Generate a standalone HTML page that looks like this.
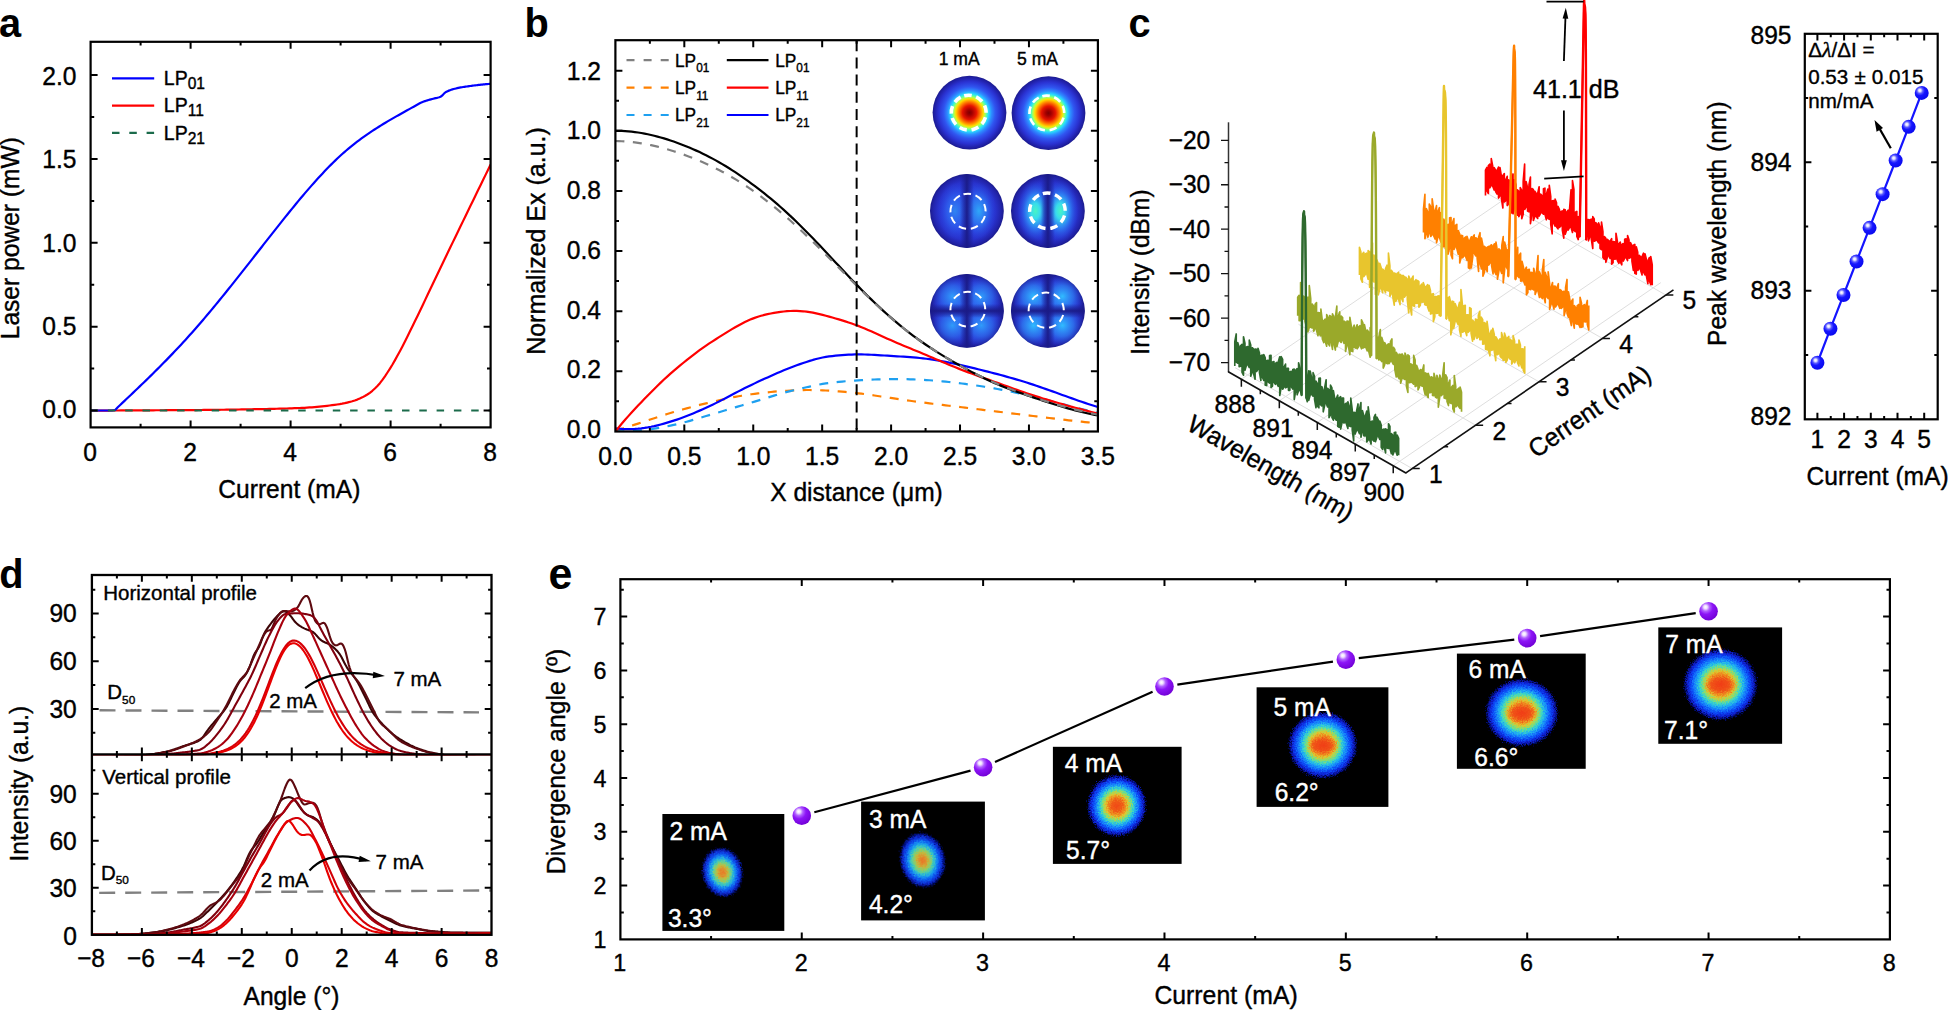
<!DOCTYPE html>
<html><head><meta charset="utf-8"><title>Figure</title>
<style>
html,body{margin:0;padding:0;background:#fff;overflow:hidden}
svg{display:block}
text{font-family:"Liberation Sans",sans-serif;stroke-width:.38px;stroke-linejoin:round}
</style></head><body>
<svg width="1949" height="1010" viewBox="0 0 1949 1010">
<rect width="1949" height="1010" fill="#fff"/>
<g id="pa">
<text transform="translate(-1 37.2) scale(1 1.045)" font-size="39.8" font-weight="bold" >a</text>
<clipPath id="ca"><rect x="90.6" y="41.8" width="400" height="385.6"/></clipPath>
<g clip-path="url(#ca)">
<polyline points="90.6,410.6 93.12,410.59 95.63,410.58 98.15,410.57 100.66,410.56 103.18,410.55 105.69,410.54 108.21,410.53 110.73,410.52 113.24,410.51 115.76,410.5 118.27,410.48 120.79,410.47 123.3,410.46 125.82,410.44 128.34,410.43 130.85,410.41 133.37,410.4 135.88,410.38 138.4,410.37 140.91,410.35 143.43,410.34 145.95,410.32 148.46,410.31 150.98,410.29 153.49,410.28 156.01,410.27 158.52,410.25 161.04,410.24 163.56,410.23 166.07,410.21 168.59,410.2 171.1,410.19 173.62,410.17 176.13,410.16 178.65,410.15 181.17,410.13 183.68,410.12 186.2,410.1 188.71,410.08 191.23,410.07 193.74,410.05 196.26,410.03 198.78,410.01 201.29,409.99 203.81,409.97 206.32,409.94 208.84,409.92 211.35,409.89 213.87,409.86 216.39,409.83 218.9,409.79 221.42,409.76 223.93,409.73 226.45,409.69 228.96,409.65 231.48,409.61 234,409.57 236.51,409.53 239.03,409.49 241.54,409.45 244.06,409.41 246.57,409.36 249.09,409.32 251.61,409.27 254.12,409.22 256.64,409.18 259.15,409.13 261.67,409.08 264.18,409.03 266.7,408.98 269.22,408.93 271.73,408.87 274.25,408.82 276.76,408.75 279.28,408.69 281.79,408.62 284.31,408.55 286.83,408.48 289.34,408.4 291.86,408.31 294.37,408.22 296.89,408.13 299.41,408.02 301.92,407.91 304.44,407.78 306.95,407.64 309.47,407.47 311.98,407.28 314.5,407.08 317.02,406.86 319.53,406.62 322.05,406.37 324.56,406.1 327.08,405.82 329.59,405.52 332.11,405.2 334.63,404.87 337.14,404.52 339.66,404.13 342.17,403.68 344.69,403.16 347.2,402.58 349.72,401.94 352.24,401.24 354.75,400.48 357.27,399.61 359.78,398.56 362.3,397.36 364.81,396 367.33,394.5 369.85,392.79 372.36,390.77 374.88,388.46 377.39,385.91 379.91,383.14 382.42,379.92 384.94,376.33 387.46,372.5 389.97,368.54 392.49,364.46 395,360.12 397.52,355.58 400.03,350.94 402.55,346.16 405.07,341.22 407.58,336.18 410.1,331.1 412.61,326 415.13,320.85 417.64,315.65 420.16,310.41 422.68,305.15 425.19,299.87 427.71,294.58 430.22,289.28 432.74,283.99 435.25,278.7 437.77,273.44 440.29,268.21 442.8,262.99 445.32,257.77 447.83,252.56 450.35,247.35 452.86,242.14 455.38,236.94 457.9,231.74 460.41,226.55 462.93,221.36 465.44,216.18 467.96,211 470.47,205.83 472.99,200.66 475.51,195.49 478.02,190.33 480.54,185.18 483.05,180.03 485.57,174.88 488.08,169.74 490.6,164.6" fill="none" stroke="#ff0000" stroke-width="2.2" stroke-linejoin="round" />
<polyline points="90.6,410.5 112,410.5 115.2,410 118,406.98 120.17,404.94 122.35,402.89 124.52,400.85 126.7,398.79 128.87,396.74 131.04,394.68 133.22,392.62 135.39,390.55 137.57,388.47 139.74,386.39 141.92,384.29 144.09,382.2 146.26,380.09 148.44,377.97 150.61,375.84 152.79,373.71 154.96,371.56 157.13,369.39 159.31,367.22 161.48,365.03 163.66,362.83 165.83,360.62 168,358.39 170.18,356.14 172.35,353.88 174.53,351.6 176.7,349.3 178.87,346.99 181.05,344.65 183.22,342.3 185.4,339.92 187.57,337.53 189.75,335.11 191.92,332.67 194.09,330.22 196.27,327.74 198.44,325.24 200.62,322.72 202.79,320.18 204.96,317.63 207.14,315.06 209.31,312.47 211.49,309.86 213.66,307.25 215.83,304.61 218.01,301.97 220.18,299.31 222.36,296.63 224.53,293.95 226.71,291.26 228.88,288.55 231.05,285.84 233.23,283.11 235.4,280.38 237.58,277.64 239.75,274.9 241.92,272.15 244.1,269.39 246.27,266.63 248.45,263.86 250.62,261.09 252.79,258.32 254.97,255.55 257.14,252.77 259.32,249.99 261.49,247.22 263.66,244.44 265.84,241.67 268.01,238.9 270.19,236.13 272.36,233.36 274.54,230.6 276.71,227.85 278.88,225.1 281.06,222.36 283.23,219.63 285.41,216.92 287.58,214.21 289.75,211.52 291.93,208.84 294.1,206.18 296.28,203.54 298.45,200.91 300.62,198.31 302.8,195.72 304.97,193.16 307.15,190.62 309.32,188.11 311.49,185.62 313.67,183.16 315.84,180.73 318.02,178.33 320.19,175.96 322.37,173.63 324.54,171.33 326.71,169.06 328.89,166.83 331.06,164.64 333.24,162.49 335.41,160.38 337.58,158.31 339.76,156.29 341.93,154.31 344.11,152.38 346.28,150.49 348.45,148.65 350.63,146.85 352.8,145.1 354.98,143.38 357.15,141.7 359.33,140.06 361.5,138.46 363.67,136.89 365.85,135.35 368.02,133.85 370.2,132.37 372.37,130.92 374.54,129.5 376.72,128.1 378.89,126.73 381.07,125.37 383.24,124.04 385.41,122.73 387.59,121.43 389.76,120.16 391.94,118.89 394.11,117.64 396.28,116.4 398.46,115.17 400.63,113.95 402.81,112.73 404.98,111.52 407.16,110.32 409.33,109.11 411.5,107.91 413.68,106.71 415.85,105.5 418.03,104.29 420.2,103.08 421.39,102.56 422.59,102.04 423.78,101.56 424.97,101.11 426.17,100.71 427.36,100.35 428.55,100.01 429.75,99.68 430.94,99.36 432.13,99.04 433.33,98.71 434.52,98.41 435.71,98.13 436.91,97.86 438.1,97.55 439.29,97.19 440.48,96.74 441.68,96.04 442.87,94.88 444.06,93.57 445.26,92.43 446.45,91.72 447.64,91.14 448.84,90.63 450.03,90.17 451.22,89.76 452.42,89.39 453.61,89.05 454.8,88.74 456,88.45 457.19,88.18 458.38,87.92 459.58,87.68 460.77,87.45 461.96,87.24 463.16,87.03 464.35,86.84 465.54,86.66 466.74,86.48 467.93,86.31 469.12,86.14 470.32,85.98 471.51,85.83 472.7,85.67 473.89,85.52 475.09,85.37 476.28,85.22 477.47,85.08 478.67,84.94 479.86,84.8 481.05,84.67 482.25,84.54 483.44,84.42 484.63,84.3 485.83,84.19 487.02,84.09 488.21,83.98 489.41,83.89 490.6,83.8" fill="none" stroke="#0000ff" stroke-width="2.2" stroke-linejoin="round" />
<line x1="90.6" y1="410.5" x2="490.6" y2="410.5" stroke="#1b6b4b" stroke-width="2" stroke-dasharray="7.5 9.8"/>
</g>
<rect x="90.6" y="41.8" width="400" height="385.6" fill="none" stroke="#000" stroke-width="2.2"/>
<path d="M190.6 427.4v-7M290.6 427.4v-7M390.6 427.4v-7" stroke="#000" stroke-width="2" fill="none"/>
<path d="M140.6 427.4v-3.6M240.6 427.4v-3.6M340.6 427.4v-3.6M440.6 427.4v-3.6" stroke="#000" stroke-width="2" fill="none"/>
<path d="M190.6 41.8v7M290.6 41.8v7M390.6 41.8v7" stroke="#000" stroke-width="2" fill="none"/>
<path d="M140.6 41.8v3.6M240.6 41.8v3.6M340.6 41.8v3.6M440.6 41.8v3.6" stroke="#000" stroke-width="2" fill="none"/>
<path d="M90.6 410.5h7M90.6 326.65h7M90.6 242.8h7M90.6 158.95h7M90.6 75.1h7" stroke="#000" stroke-width="2" fill="none"/>
<path d="M90.6 368.57h3.6M90.6 284.73h3.6M90.6 200.88h3.6M90.6 117.03h3.6" stroke="#000" stroke-width="2" fill="none"/>
<path d="M490.6 410.5h-7M490.6 326.65h-7M490.6 242.8h-7M490.6 158.95h-7M490.6 75.1h-7" stroke="#000" stroke-width="2" fill="none"/>
<path d="M490.6 368.57h-3.6M490.6 284.73h-3.6M490.6 200.88h-3.6M490.6 117.03h-3.6" stroke="#000" stroke-width="2" fill="none"/>
<text transform="translate(90 461.2) scale(1 1.045)" font-size="24.6" text-anchor="middle" stroke="#000" >0</text>
<text transform="translate(190 461.2) scale(1 1.045)" font-size="24.6" text-anchor="middle" stroke="#000" >2</text>
<text transform="translate(290 461.2) scale(1 1.045)" font-size="24.6" text-anchor="middle" stroke="#000" >4</text>
<text transform="translate(390 461.2) scale(1 1.045)" font-size="24.6" text-anchor="middle" stroke="#000" >6</text>
<text transform="translate(490 461.2) scale(1 1.045)" font-size="24.6" text-anchor="middle" stroke="#000" >8</text>
<text transform="translate(76.4 418) scale(1 1.045)" font-size="24.6" text-anchor="end" stroke="#000" >0.0</text>
<text transform="translate(76.4 334.75) scale(1 1.045)" font-size="24.6" text-anchor="end" stroke="#000" >0.5</text>
<text transform="translate(76.4 251.5) scale(1 1.045)" font-size="24.6" text-anchor="end" stroke="#000" >1.0</text>
<text transform="translate(76.4 168.25) scale(1 1.045)" font-size="24.6" text-anchor="end" stroke="#000" >1.5</text>
<text transform="translate(76.4 85) scale(1 1.045)" font-size="24.6" text-anchor="end" stroke="#000" >2.0</text>
<text transform="translate(289.3 497.8) scale(1 1.045)" font-size="24.6" text-anchor="middle" stroke="#000" >Current (mA)</text>
<text transform="translate(18.9 238.2) rotate(-90) scale(1 1.045)" font-size="24.6" text-anchor="middle" stroke="#000" >Laser power (mW)</text>
<line x1="112" y1="78.3" x2="154.2" y2="78.3" stroke="#0000ff" stroke-width="2.2" />
<text transform="translate(163.8 85) scale(1 1.045)" font-size="19.5" stroke="#000" >LP<tspan font-size="15.6" dy="3.8">01</tspan></text>
<line x1="112" y1="105.6" x2="154.2" y2="105.6" stroke="#ff0000" stroke-width="2.2" />
<text transform="translate(163.8 112.3) scale(1 1.045)" font-size="19.5" stroke="#000" >LP<tspan font-size="15.6" dy="3.8">11</tspan></text>
<line x1="112" y1="132.9" x2="154.2" y2="132.9" stroke="#1b6b4b" stroke-width="2.2" stroke-dasharray="7.5 9.8"/>
<text transform="translate(163.8 139.6) scale(1 1.045)" font-size="19.5" stroke="#000" >LP<tspan font-size="15.6" dy="3.8">21</tspan></text>
</g>
<g id="pb">
<text transform="translate(524.5 37.4) scale(1 1.045)" font-size="39.8" font-weight="bold" >b</text>
<clipPath id="cb"><rect x="615.4" y="40.2" width="482.5" height="391.3"/></clipPath>
<g clip-path="url(#cb)">
<polyline points="615.4,430.8 618.64,429.82 621.88,428.82 625.11,427.81 628.35,426.77 631.59,425.73 634.83,424.67 638.07,423.6 641.3,422.53 644.54,421.45 647.78,420.37 651.02,419.29 654.26,418.21 657.5,417.14 660.73,416.08 663.97,415.04 667.21,414.02 670.45,413.02 673.69,412.04 676.92,411.09 680.16,410.15 683.4,409.23 686.64,408.33 689.88,407.45 693.11,406.59 696.35,405.74 699.59,404.92 702.83,404.13 706.07,403.35 709.3,402.6 712.54,401.86 715.78,401.12 719.02,400.39 722.26,399.65 725.49,398.91 728.73,398.2 731.97,397.51 735.21,396.87 738.45,396.27 741.69,395.72 744.92,395.21 748.16,394.73 751.4,394.28 754.64,393.85 757.88,393.44 761.11,393.04 764.35,392.67 767.59,392.31 770.83,391.99 774.07,391.69 777.3,391.42 780.54,391.17 783.78,390.94 787.02,390.74 790.26,390.56 793.49,390.39 796.73,390.25 799.97,390.14 803.21,390.07 806.45,390.02 809.69,390.01 812.92,390.04 816.16,390.1 819.4,390.2 822.64,390.33 825.88,390.49 829.11,390.67 832.35,390.89 835.59,391.12 838.83,391.37 842.07,391.64 845.3,391.93 848.54,392.24 851.78,392.57 855.02,392.92 858.26,393.3 861.49,393.7 864.73,394.13 867.97,394.57 871.21,395.03 874.45,395.51 877.69,395.99 880.92,396.48 884.16,396.98 887.4,397.47 890.64,397.96 893.88,398.45 897.11,398.93 900.35,399.4 903.59,399.86 906.83,400.32 910.07,400.77 913.3,401.22 916.54,401.66 919.78,402.09 923.02,402.51 926.26,402.93 929.49,403.34 932.73,403.75 935.97,404.15 939.21,404.55 942.45,404.94 945.68,405.33 948.92,405.72 952.16,406.11 955.4,406.5 958.64,406.88 961.88,407.27 965.11,407.67 968.35,408.06 971.59,408.46 974.83,408.85 978.07,409.25 981.3,409.64 984.54,410.04 987.78,410.44 991.02,410.84 994.26,411.23 997.49,411.63 1000.73,412.02 1003.97,412.42 1007.21,412.81 1010.45,413.2 1013.68,413.6 1016.92,413.99 1020.16,414.39 1023.4,414.79 1026.64,415.18 1029.88,415.58 1033.11,415.98 1036.35,416.38 1039.59,416.78 1042.83,417.19 1046.07,417.58 1049.3,417.98 1052.54,418.38 1055.78,418.77 1059.02,419.16 1062.26,419.54 1065.49,419.92 1068.73,420.29 1071.97,420.66 1075.21,421.02 1078.45,421.37 1081.68,421.71 1084.92,422.05 1088.16,422.37 1091.4,422.69 1094.64,422.99 1097.88,423.28" fill="none" stroke="#ff8000" stroke-width="2.2" stroke-linejoin="round" stroke-dasharray="9 8.5"/>
<polyline points="615.4,431.4 618.64,431.45 621.88,431.44 625.11,431.4 628.35,431.3 631.59,431.16 634.83,430.96 638.07,430.72 641.3,430.42 644.54,430.07 647.78,429.67 651.02,429.22 654.26,428.71 657.5,428.16 660.73,427.57 663.97,426.94 667.21,426.3 670.45,425.63 673.69,424.93 676.92,424.2 680.16,423.44 683.4,422.62 686.64,421.76 689.88,420.85 693.11,419.91 696.35,418.95 699.59,417.98 702.83,417.01 706.07,416.06 709.3,415.11 712.54,414.16 715.78,413.2 719.02,412.24 722.26,411.27 725.49,410.29 728.73,409.31 731.97,408.33 735.21,407.35 738.45,406.39 741.69,405.44 744.92,404.5 748.16,403.55 751.4,402.59 754.64,401.61 757.88,400.62 761.11,399.62 764.35,398.61 767.59,397.61 770.83,396.6 774.07,395.61 777.3,394.64 780.54,393.7 783.78,392.78 787.02,391.9 790.26,391.07 793.49,390.27 796.73,389.51 799.97,388.76 803.21,388.03 806.45,387.29 809.69,386.56 812.92,385.85 816.16,385.17 819.4,384.53 822.64,383.95 825.88,383.43 829.11,382.97 832.35,382.56 835.59,382.19 838.83,381.86 842.07,381.55 845.3,381.26 848.54,381 851.78,380.75 855.02,380.53 858.26,380.31 861.49,380.12 864.73,379.94 867.97,379.77 871.21,379.62 874.45,379.49 877.69,379.37 880.92,379.28 884.16,379.2 887.4,379.14 890.64,379.1 893.88,379.08 897.11,379.08 900.35,379.1 903.59,379.14 906.83,379.2 910.07,379.29 913.3,379.39 916.54,379.52 919.78,379.67 923.02,379.84 926.26,380.04 929.49,380.26 932.73,380.51 935.97,380.77 939.21,381.05 942.45,381.36 945.68,381.68 948.92,382.02 952.16,382.38 955.4,382.75 958.64,383.13 961.88,383.53 965.11,383.95 968.35,384.37 971.59,384.81 974.83,385.27 978.07,385.74 981.3,386.23 984.54,386.74 987.78,387.26 991.02,387.81 994.26,388.37 997.49,388.96 1000.73,389.56 1003.97,390.19 1007.21,390.84 1010.45,391.5 1013.68,392.18 1016.92,392.88 1020.16,393.6 1023.4,394.33 1026.64,395.08 1029.88,395.85 1033.11,396.63 1036.35,397.42 1039.59,398.23 1042.83,399.04 1046.07,399.86 1049.3,400.69 1052.54,401.53 1055.78,402.37 1059.02,403.21 1062.26,404.05 1065.49,404.89 1068.73,405.72 1071.97,406.55 1075.21,407.38 1078.45,408.2 1081.68,409 1084.92,409.8 1088.16,410.59 1091.4,411.36 1094.64,412.11 1097.88,412.85" fill="none" stroke="#1ea0f0" stroke-width="2.2" stroke-linejoin="round" stroke-dasharray="9 8.5"/>
<polyline points="615.4,428.45 618.64,428.74 621.88,428.95 625.11,429.06 628.35,429.09 631.59,429.03 634.83,428.89 638.07,428.65 641.3,428.32 644.54,427.9 647.78,427.39 651.02,426.78 654.26,426.09 657.5,425.32 660.73,424.48 663.97,423.59 667.21,422.65 670.45,421.67 673.69,420.66 676.92,419.6 680.16,418.49 683.4,417.32 686.64,416.08 689.88,414.79 693.11,413.44 696.35,412.05 699.59,410.63 702.83,409.19 706.07,407.72 709.3,406.23 712.54,404.7 715.78,403.13 719.02,401.52 722.26,399.87 725.49,398.18 728.73,396.47 731.97,394.75 735.21,393.05 738.45,391.36 741.69,389.71 744.92,388.08 748.16,386.49 751.4,384.91 754.64,383.37 757.88,381.84 761.11,380.34 764.35,378.86 767.59,377.39 770.83,375.93 774.07,374.49 777.3,373.07 780.54,371.67 783.78,370.3 787.02,368.97 790.26,367.69 793.49,366.45 796.73,365.25 799.97,364.1 803.21,362.99 806.45,361.92 809.69,360.9 812.92,359.93 816.16,359.04 819.4,358.24 822.64,357.54 825.88,356.95 829.11,356.46 832.35,356.04 835.59,355.7 838.83,355.4 842.07,355.13 845.3,354.91 848.54,354.72 851.78,354.57 855.02,354.47 858.26,354.43 861.49,354.44 864.73,354.5 867.97,354.6 871.21,354.74 874.45,354.9 877.69,355.08 880.92,355.28 884.16,355.49 887.4,355.71 890.64,355.92 893.88,356.12 897.11,356.32 900.35,356.52 903.59,356.72 906.83,356.94 910.07,357.17 913.3,357.42 916.54,357.7 919.78,358.01 923.02,358.35 926.26,358.74 929.49,359.18 932.73,359.66 935.97,360.17 939.21,360.73 942.45,361.32 945.68,361.94 948.92,362.58 952.16,363.26 955.4,363.95 958.64,364.66 961.88,365.38 965.11,366.12 968.35,366.88 971.59,367.64 974.83,368.42 978.07,369.21 981.3,370.01 984.54,370.82 987.78,371.64 991.02,372.48 994.26,373.32 997.49,374.18 1000.73,375.04 1003.97,375.92 1007.21,376.82 1010.45,377.73 1013.68,378.65 1016.92,379.6 1020.16,380.57 1023.4,381.55 1026.64,382.57 1029.88,383.6 1033.11,384.66 1036.35,385.75 1039.59,386.85 1042.83,387.97 1046.07,389.11 1049.3,390.26 1052.54,391.41 1055.78,392.58 1059.02,393.74 1062.26,394.91 1065.49,396.08 1068.73,397.24 1071.97,398.39 1075.21,399.54 1078.45,400.67 1081.68,401.79 1084.92,402.89 1088.16,403.97 1091.4,405.02 1094.64,406.05 1097.88,407.05" fill="none" stroke="#0000ff" stroke-width="2.2" stroke-linejoin="round" />
<polyline points="615.4,431.4 618.64,427.43 621.88,423.56 625.11,419.8 628.35,416.12 631.59,412.52 634.83,409 638.07,405.54 641.3,402.14 644.54,398.79 647.78,395.48 651.02,392.21 654.26,388.97 657.5,385.78 660.73,382.64 663.97,379.57 667.21,376.59 670.45,373.69 673.69,370.87 676.92,368.12 680.16,365.42 683.4,362.77 686.64,360.15 689.88,357.57 693.11,355.04 696.35,352.56 699.59,350.16 702.83,347.83 706.07,345.59 709.3,343.42 712.54,341.3 715.78,339.22 719.02,337.17 722.26,335.12 725.49,333.09 728.73,331.1 731.97,329.15 735.21,327.25 738.45,325.43 741.69,323.68 744.92,322.04 748.16,320.51 751.4,319.11 754.64,317.86 757.88,316.76 761.11,315.79 764.35,314.93 767.59,314.17 770.83,313.5 774.07,312.88 777.3,312.35 780.54,311.88 783.78,311.5 787.02,311.21 790.26,311.01 793.49,310.92 796.73,310.93 799.97,311.05 803.21,311.28 806.45,311.64 809.69,312.12 812.92,312.69 816.16,313.36 819.4,314.09 822.64,314.88 825.88,315.72 829.11,316.59 832.35,317.5 835.59,318.44 838.83,319.4 842.07,320.39 845.3,321.4 848.54,322.45 851.78,323.54 855.02,324.69 858.26,325.9 861.49,327.18 864.73,328.52 867.97,329.9 871.21,331.32 874.45,332.77 877.69,334.24 880.92,335.72 884.16,337.2 887.4,338.66 890.64,340.11 893.88,341.54 897.11,342.93 900.35,344.31 903.59,345.67 906.83,347.01 910.07,348.35 913.3,349.68 916.54,351.01 919.78,352.35 923.02,353.69 926.26,355.04 929.49,356.4 932.73,357.78 935.97,359.16 939.21,360.54 942.45,361.92 945.68,363.29 948.92,364.65 952.16,366 955.4,367.32 958.64,368.63 961.88,369.9 965.11,371.15 968.35,372.38 971.59,373.58 974.83,374.77 978.07,375.94 981.3,377.1 984.54,378.26 987.78,379.41 991.02,380.56 994.26,381.72 997.49,382.88 1000.73,384.04 1003.97,385.21 1007.21,386.37 1010.45,387.54 1013.68,388.69 1016.92,389.84 1020.16,390.97 1023.4,392.09 1026.64,393.2 1029.88,394.28 1033.11,395.35 1036.35,396.39 1039.59,397.42 1042.83,398.43 1046.07,399.42 1049.3,400.39 1052.54,401.35 1055.78,402.29 1059.02,403.22 1062.26,404.14 1065.49,405.05 1068.73,405.94 1071.97,406.83 1075.21,407.7 1078.45,408.57 1081.68,409.43 1084.92,410.29 1088.16,411.14 1091.4,411.98 1094.64,412.83 1097.88,413.66" fill="none" stroke="#ff0000" stroke-width="2.2" stroke-linejoin="round" />
<polyline points="615.4,130.8 618.64,130.82 621.88,130.92 625.11,131.1 628.35,131.34 631.59,131.66 634.83,132.05 638.07,132.5 641.3,133.02 644.54,133.61 647.78,134.26 651.02,134.97 654.26,135.74 657.5,136.57 660.73,137.46 663.97,138.4 667.21,139.4 670.45,140.46 673.69,141.56 676.92,142.71 680.16,143.92 683.4,145.16 686.64,146.46 689.88,147.8 693.11,149.19 696.35,150.63 699.59,152.11 702.83,153.66 706.07,155.25 709.3,156.9 712.54,158.61 715.78,160.37 719.02,162.19 722.26,164.08 725.49,166.02 728.73,168.03 731.97,170.09 735.21,172.2 738.45,174.37 741.69,176.59 744.92,178.85 748.16,181.17 751.4,183.54 754.64,185.95 757.88,188.4 761.11,190.9 764.35,193.46 767.59,196.06 770.83,198.71 774.07,201.42 777.3,204.18 780.54,207 783.78,209.89 787.02,212.83 790.26,215.83 793.49,218.89 796.73,222.01 799.97,225.19 803.21,228.41 806.45,231.67 809.69,234.98 812.92,238.32 816.16,241.69 819.4,245.1 822.64,248.53 825.88,251.97 829.11,255.44 832.35,258.91 835.59,262.39 838.83,265.87 842.07,269.34 845.3,272.79 848.54,276.23 851.78,279.64 855.02,283.03 858.26,286.38 861.49,289.69 864.73,292.95 867.97,296.18 871.21,299.36 874.45,302.49 877.69,305.57 880.92,308.61 884.16,311.58 887.4,314.51 890.64,317.37 893.88,320.17 897.11,322.92 900.35,325.6 903.59,328.23 906.83,330.8 910.07,333.31 913.3,335.76 916.54,338.15 919.78,340.49 923.02,342.77 926.26,345 929.49,347.17 932.73,349.29 935.97,351.36 939.21,353.39 942.45,355.38 945.68,357.32 948.92,359.23 952.16,361.11 955.4,362.97 958.64,364.79 961.88,366.6 965.11,368.38 968.35,370.14 971.59,371.86 974.83,373.56 978.07,375.22 981.3,376.85 984.54,378.43 987.78,379.97 991.02,381.46 994.26,382.9 997.49,384.29 1000.73,385.63 1003.97,386.93 1007.21,388.19 1010.45,389.41 1013.68,390.6 1016.92,391.76 1020.16,392.9 1023.4,394.03 1026.64,395.14 1029.88,396.24 1033.11,397.34 1036.35,398.44 1039.59,399.52 1042.83,400.59 1046.07,401.65 1049.3,402.7 1052.54,403.73 1055.78,404.74 1059.02,405.74 1062.26,406.71 1065.49,407.66 1068.73,408.58 1071.97,409.48 1075.21,410.35 1078.45,411.18 1081.68,411.99 1084.92,412.76 1088.16,413.5 1091.4,414.19 1094.64,414.85 1097.88,415.47" fill="none" stroke="#000" stroke-width="2.2" stroke-linejoin="round" />
<polyline points="615.4,141.02 618.64,141.09 621.88,141.23 625.11,141.43 628.35,141.69 631.59,142.02 634.83,142.4 638.07,142.84 641.3,143.34 644.54,143.9 647.78,144.51 651.02,145.17 654.26,145.89 657.5,146.66 660.73,147.48 663.97,148.34 667.21,149.26 670.45,150.22 673.69,151.23 676.92,152.28 680.16,153.38 683.4,154.52 686.64,155.69 689.88,156.91 693.11,158.18 696.35,159.49 699.59,160.84 702.83,162.24 706.07,163.69 709.3,165.19 712.54,166.74 715.78,168.34 719.02,170 722.26,171.71 725.49,173.48 728.73,175.3 731.97,177.18 735.21,179.12 738.45,181.11 741.69,183.15 744.92,185.26 748.16,187.41 751.4,189.63 754.64,191.9 757.88,194.23 761.11,196.61 764.35,199.05 767.59,201.54 770.83,204.09 774.07,206.7 777.3,209.36 780.54,212.07 783.78,214.84 787.02,217.66 790.26,220.54 793.49,223.47 796.73,226.44 799.97,229.46 803.21,232.52 806.45,235.61 809.69,238.74 812.92,241.9 816.16,245.08 819.4,248.28 822.64,251.5 825.88,254.73 829.11,257.98 832.35,261.23 835.59,264.49 838.83,267.75 842.07,271.01 845.3,274.27 848.54,277.52 851.78,280.77 855.02,284 858.26,287.22 861.49,290.42 864.73,293.59 867.97,296.75 871.21,299.87 874.45,302.95 877.69,305.99 880.92,308.99 884.16,311.94 887.4,314.84 890.64,317.67 893.88,320.45 897.11,323.16 900.35,325.81 903.59,328.4 906.83,330.94 910.07,333.42 913.3,335.84 916.54,338.2 919.78,340.52 923.02,342.78 926.26,345 929.49,347.16 932.73,349.28 935.97,351.36 939.21,353.39 942.45,355.38 945.68,357.33 948.92,359.25 952.16,361.13 955.4,362.98 958.64,364.8 961.88,366.59 965.11,368.35 968.35,370.08 971.59,371.77 974.83,373.44 978.07,375.06 981.3,376.65 984.54,378.2 987.78,379.71 991.02,381.18 994.26,382.6 997.49,383.98 1000.73,385.31 1003.97,386.61 1007.21,387.87 1010.45,389.09 1013.68,390.29 1016.92,391.46 1020.16,392.6 1023.4,393.73 1026.64,394.84 1029.88,395.94 1033.11,397.03 1036.35,398.1 1039.59,399.17 1042.83,400.21 1046.07,401.25 1049.3,402.26 1052.54,403.26 1055.78,404.23 1059.02,405.19 1062.26,406.12 1065.49,407.03 1068.73,407.92 1071.97,408.78 1075.21,409.61 1078.45,410.41 1081.68,411.19 1084.92,411.93 1088.16,412.64 1091.4,413.32 1094.64,413.96 1097.88,414.57" fill="none" stroke="#808080" stroke-width="2.2" stroke-linejoin="round" stroke-dasharray="9 8.5"/>
<line x1="856.64" y1="40.2" x2="856.64" y2="431.5" stroke="#000" stroke-width="2" stroke-dasharray="11 6.2"/>
</g>
<defs>
<radialGradient id="g01" ><stop offset="0" stop-color="#7f0000"/><stop offset="0.07" stop-color="#a00000"/><stop offset="0.19" stop-color="#e61400"/><stop offset="0.29" stop-color="#ff7a00"/><stop offset="0.37" stop-color="#ffdc00"/><stop offset="0.42" stop-color="#b4ff4b"/><stop offset="0.47" stop-color="#50ffb4"/><stop offset="0.52" stop-color="#28d7ff"/><stop offset="0.6" stop-color="#2d8cff"/><stop offset="0.7" stop-color="#3055f0"/><stop offset="0.84" stop-color="#2a32d2"/><stop offset="0.94" stop-color="#2121aa"/><stop offset="1" stop-color="#1b1b8e"/></radialGradient>
<radialGradient id="gbase" ><stop offset="0" stop-color="#2c4cec"/><stop offset="0.5" stop-color="#2b42e4"/><stop offset="0.78" stop-color="#2832cc"/><stop offset="0.92" stop-color="#2224ac"/><stop offset="1" stop-color="#1b1b8c"/></radialGradient>
<radialGradient id="lobeA" ><stop offset="0" stop-color="#2fa8f8" stop-opacity="1"/><stop offset="0.45" stop-color="#2f84f4" stop-opacity="0.7"/><stop offset="1" stop-color="#2b44e4" stop-opacity="0"/></radialGradient>
<radialGradient id="lobeA2" ><stop offset="0" stop-color="#2f8cf4" stop-opacity="0.9"/><stop offset="0.5" stop-color="#2f6cf0" stop-opacity="0.55"/><stop offset="1" stop-color="#2b44e4" stop-opacity="0"/></radialGradient>
<radialGradient id="lobeB" ><stop offset="0" stop-color="#48f4c4" stop-opacity="1"/><stop offset="0.25" stop-color="#38dcec" stop-opacity="1"/><stop offset="0.55" stop-color="#2f90f8" stop-opacity="0.75"/><stop offset="1" stop-color="#2b44e4" stop-opacity="0"/></radialGradient>
<radialGradient id="lobeC" ><stop offset="0" stop-color="#2f9cfa" stop-opacity="1"/><stop offset="0.5" stop-color="#2f74f2" stop-opacity="0.65"/><stop offset="1" stop-color="#2b44e4" stop-opacity="0"/></radialGradient>
<radialGradient id="lobeD" ><stop offset="0" stop-color="#30bcff" stop-opacity="1"/><stop offset="0.5" stop-color="#2f84f6" stop-opacity="0.7"/><stop offset="1" stop-color="#2b44e4" stop-opacity="0"/></radialGradient>
<linearGradient id="vdark" x1="0" x2="1" y1="0" y2="0"><stop offset="0" stop-color="#1a1a86" stop-opacity="0"/><stop offset="0.5" stop-color="#1a1a86" stop-opacity="0.95"/><stop offset="1" stop-color="#1a1a86" stop-opacity="0"/></linearGradient>
<linearGradient id="hdark" x1="0" x2="0" y1="0" y2="1"><stop offset="0" stop-color="#1a1a86" stop-opacity="0"/><stop offset="0.5" stop-color="#1a1a86" stop-opacity="0.95"/><stop offset="1" stop-color="#1a1a86" stop-opacity="0"/></linearGradient>
</defs>
<clipPath id="mc00"><circle cx="969.5" cy="112.6" r="36.9"/></clipPath>
<circle cx="969.5" cy="112.6" r="36.9" fill="url(#g01)"/>
<circle cx="968.7" cy="112.6" r="17.4" fill="none" stroke="#fff" stroke-width="3.6" stroke-dasharray="7.53 4.62" transform="rotate(-105 968.7 112.6)"/>
<clipPath id="mc01"><circle cx="1048.5" cy="112.6" r="36.9"/></clipPath>
<circle cx="1048.5" cy="113.1" r="36.9" fill="url(#g01)"/>
<circle cx="1046.8" cy="113" r="17.4" fill="none" stroke="#fff" stroke-width="2.6" stroke-dasharray="7.53 4.62" transform="rotate(-105 1046.8 113)"/>
<clipPath id="mc10"><circle cx="966.9" cy="211" r="36.9"/></clipPath>
<circle cx="966.9" cy="211" r="36.9" fill="url(#gbase)"/>
<g clip-path="url(#mc10)">
<ellipse cx="954.9" cy="211" rx="17" ry="29" fill="url(#lobeA2)"/>
<ellipse cx="978.9" cy="211" rx="17" ry="29" fill="url(#lobeA)"/>
<rect x="959.9" y="174.1" width="14" height="73.8" fill="url(#vdark)"/>
</g>
<circle cx="968" cy="211.3" r="17.6" fill="none" stroke="#fff" stroke-width="2" stroke-dasharray="7.62 4.67" transform="rotate(-105 968 211.3)"/>
<clipPath id="mc11"><circle cx="1047.9" cy="211" r="36.9"/></clipPath>
<circle cx="1047.9" cy="211" r="36.9" fill="url(#gbase)"/>
<g clip-path="url(#mc11)">
<ellipse cx="1035.4" cy="211" rx="18" ry="31" fill="url(#lobeB)"/>
<ellipse cx="1060.4" cy="211" rx="18" ry="31" fill="url(#lobeB)"/>
<rect x="1040.9" y="174.1" width="14" height="73.8" fill="url(#vdark)"/>
</g>
<circle cx="1047.4" cy="210.8" r="17.8" fill="none" stroke="#fff" stroke-width="3.4" stroke-dasharray="7.7 4.72" transform="rotate(-105 1047.4 210.8)"/>
<clipPath id="mc20"><circle cx="966.9" cy="310.9" r="36.9"/></clipPath>
<circle cx="966.9" cy="310.9" r="36.9" fill="url(#gbase)"/>
<g clip-path="url(#mc20)">
<circle cx="952.4" cy="296.4" r="22" fill="url(#lobeC)"/>
<circle cx="952.4" cy="325.4" r="22" fill="url(#lobeC)"/>
<circle cx="981.4" cy="296.4" r="22" fill="url(#lobeC)"/>
<circle cx="981.4" cy="325.4" r="22" fill="url(#lobeC)"/>
<rect x="959.9" y="274" width="14" height="73.8" fill="url(#vdark)"/>
<rect x="930" y="303.9" width="73.8" height="14" fill="url(#hdark)"/>
</g>
<circle cx="967.8" cy="309.2" r="17.4" fill="none" stroke="#fff" stroke-width="2" stroke-dasharray="7.53 4.62" transform="rotate(-105 967.8 309.2)"/>
<clipPath id="mc21"><circle cx="1047.9" cy="310.9" r="36.9"/></clipPath>
<circle cx="1047.9" cy="310.9" r="36.9" fill="url(#gbase)"/>
<g clip-path="url(#mc21)">
<circle cx="1033.4" cy="296.4" r="22" fill="url(#lobeD)"/>
<circle cx="1033.4" cy="325.4" r="22" fill="url(#lobeD)"/>
<circle cx="1062.4" cy="296.4" r="22" fill="url(#lobeD)"/>
<circle cx="1062.4" cy="325.4" r="22" fill="url(#lobeD)"/>
<rect x="1040.9" y="274" width="14" height="73.8" fill="url(#vdark)"/>
<rect x="1011" y="303.9" width="73.8" height="14" fill="url(#hdark)"/>
</g>
<circle cx="1046.2" cy="310.2" r="17.6" fill="none" stroke="#fff" stroke-width="2" stroke-dasharray="7.62 4.67" transform="rotate(-105 1046.2 310.2)"/>
<text transform="translate(959.2 65.3) scale(1 1.045)" font-size="17.6" text-anchor="middle" stroke="#000" >1 mA</text>
<text transform="translate(1037.5 65) scale(1 1.045)" font-size="17.6" text-anchor="middle" stroke="#000" >5 mA</text>
<rect x="615.4" y="40.2" width="482.5" height="391.3" fill="none" stroke="#000" stroke-width="2.2"/>
<path d="M684.32 431.5v-7M753.25 431.5v-7M822.17 431.5v-7M891.1 431.5v-7M960.02 431.5v-7M1028.95 431.5v-7" stroke="#000" stroke-width="2" fill="none"/>
<path d="M649.86 431.5v-3.6M718.79 431.5v-3.6M787.71 431.5v-3.6M856.64 431.5v-3.6M925.56 431.5v-3.6M994.49 431.5v-3.6M1063.41 431.5v-3.6" stroke="#000" stroke-width="2" fill="none"/>
<path d="M684.32 40.2v7M753.25 40.2v7M822.17 40.2v7M891.1 40.2v7M960.02 40.2v7M1028.95 40.2v7" stroke="#000" stroke-width="2" fill="none"/>
<path d="M649.86 40.2v3.6M718.79 40.2v3.6M787.71 40.2v3.6M856.64 40.2v3.6M925.56 40.2v3.6M994.49 40.2v3.6M1063.41 40.2v3.6" stroke="#000" stroke-width="2" fill="none"/>
<path d="M615.4 371.28h7M615.4 311.16h7M615.4 251.04h7M615.4 190.92h7M615.4 130.8h7M615.4 70.68h7" stroke="#000" stroke-width="2" fill="none"/>
<path d="M615.4 401.34h3.6M615.4 341.22h3.6M615.4 281.1h3.6M615.4 220.98h3.6M615.4 160.86h3.6M615.4 100.74h3.6" stroke="#000" stroke-width="2" fill="none"/>
<path d="M1097.9 371.28h-7M1097.9 311.16h-7M1097.9 251.04h-7M1097.9 190.92h-7M1097.9 130.8h-7M1097.9 70.68h-7" stroke="#000" stroke-width="2" fill="none"/>
<path d="M1097.9 401.34h-3.6M1097.9 341.22h-3.6M1097.9 281.1h-3.6M1097.9 220.98h-3.6M1097.9 160.86h-3.6M1097.9 100.74h-3.6" stroke="#000" stroke-width="2" fill="none"/>
<text transform="translate(615.4 465) scale(1 1.045)" font-size="24.6" text-anchor="middle" stroke="#000" >0.0</text>
<text transform="translate(684.32 465) scale(1 1.045)" font-size="24.6" text-anchor="middle" stroke="#000" >0.5</text>
<text transform="translate(753.25 465) scale(1 1.045)" font-size="24.6" text-anchor="middle" stroke="#000" >1.0</text>
<text transform="translate(822.17 465) scale(1 1.045)" font-size="24.6" text-anchor="middle" stroke="#000" >1.5</text>
<text transform="translate(891.1 465) scale(1 1.045)" font-size="24.6" text-anchor="middle" stroke="#000" >2.0</text>
<text transform="translate(960.02 465) scale(1 1.045)" font-size="24.6" text-anchor="middle" stroke="#000" >2.5</text>
<text transform="translate(1028.95 465) scale(1 1.045)" font-size="24.6" text-anchor="middle" stroke="#000" >3.0</text>
<text transform="translate(1097.88 465) scale(1 1.045)" font-size="24.6" text-anchor="middle" stroke="#000" >3.5</text>
<text transform="translate(601 437.9) scale(1 1.045)" font-size="24.6" text-anchor="end" stroke="#000" >0.0</text>
<text transform="translate(601 378.2) scale(1 1.045)" font-size="24.6" text-anchor="end" stroke="#000" >0.2</text>
<text transform="translate(601 318.5) scale(1 1.045)" font-size="24.6" text-anchor="end" stroke="#000" >0.4</text>
<text transform="translate(601 258.8) scale(1 1.045)" font-size="24.6" text-anchor="end" stroke="#000" >0.6</text>
<text transform="translate(601 199.1) scale(1 1.045)" font-size="24.6" text-anchor="end" stroke="#000" >0.8</text>
<text transform="translate(601 139.4) scale(1 1.045)" font-size="24.6" text-anchor="end" stroke="#000" >1.0</text>
<text transform="translate(601 79.7) scale(1 1.045)" font-size="24.6" text-anchor="end" stroke="#000" >1.2</text>
<text transform="translate(856.5 500.8) scale(1 1.045)" font-size="24.6" text-anchor="middle" stroke="#000" >X distance (μm)</text>
<text transform="translate(545.4 241) rotate(-90) scale(1 1.045)" font-size="25" text-anchor="middle" stroke="#000" >Normalized Ex (a.u.)</text>
<line x1="626.5" y1="60.1" x2="668.7" y2="60.1" stroke="#808080" stroke-width="2.2" stroke-dasharray="8 9.1"/>
<text transform="translate(675 66.5) scale(1 1.045)" font-size="17.3" stroke="#000" >LP<tspan font-size="11.8" dy="5.5">01</tspan></text>
<line x1="726.8" y1="60.1" x2="768.5" y2="60.1" stroke="#000" stroke-width="2.2" />
<text transform="translate(775.2 66.5) scale(1 1.045)" font-size="17.3" stroke="#000" >LP<tspan font-size="11.8" dy="5.5">01</tspan></text>
<line x1="626.5" y1="87.55" x2="668.7" y2="87.55" stroke="#ff8000" stroke-width="2.2" stroke-dasharray="8 9.1"/>
<text transform="translate(675 93.95) scale(1 1.045)" font-size="17.3" stroke="#000" >LP<tspan font-size="11.8" dy="5.5">11</tspan></text>
<line x1="726.8" y1="87.55" x2="768.5" y2="87.55" stroke="#ff0000" stroke-width="2.2" />
<text transform="translate(775.2 93.95) scale(1 1.045)" font-size="17.3" stroke="#000" >LP<tspan font-size="11.8" dy="5.5">11</tspan></text>
<line x1="626.5" y1="115" x2="668.7" y2="115" stroke="#1ea0f0" stroke-width="2.2" stroke-dasharray="8 9.1"/>
<text transform="translate(675 121.4) scale(1 1.045)" font-size="17.3" stroke="#000" >LP<tspan font-size="11.8" dy="5.5">21</tspan></text>
<line x1="726.8" y1="115" x2="768.5" y2="115" stroke="#0000ff" stroke-width="2.2" />
<text transform="translate(775.2 121.4) scale(1 1.045)" font-size="17.3" stroke="#000" >LP<tspan font-size="11.8" dy="5.5">21</tspan></text>
</g>
<g id="pc">
<defs><radialGradient id="sphB" cx="0.4" cy="0.36" r="0.7" fx="0.36" fy="0.32"><stop offset="0" stop-color="#ffffff"/><stop offset="0.13" stop-color="#e0e0ff"/><stop offset="0.3" stop-color="#5a5aff"/><stop offset="0.5" stop-color="#1616ff"/><stop offset="1" stop-color="#0808ea"/></radialGradient></defs>
<text transform="translate(1128.6 37.2) scale(1 1.045)" font-size="39.8" font-weight="bold" >c</text>
<path d="M1235.04 367.66L1412.24 468.56M1298.44 324.28L1475.64 425.18M1361.84 280.9L1539.04 381.8M1425.24 237.52L1602.44 338.42M1488.64 194.14L1665.84 295.04M1241.36 379.21L1508.9 196.14M1279.33 400.83L1546.88 217.76M1317.3 422.45L1584.85 239.39M1355.27 444.07L1622.82 261.01M1393.24 465.69L1660.79 282.63" stroke="#dedede" stroke-width="1" fill="none"/>
<polyline points="1485.48,195.54 1485.48,170.07 1486.93,167.45 1486.93,190.82 1488.38,193.49 1488.38,165.55 1489.83,164.22 1489.83,187.88 1491.28,185.28 1491.28,158.59 1492.73,166.24 1492.73,186.13 1494.18,190.07 1494.18,167.63 1495.63,170.23 1495.63,191.56 1497.08,194.12 1497.08,170.32 1498.53,166.99 1498.53,198.06 1499.98,195.88 1499.98,167.6 1501.43,176.27 1501.43,198.71 1502.88,208.03 1502.88,175.48 1504.33,173.6 1504.33,202.04 1505.78,200.62 1505.78,179.86 1507.23,176.37 1507.23,205.57 1508.68,203.78 1508.68,179.76 1510.13,181.23 1510.13,204.83 1511.58,212.98 1511.58,181 1513.03,173.95 1513.03,213.81 1514.48,207.85 1514.48,179.79 1515.93,184.63 1515.93,208.18 1517.38,215.17 1517.38,189.72 1518.83,191.32 1518.83,216.73 1520.28,213.85 1520.28,187.61 1521.73,190.32 1521.73,218.76 1523.18,214.15 1523.18,181.27 1524.63,164.14 1524.63,209.54 1526.08,207.1 1526.08,181.56 1527.53,187.39 1527.53,211.03 1528.98,211.81 1528.98,184.77 1530.43,177.08 1530.43,223.67 1531.88,214.52 1531.88,188.58 1533.33,189.38 1533.33,220.49 1534.78,216.61 1534.78,191.07 1536.23,193.41 1536.23,216.19 1537.68,218.45 1537.68,193.39 1539.13,186.74 1539.13,216.19 1540.58,213.42 1540.58,193.96 1542.03,195.54 1542.03,212.58 1543.48,214.15 1543.48,188.83 1544.93,188.14 1544.93,214.39 1546.38,219.79 1546.38,194.14 1547.83,189.14 1547.83,218.11 1549.28,219.26 1549.28,185.27 1550.73,196.25 1550.73,224.47 1552.18,233.83 1552.18,200.79 1553.63,200.69 1553.63,223.12 1555.08,226.1 1555.08,199.11 1556.53,202.87 1556.53,226.76 1557.98,228.91 1557.98,206.28 1559.43,209.49 1559.43,227.43 1560.88,225.96 1560.88,211.53 1562.33,210.97 1562.33,230.05 1563.78,238.19 1563.78,209.39 1565.23,209.71 1565.23,234.18 1566.68,230.03 1566.68,212.04 1568.13,210.21 1568.13,230.16 1569.58,227.26 1569.58,208.87 1571.03,189.81 1571.03,227.34 1572.48,232.44 1572.48,180.55 1573.93,189.45 1573.93,230.43 1575.38,231.68 1575.38,212.28 1576.83,211.37 1576.83,236.43 1578.28,239.61 1578.28,216.61 1579.6,237 1579.97,218.22 1580.33,199.44 1580.7,180.67 1581.06,161.89 1581.43,143.12 1581.78,124.34 1582.13,105.57 1582.48,86.79 1582.81,68.02 1583.14,49.24 1583.47,30.47 1583.54,26.47 1583.59,23.47 1583.64,20.47 1583.7,17.47 1583.75,14.47 1583.8,11.47 1583.87,8.47 1583.94,5.47 1583.96,4.47 1583.97,3.97 1584.01,3.47 1584.04,2.97 1584.07,2.47 1584.1,1.97 1584.14,1.47 1584.17,0.97 1584.2,0.47 1584.32,3.97 1584.44,4.47 1584.56,4.97 1584.67,5.47 1584.79,5.97 1584.91,6.47 1585.03,6.97 1585.06,7.47 1585.11,8.47 1585.26,11.47 1585.4,14.47 1585.47,17.47 1585.52,20.47 1585.56,23.47 1585.61,26.47 1585.66,29.47 1585.72,33.47 1585.86,52.24 1585.94,71.02 1586.01,89.79 1586.04,108.57 1586.07,127.34 1586.1,146.12 1586.14,164.89 1586.18,183.67 1586.2,202.44 1586.2,221.22 1586.2,240 1586.98,235.08 1586.98,219.55 1588.43,219.5 1588.43,240.82 1589.88,236.79 1589.88,219.81 1591.33,219.22 1591.33,239.11 1592.78,248.54 1592.78,216.61 1594.23,218.89 1594.23,241.25 1595.68,240.56 1595.68,222.52 1597.13,224.2 1597.13,240.29 1598.58,242.96 1598.58,222.88 1600.03,227.28 1600.03,248.34 1601.48,249.67 1601.48,221.97 1602.93,231.74 1602.93,257.44 1604.38,259.12 1604.38,236.61 1605.83,238.39 1605.83,262.3 1607.28,257.48 1607.28,239.41 1608.73,240.68 1608.73,255.95 1610.18,258.47 1610.18,241.06 1611.63,238.72 1611.63,264.18 1613.08,262.72 1613.08,241.66 1614.53,241.89 1614.53,259.29 1615.98,258.94 1615.98,233.26 1617.43,241.63 1617.43,260.72 1618.88,263.34 1618.88,243.75 1620.33,242.1 1620.33,261.83 1621.78,264.77 1621.78,244.38 1623.23,243.58 1623.23,261.08 1624.68,258.08 1624.68,239.38 1626.13,238.84 1626.13,257.56 1627.58,260.54 1627.58,235.53 1629.03,239.98 1629.03,258.29 1630.48,257.56 1630.48,242.65 1631.93,245.61 1631.93,261.14 1633.38,270.38 1633.38,245.31 1634.83,244.38 1634.83,273.25 1636.28,274.08 1636.28,246.83 1637.73,252.26 1637.73,270.34 1639.18,268.7 1639.18,255.2 1640.63,256.79 1640.63,270.44 1642.08,274.93 1642.08,256.46 1643.53,253.18 1643.53,272.2 1644.98,274.98 1644.98,253.74 1646.43,259.37 1646.43,276.16 1647.88,283.67 1647.88,261.01 1649.33,257.63 1649.33,280.82 1650.78,284.7 1650.78,256.56 1652.23,264.54 1652.23,285.15" fill="none" stroke="#ff0000" stroke-width="1.65" stroke-linejoin="round" />
<polyline points="1579.6,237 1579.97,218.22 1580.33,199.44 1580.7,180.67 1581.06,161.89 1581.43,143.12 1581.78,124.34 1582.13,105.57 1582.48,86.79 1582.81,68.02 1583.14,49.24 1583.47,30.47 1583.54,26.47 1583.59,23.47 1583.64,20.47 1583.7,17.47 1583.75,14.47 1583.8,11.47 1583.87,8.47 1583.94,5.47 1583.96,4.47 1583.97,3.97 1584.01,3.47 1584.04,2.97 1584.07,2.47 1584.1,1.97 1584.14,1.47 1584.17,0.97 1584.2,0.47 1584.32,3.97 1584.44,4.47 1584.56,4.97 1584.67,5.47 1584.79,5.97 1584.91,6.47 1585.03,6.97 1585.06,7.47 1585.11,8.47 1585.26,11.47 1585.4,14.47 1585.47,17.47 1585.52,20.47 1585.56,23.47 1585.61,26.47 1585.66,29.47 1585.72,33.47 1585.86,52.24 1585.94,71.02 1586.01,89.79 1586.04,108.57 1586.07,127.34 1586.1,146.12 1586.14,164.89 1586.18,183.67 1586.2,202.44 1586.2,221.22 1586.2,240" fill="none" stroke="#ff0000" stroke-width="2.4" stroke-linejoin="round" />
<polyline points="1423.47,232.51 1423.47,208.98 1424.92,194.22 1424.92,238.78 1426.37,233.77 1426.37,208.49 1427.82,212.09 1427.82,237.17 1429.27,232.91 1429.27,203.95 1430.72,206.66 1430.72,236.52 1432.17,234.52 1432.17,198.81 1433.62,209.59 1433.62,235.75 1435.07,239.02 1435.07,211.33 1436.52,205.64 1436.52,242.69 1437.97,237.14 1437.97,211.21 1439.42,207.65 1439.42,237.08 1440.87,241.99 1440.87,212.61 1442.32,220.03 1442.32,246.48 1443.77,246.76 1443.77,219.12 1445.22,222.83 1445.22,246.92 1446.67,254.27 1446.67,225.5 1448.12,224.25 1448.12,254.15 1449.57,248.02 1449.57,217.71 1451.02,217.54 1451.02,255.04 1452.47,258.7 1452.47,222.75 1453.92,218.64 1453.92,249.53 1455.37,246.64 1455.37,225.33 1456.82,224.34 1456.82,248.5 1458.27,254.37 1458.27,230.6 1459.72,234.04 1459.72,262.93 1461.17,257.63 1461.17,235.32 1462.62,235.74 1462.62,257.79 1464.07,255.8 1464.07,238.44 1465.52,236.99 1465.52,256.2 1466.97,260.25 1466.97,236.36 1468.42,240.8 1468.42,267.84 1469.87,268.71 1469.87,240.37 1471.32,236.86 1471.32,268 1472.77,256.89 1472.77,237.19 1474.22,234.93 1474.22,253.09 1475.67,255.95 1475.67,237.7 1477.12,238.97 1477.12,257.99 1478.57,271.38 1478.57,237.17 1480.02,232.71 1480.02,263.36 1481.47,268.86 1481.47,238.18 1482.92,245.32 1482.92,276.14 1484.37,272.54 1484.37,246.26 1485.82,247.78 1485.82,269.41 1487.27,271.6 1487.27,247.27 1488.72,246.34 1488.72,265.18 1490.17,262.73 1490.17,245.63 1491.62,244.84 1491.62,265.83 1493.07,273.89 1493.07,246.19 1494.52,243.75 1494.52,271.31 1495.97,274.53 1495.97,242.09 1497.42,251.19 1497.42,279.24 1498.87,271.42 1498.87,248.76 1500.32,250.49 1500.32,269.48 1501.77,273.35 1501.77,245.64 1503.22,236.55 1503.22,282.84 1504.67,269.43 1504.67,242.16 1506.12,248.3 1506.12,266.55 1507.57,269.5 1507.57,249.86 1508.29,276.56 1508.75,258.31 1509.21,240.06 1509.67,221.81 1510.13,203.56 1510.59,185.31 1511.03,167.06 1511.47,148.81 1511.91,130.56 1512.33,112.31 1512.74,94.06 1513.15,75.81 1513.24,71.81 1513.31,68.81 1513.38,65.81 1513.45,62.81 1513.51,59.81 1513.59,56.81 1513.67,53.81 1513.76,50.81 1513.79,49.81 1513.8,49.31 1513.84,48.81 1513.88,48.31 1513.92,47.81 1513.97,47.31 1514.01,46.81 1514.05,46.31 1514.09,45.81 1514.18,49.31 1514.26,49.81 1514.35,50.31 1514.43,50.81 1514.52,51.31 1514.6,51.81 1514.68,52.31 1514.7,52.81 1514.73,53.81 1514.84,56.81 1514.94,59.81 1514.99,62.81 1515.02,65.81 1515.05,68.81 1515.09,71.81 1515.12,74.81 1515.16,78.81 1515.25,97.06 1515.31,115.31 1515.36,133.56 1515.38,151.81 1515.4,170.06 1515.42,188.31 1515.45,206.56 1515.48,224.81 1515.49,243.06 1515.49,261.31 1515.49,279.56 1516.27,275.35 1516.27,254.55 1517.72,247.27 1517.72,276.25 1519.17,277.68 1519.17,255.23 1520.62,253.21 1520.62,281.07 1522.07,280.88 1522.07,261.32 1523.52,267.48 1523.52,280.93 1524.97,284.9 1524.97,269.63 1526.42,267.23 1526.42,294.86 1527.87,292.57 1527.87,269.88 1529.32,269.3 1529.32,289.3 1530.77,289.61 1530.77,272.41 1532.22,272.67 1532.22,288.85 1533.67,289.96 1533.67,268.29 1535.12,273.93 1535.12,294.39 1536.57,290.74 1536.57,271.49 1538.02,255.51 1538.02,291 1539.47,297.46 1539.47,271.71 1540.92,275.8 1540.92,296.66 1542.37,298.62 1542.37,270.25 1543.82,259.48 1543.82,296.8 1545.27,302.72 1545.27,272.4 1546.72,277.2 1546.72,296.8 1548.17,298.59 1548.17,271.84 1549.62,283.29 1549.62,309.38 1551.07,304.19 1551.07,287.5 1552.52,282.57 1552.52,303.5 1553.97,309.15 1553.97,286.15 1555.42,286.41 1555.42,307 1556.87,304.28 1556.87,288.08 1558.32,283.72 1558.32,304.38 1559.77,308.33 1559.77,289.48 1561.22,290.4 1561.22,308.45 1562.67,306.94 1562.67,291.57 1564.12,291.38 1564.12,315.47 1565.57,310.07 1565.57,287.45 1567.02,279.45 1567.02,313.25 1568.47,317.35 1568.47,291.84 1569.92,299.91 1569.92,318.99 1571.37,325.55 1571.37,301.51 1572.82,299.08 1572.82,320.93 1574.27,328.16 1574.27,305.5 1575.72,307.72 1575.72,323.53 1577.17,324.15 1577.17,305.89 1578.62,304.49 1578.62,323.88 1580.07,327.38 1580.07,297.26 1581.52,303.22 1581.52,327.37 1582.97,326.6 1582.97,305.82 1584.42,304.5 1584.42,321.8 1585.87,321.92 1585.87,305.84 1587.32,300.45 1587.32,324.52 1588.77,329.96 1588.77,305.52" fill="none" stroke="#ff8000" stroke-width="1.65" stroke-linejoin="round" />
<polyline points="1508.29,276.56 1508.75,258.31 1509.21,240.06 1509.67,221.81 1510.13,203.56 1510.59,185.31 1511.03,167.06 1511.47,148.81 1511.91,130.56 1512.33,112.31 1512.74,94.06 1513.15,75.81 1513.24,71.81 1513.31,68.81 1513.38,65.81 1513.45,62.81 1513.51,59.81 1513.59,56.81 1513.67,53.81 1513.76,50.81 1513.79,49.81 1513.8,49.31 1513.84,48.81 1513.88,48.31 1513.92,47.81 1513.97,47.31 1514.01,46.81 1514.05,46.31 1514.09,45.81 1514.18,49.31 1514.26,49.81 1514.35,50.31 1514.43,50.81 1514.52,51.31 1514.6,51.81 1514.68,52.31 1514.7,52.81 1514.73,53.81 1514.84,56.81 1514.94,59.81 1514.99,62.81 1515.02,65.81 1515.05,68.81 1515.09,71.81 1515.12,74.81 1515.16,78.81 1515.25,97.06 1515.31,115.31 1515.36,133.56 1515.38,151.81 1515.4,170.06 1515.42,188.31 1515.45,206.56 1515.48,224.81 1515.49,243.06 1515.49,261.31 1515.49,279.56" fill="none" stroke="#ff8000" stroke-width="2.4" stroke-linejoin="round" />
<polyline points="1359.44,274.96 1359.44,247.32 1360.89,252.04 1360.89,278.87 1362.34,282.16 1362.34,254.14 1363.79,252.33 1363.79,276.65 1365.24,274.52 1365.24,254.02 1366.69,253.17 1366.69,273.62 1368.14,279.22 1368.14,250.63 1369.59,251.87 1369.59,287.37 1371.04,279.78 1371.04,252.55 1372.49,243.07 1372.49,280.6 1373.94,281.84 1373.94,254.99 1375.39,259.63 1375.39,294.39 1376.84,288.85 1376.84,259.85 1378.29,263.49 1378.29,294.8 1379.74,289.4 1379.74,263.28 1381.19,267.75 1381.19,287.44 1382.64,292.66 1382.64,269.02 1384.09,270.48 1384.09,289.13 1385.54,292.7 1385.54,268.55 1386.99,265.22 1386.99,290.35 1388.44,290.95 1388.44,253.01 1389.89,265.62 1389.89,296.25 1391.34,293.64 1391.34,270.26 1392.79,272.35 1392.79,296.62 1394.24,305.13 1394.24,272.97 1395.69,273.64 1395.69,301.54 1397.14,298.39 1397.14,273.77 1398.59,272.33 1398.59,299.58 1400.04,304.62 1400.04,274.34 1401.49,275.55 1401.49,298.29 1402.94,301.62 1402.94,275.24 1404.39,276.76 1404.39,297.23 1405.84,294.95 1405.84,277.17 1407.29,279.31 1407.29,299.72 1408.74,312.9 1408.74,276.01 1410.19,279.57 1410.19,307.36 1411.64,315.04 1411.64,278.83 1413.09,276.08 1413.09,305.6 1414.54,306.42 1414.54,281.51 1415.99,279.68 1415.99,303.19 1417.44,303.41 1417.44,280.52 1418.89,281.63 1418.89,307.24 1420.34,305.27 1420.34,285.97 1421.79,284.08 1421.79,302.28 1423.24,302.05 1423.24,282.65 1424.69,286.59 1424.69,304.48 1426.14,305.18 1426.14,286.72 1427.59,284.74 1427.59,307.02 1429.04,311.03 1429.04,285.3 1430.49,290.66 1430.49,314.06 1431.94,313.53 1431.94,294 1433.39,293.7 1433.39,321.64 1434.84,316.66 1434.84,296.55 1436.29,296.57 1436.29,313.31 1437.74,313.21 1437.74,295.99 1439.19,295.79 1439.19,315.22 1440.58,316.12 1440.85,297.93 1441.12,279.74 1441.39,261.55 1441.66,243.36 1441.93,225.17 1442.19,206.98 1442.44,188.79 1442.7,170.6 1442.95,152.41 1443.19,134.22 1443.43,116.04 1443.49,112.04 1443.53,109.04 1443.56,106.04 1443.6,103.04 1443.64,100.04 1443.69,97.04 1443.74,94.04 1443.79,91.04 1443.8,90.04 1443.81,89.54 1443.84,89.04 1443.86,88.54 1443.89,88.04 1443.91,87.54 1443.93,87.04 1443.96,86.54 1443.98,86.04 1444.13,89.54 1444.28,90.04 1444.42,90.54 1444.57,91.04 1444.71,91.54 1444.86,92.04 1444.99,92.54 1445.02,93.04 1445.08,94.04 1445.26,97.04 1445.44,100.04 1445.52,103.04 1445.58,106.04 1445.63,109.04 1445.69,112.04 1445.74,115.04 1445.82,119.04 1445.98,137.22 1446.07,155.41 1446.15,173.6 1446.19,191.79 1446.23,209.98 1446.27,228.17 1446.31,246.36 1446.36,264.55 1446.38,282.74 1446.38,300.93 1446.38,319.12 1447.89,297.66 1447.89,313.06 1449.34,320.71 1449.34,296.59 1450.79,302.67 1450.79,334.85 1452.24,328.33 1452.24,301.17 1453.69,301.79 1453.69,328.31 1455.14,321.44 1455.14,303.48 1456.59,307.5 1456.59,321.16 1458.04,324.55 1458.04,308.26 1459.49,302.41 1459.49,329.81 1460.94,336.32 1460.94,289.48 1462.39,304.54 1462.39,332.15 1463.84,331.5 1463.84,305.89 1465.29,305.32 1465.29,330.7 1466.74,335.62 1466.74,314.88 1468.19,314.72 1468.19,332.33 1469.64,330.66 1469.64,307.59 1471.09,308.62 1471.09,333.4 1472.54,341.13 1472.54,320.04 1473.99,321.91 1473.99,339.53 1475.44,335.2 1475.44,319 1476.89,319.66 1476.89,338.54 1478.34,336.88 1478.34,315.17 1479.79,311.38 1479.79,339.69 1481.24,339.74 1481.24,317.06 1482.69,319.7 1482.69,344.24 1484.14,343.85 1484.14,322.58 1485.59,323.43 1485.59,349.33 1487.04,349.83 1487.04,321.42 1488.49,331.74 1488.49,350.61 1489.94,355.82 1489.94,333.94 1491.39,330.16 1491.39,350.22 1492.84,349.79 1492.84,328.34 1494.29,334.41 1494.29,351.58 1495.74,360.67 1495.74,336.73 1497.19,339.18 1497.19,354.74 1498.64,353.84 1498.64,340.6 1500.09,338.9 1500.09,355.99 1501.54,357.98 1501.54,332.68 1502.99,337.7 1502.99,360.26 1504.44,360.19 1504.44,333.07 1505.89,337.62 1505.89,362.47 1507.34,359.81 1507.34,338.01 1508.79,336.46 1508.79,357.53 1510.24,359.3 1510.24,339.41 1511.69,340.83 1511.69,364.05 1513.14,361.44 1513.14,335.64 1514.59,340.97 1514.59,362.83 1516.04,360.18 1516.04,344.23 1517.49,344.38 1517.49,362.76 1518.94,365.91 1518.94,340.1 1520.39,344.88 1520.39,362.95 1521.84,367.89 1521.84,348.71 1523.29,349.15 1523.29,370.27 1524.74,373.08 1524.74,346.15" fill="none" stroke="#e8c52d" stroke-width="1.65" stroke-linejoin="round" />
<polyline points="1440.58,316.12 1440.85,297.93 1441.12,279.74 1441.39,261.55 1441.66,243.36 1441.93,225.17 1442.19,206.98 1442.44,188.79 1442.7,170.6 1442.95,152.41 1443.19,134.22 1443.43,116.04 1443.49,112.04 1443.53,109.04 1443.56,106.04 1443.6,103.04 1443.64,100.04 1443.69,97.04 1443.74,94.04 1443.79,91.04 1443.8,90.04 1443.81,89.54 1443.84,89.04 1443.86,88.54 1443.89,88.04 1443.91,87.54 1443.93,87.04 1443.96,86.54 1443.98,86.04 1444.13,89.54 1444.28,90.04 1444.42,90.54 1444.57,91.04 1444.71,91.54 1444.86,92.04 1444.99,92.54 1445.02,93.04 1445.08,94.04 1445.26,97.04 1445.44,100.04 1445.52,103.04 1445.58,106.04 1445.63,109.04 1445.69,112.04 1445.74,115.04 1445.82,119.04 1445.98,137.22 1446.07,155.41 1446.15,173.6 1446.19,191.79 1446.23,209.98 1446.27,228.17 1446.31,246.36 1446.36,264.55 1446.38,282.74 1446.38,300.93 1446.38,319.12" fill="none" stroke="#e8c52d" stroke-width="2.4" stroke-linejoin="round" />
<polyline points="1297.68,315.84 1297.68,297.33 1299.13,295.3 1299.13,320.73 1300.58,320.76 1300.58,282.59 1302.03,291.86 1302.03,319.12 1303.48,318.89 1303.48,296.09 1304.93,297.58 1304.93,321.26 1306.38,326.16 1306.38,298.82 1307.83,297.23 1307.83,331.97 1309.28,327.56 1309.28,285.55 1310.73,298.47 1310.73,327.25 1312.18,328.01 1312.18,304.02 1313.63,306.31 1313.63,331.24 1315.08,328.68 1315.08,304.21 1316.53,302.57 1316.53,330.59 1317.98,335.66 1317.98,312.47 1319.43,312.77 1319.43,334.48 1320.88,335.9 1320.88,309.19 1322.33,320.6 1322.33,338.9 1323.78,342.58 1323.78,320.86 1325.23,319.08 1325.23,341.51 1326.68,346.14 1326.68,314.46 1328.13,317.92 1328.13,343.27 1329.58,345.95 1329.58,315.6 1331.03,316.37 1331.03,341.48 1332.48,349.44 1332.48,313.73 1333.93,317.16 1333.93,344.07 1335.38,350.05 1335.38,317.25 1336.83,306.18 1336.83,346.73 1338.28,341.27 1338.28,315.9 1339.73,311.97 1339.73,340.93 1341.18,342.48 1341.18,316.11 1342.63,317.64 1342.63,340.11 1344.08,343.31 1344.08,321.1 1345.53,322.09 1345.53,351.54 1346.98,344.93 1346.98,320.95 1348.43,321.23 1348.43,346.45 1349.88,354.74 1349.88,317.37 1351.33,326.17 1351.33,350.98 1352.78,351.61 1352.78,328.35 1354.23,325.18 1354.23,347.23 1355.68,348.04 1355.68,328.34 1357.13,324.79 1357.13,348.81 1358.58,346.82 1358.58,326.94 1360.03,325.71 1360.03,344.81 1361.48,348.82 1361.48,319.86 1362.93,323.15 1362.93,348.08 1364.38,347.23 1364.38,324.49 1365.83,331.06 1365.83,347.32 1367.28,350.81 1367.28,329.95 1368.73,332.23 1368.73,351.36 1370.18,357.26 1370.18,327.54 1371.2,355.75 1371.26,338.19 1371.31,320.62 1371.38,303.06 1371.47,285.5 1371.56,267.93 1371.66,250.37 1371.77,232.81 1371.87,215.25 1372.02,197.68 1372.19,180.12 1372.39,162.56 1372.46,158.56 1372.52,155.56 1372.58,152.56 1372.63,149.56 1372.69,146.56 1372.75,143.56 1372.91,140.56 1373.07,137.56 1373.13,136.56 1373.15,136.06 1373.25,135.56 1373.38,135.06 1373.5,134.56 1373.63,134.06 1373.75,133.56 1373.88,133.06 1374,132.56 1374.12,136.06 1374.24,136.56 1374.35,137.06 1374.47,137.56 1374.58,138.06 1374.7,138.56 1374.79,139.06 1374.81,139.56 1374.86,140.56 1375.01,143.56 1375.16,146.56 1375.22,149.56 1375.27,152.56 1375.33,155.56 1375.38,158.56 1375.43,161.56 1375.5,165.56 1375.69,183.12 1375.84,200.68 1375.98,218.25 1376.08,235.81 1376.17,253.37 1376.27,270.93 1376.35,288.5 1376.43,306.06 1376.5,323.62 1376.55,341.19 1376.6,358.75 1377.43,337.34 1377.43,356.17 1378.88,360.02 1378.88,336.81 1380.33,329.47 1380.33,359.6 1381.78,361.59 1381.78,337.37 1383.23,342.23 1383.23,368.11 1384.68,364.79 1384.68,342.56 1386.13,345.61 1386.13,362.98 1387.58,363.64 1387.58,344.45 1389.03,343.76 1389.03,363.64 1390.48,361.08 1390.48,341.67 1391.93,338.95 1391.93,361.6 1393.38,364.47 1393.38,347.25 1394.83,349.42 1394.83,369.49 1396.28,377.02 1396.28,352.38 1397.73,355.06 1397.73,376.44 1399.18,378.85 1399.18,354.17 1400.63,354.62 1400.63,383.16 1402.08,378.28 1402.08,353.86 1403.53,356.21 1403.53,378.46 1404.98,379.46 1404.98,353.04 1406.43,356.48 1406.43,386.22 1407.88,392.38 1407.88,354.79 1409.33,356.01 1409.33,382.77 1410.78,382.28 1410.78,363.82 1412.23,365 1412.23,382.64 1413.68,384.15 1413.68,355.44 1415.13,360.01 1415.13,386.57 1416.58,385.75 1416.58,365.24 1418.03,369.29 1418.03,389.98 1419.48,386.91 1419.48,370.71 1420.93,369.5 1420.93,385.4 1422.38,386.26 1422.38,370.74 1423.83,364.93 1423.83,389.16 1425.28,394.94 1425.28,372.9 1426.73,373.67 1426.73,394.94 1428.18,397.48 1428.18,373.37 1429.63,377.74 1429.63,392.73 1431.08,392.34 1431.08,376.78 1432.53,377.57 1432.53,395.43 1433.98,395.67 1433.98,373.38 1435.43,378.99 1435.43,397.12 1436.88,397.95 1436.88,375.4 1438.33,379.04 1438.33,407.22 1439.78,396.95 1439.78,374.96 1441.23,378.96 1441.23,395.67 1442.68,394.15 1442.68,375.2 1444.13,362.72 1444.13,398.01 1445.58,398.58 1445.58,374.75 1447.03,377.51 1447.03,401.47 1448.48,405.59 1448.48,383.02 1449.93,380.19 1449.93,402.71 1451.38,403.52 1451.38,387.2 1452.83,385.42 1452.83,408.77 1454.28,412.01 1454.28,375.57 1455.73,386.48 1455.73,406.8 1457.18,405.43 1457.18,389.89 1458.63,388.22 1458.63,406.54 1460.08,408.43 1460.08,387.02 1461.53,392.29 1461.53,411.72" fill="none" stroke="#9aa92a" stroke-width="1.65" stroke-linejoin="round" />
<polyline points="1371.2,355.75 1371.26,338.19 1371.31,320.62 1371.38,303.06 1371.47,285.5 1371.56,267.93 1371.66,250.37 1371.77,232.81 1371.87,215.25 1372.02,197.68 1372.19,180.12 1372.39,162.56 1372.46,158.56 1372.52,155.56 1372.58,152.56 1372.63,149.56 1372.69,146.56 1372.75,143.56 1372.91,140.56 1373.07,137.56 1373.13,136.56 1373.15,136.06 1373.25,135.56 1373.38,135.06 1373.5,134.56 1373.63,134.06 1373.75,133.56 1373.88,133.06 1374,132.56 1374.12,136.06 1374.24,136.56 1374.35,137.06 1374.47,137.56 1374.58,138.06 1374.7,138.56 1374.79,139.06 1374.81,139.56 1374.86,140.56 1375.01,143.56 1375.16,146.56 1375.22,149.56 1375.27,152.56 1375.33,155.56 1375.38,158.56 1375.43,161.56 1375.5,165.56 1375.69,183.12 1375.84,200.68 1375.98,218.25 1376.08,235.81 1376.17,253.37 1376.27,270.93 1376.35,288.5 1376.43,306.06 1376.5,323.62 1376.55,341.19 1376.6,358.75" fill="none" stroke="#9aa92a" stroke-width="2.4" stroke-linejoin="round" />
<polyline points="1234.79,365.97 1234.79,341.67 1236.24,333.95 1236.24,362.02 1237.69,363.16 1237.69,342.47 1239.14,347.42 1239.14,366.64 1240.59,366.19 1240.59,345.86 1242.04,344.26 1242.04,372.28 1243.49,375.26 1243.49,336.8 1244.94,343.2 1244.94,370.29 1246.39,365.44 1246.39,347.12 1247.84,346.51 1247.84,364.74 1249.29,367.58 1249.29,340.14 1250.74,344.93 1250.74,376.19 1252.19,371.99 1252.19,347.71 1253.64,349.1 1253.64,373.94 1255.09,379.25 1255.09,349.03 1256.54,349.39 1256.54,371.56 1257.99,369.3 1257.99,348.28 1259.44,353.03 1259.44,372.62 1260.89,380.52 1260.89,355.48 1262.34,355.14 1262.34,377.27 1263.79,380.43 1263.79,354.57 1265.24,357.87 1265.24,385.18 1266.69,385.54 1266.69,360.52 1268.14,360.29 1268.14,381.83 1269.59,383.04 1269.59,355.65 1271.04,355.33 1271.04,387.42 1272.49,386.04 1272.49,362.01 1273.94,361.59 1273.94,382.29 1275.39,384.32 1275.39,363.52 1276.84,362.44 1276.84,383.41 1278.29,386.38 1278.29,361.82 1279.74,356.85 1279.74,395.52 1281.19,387.03 1281.19,356.64 1282.64,359.38 1282.64,389.19 1284.09,386.89 1284.09,366.77 1285.54,364.07 1285.54,387.85 1286.99,386.99 1286.99,368.4 1288.44,368.26 1288.44,390.34 1289.89,390.36 1289.89,371.67 1291.34,371.24 1291.34,386.81 1292.79,389.02 1292.79,369.53 1294.24,369.11 1294.24,399.6 1295.69,390.82 1295.69,370.18 1297.14,368.53 1297.14,394.84 1298.59,390.71 1298.59,362.78 1300.04,368.33 1300.04,389.88 1301.62,395.38 1301.67,381.37 1301.71,367.37 1301.77,353.36 1301.84,339.36 1301.91,325.35 1302,311.35 1302.09,297.34 1302.17,283.33 1302.28,269.33 1302.42,255.32 1302.56,241.32 1302.61,237.32 1302.67,234.32 1302.73,231.32 1302.79,228.32 1302.85,225.32 1302.91,222.32 1303.01,219.32 1303.18,216.32 1303.23,215.32 1303.26,214.82 1303.29,214.32 1303.37,213.82 1303.5,213.32 1303.63,212.82 1303.76,212.32 1303.89,211.82 1304.02,211.32 1304.15,214.82 1304.27,215.32 1304.4,215.82 1304.52,216.32 1304.65,216.82 1304.72,217.32 1304.75,217.82 1304.78,218.32 1304.83,219.32 1304.99,222.32 1305.09,225.32 1305.15,228.32 1305.2,231.32 1305.26,234.32 1305.31,237.32 1305.37,240.32 1305.42,244.32 1305.55,258.32 1305.69,272.33 1305.79,286.33 1305.88,300.34 1305.96,314.35 1306.04,328.35 1306.11,342.36 1306.18,356.36 1306.23,370.37 1306.28,384.37 1306.32,398.38 1307.29,401.66 1307.29,378.13 1308.74,370.76 1308.74,400.34 1310.19,394.94 1310.19,370.98 1311.64,377.8 1311.64,394.43 1313.09,396.12 1313.09,372.67 1314.54,376.49 1314.54,399.38 1315.99,407.74 1315.99,381.14 1317.44,383.75 1317.44,406.14 1318.89,407.78 1318.89,378.42 1320.34,378.13 1320.34,404.35 1321.79,405.99 1321.79,386.59 1323.24,390.54 1323.24,411.83 1324.69,405.25 1324.69,387.52 1326.14,379.75 1326.14,403.2 1327.59,406.99 1327.59,388.32 1329.04,389.89 1329.04,417.73 1330.49,414.85 1330.49,385.16 1331.94,387.91 1331.94,417.45 1333.39,420.2 1333.39,390.57 1334.84,399.07 1334.84,418.32 1336.29,420.25 1336.29,398.54 1337.74,395.15 1337.74,426.24 1339.19,427.21 1339.19,397.87 1340.64,396.72 1340.64,429.1 1342.09,422.3 1342.09,397.97 1343.54,398.15 1343.54,422.86 1344.99,422.64 1344.99,404.27 1346.44,403.2 1346.44,424.11 1347.89,428.49 1347.89,401.7 1349.34,406.37 1349.34,426 1350.79,426.56 1350.79,397.99 1352.24,409.76 1352.24,430.09 1353.69,441 1353.69,412.26 1355.14,412.62 1355.14,434.05 1356.59,430.18 1356.59,410.91 1358.04,403.94 1358.04,430.3 1359.49,433.65 1359.49,408.94 1360.94,402.53 1360.94,437.22 1362.39,431.79 1362.39,410.6 1363.84,415.68 1363.84,435.85 1365.29,435.91 1365.29,416.26 1366.74,410.99 1366.74,442.02 1368.19,440.06 1368.19,406.83 1369.64,418.03 1369.64,439.64 1371.09,444.03 1371.09,421.45 1372.54,421.14 1372.54,439.77 1373.99,441.19 1373.99,417.37 1375.44,414.45 1375.44,441.63 1376.89,437.19 1376.89,417.07 1378.34,420.04 1378.34,435.92 1379.79,439.39 1379.79,421.13 1381.24,425.12 1381.24,447.32 1382.69,449.45 1382.69,429.46 1384.14,428.98 1384.14,446.72 1385.59,452.85 1385.59,428.87 1387.04,429.8 1387.04,447.88 1388.49,448.38 1388.49,423.7 1389.94,426.28 1389.94,448.31 1391.39,453.67 1391.39,433.51 1392.84,435.18 1392.84,454.88 1394.29,451.19 1394.29,432.55 1395.74,432.2 1395.74,451.14 1397.19,455.13 1397.19,435.1 1398.64,438.23 1398.64,455.15" fill="none" stroke="#2e692e" stroke-width="1.65" stroke-linejoin="round" />
<polyline points="1301.62,395.38 1301.67,381.37 1301.71,367.37 1301.77,353.36 1301.84,339.36 1301.91,325.35 1302,311.35 1302.09,297.34 1302.17,283.33 1302.28,269.33 1302.42,255.32 1302.56,241.32 1302.61,237.32 1302.67,234.32 1302.73,231.32 1302.79,228.32 1302.85,225.32 1302.91,222.32 1303.01,219.32 1303.18,216.32 1303.23,215.32 1303.26,214.82 1303.29,214.32 1303.37,213.82 1303.5,213.32 1303.63,212.82 1303.76,212.32 1303.89,211.82 1304.02,211.32 1304.15,214.82 1304.27,215.32 1304.4,215.82 1304.52,216.32 1304.65,216.82 1304.72,217.32 1304.75,217.82 1304.78,218.32 1304.83,219.32 1304.99,222.32 1305.09,225.32 1305.15,228.32 1305.2,231.32 1305.26,234.32 1305.31,237.32 1305.37,240.32 1305.42,244.32 1305.55,258.32 1305.69,272.33 1305.79,286.33 1305.88,300.34 1305.96,314.35 1306.04,328.35 1306.11,342.36 1306.18,356.36 1306.23,370.37 1306.28,384.37 1306.32,398.38" fill="none" stroke="#2e692e" stroke-width="2.4" stroke-linejoin="round" />
<line x1="1228.5" y1="122.3" x2="1228.5" y2="372.3" stroke="#333" stroke-width="1.5" />
<path d="M1228.5 140.3h-7.5M1228.5 184.76h-7.5M1228.5 229.22h-7.5M1228.5 273.68h-7.5M1228.5 318.14h-7.5M1228.5 362.6h-7.5" stroke="#111" stroke-width="1.3" fill="none"/>
<path d="M1228.5 162.53h-4M1228.5 206.99h-4M1228.5 251.45h-4M1228.5 295.91h-4M1228.5 340.37h-4" stroke="#111" stroke-width="1.3" fill="none"/>
<text transform="translate(1210.3 148.9) scale(1 1.045)" font-size="24.6" text-anchor="end" stroke="#000" >−20</text>
<text transform="translate(1210.3 193.36) scale(1 1.045)" font-size="24.6" text-anchor="end" stroke="#000" >−30</text>
<text transform="translate(1210.3 237.82) scale(1 1.045)" font-size="24.6" text-anchor="end" stroke="#000" >−40</text>
<text transform="translate(1210.3 282.28) scale(1 1.045)" font-size="24.6" text-anchor="end" stroke="#000" >−50</text>
<text transform="translate(1210.3 326.74) scale(1 1.045)" font-size="24.6" text-anchor="end" stroke="#000" >−60</text>
<text transform="translate(1210.3 371.2) scale(1 1.045)" font-size="24.6" text-anchor="end" stroke="#000" >−70</text>
<line x1="1228.7" y1="372" x2="1405.9" y2="472.9" stroke="#111" stroke-width="1.7" stroke-linecap="round"/>
<path d="M1241.36 379.21v7.5M1260.34 390.02v4.2M1279.33 400.83v7.5M1298.31 411.64v4.2M1317.3 422.45v7.5M1336.28 433.26v4.2M1355.27 444.07v7.5M1374.26 454.88v4.2M1393.24 465.69v7.5" stroke="#111" stroke-width="1.5" fill="none"/>
<text transform="translate(1235 412.9) scale(1 1.045)" font-size="24.6" text-anchor="middle" stroke="#000" >888</text>
<text transform="translate(1273.1 436.6) scale(1 1.045)" font-size="24.6" text-anchor="middle" stroke="#000" >891</text>
<text transform="translate(1312 458.6) scale(1 1.045)" font-size="24.6" text-anchor="middle" stroke="#000" >894</text>
<text transform="translate(1350 480.5) scale(1 1.045)" font-size="24.6" text-anchor="middle" stroke="#000" >897</text>
<text transform="translate(1383.9 501.3) scale(1 1.045)" font-size="24.6" text-anchor="middle" stroke="#000" >900</text>
<line x1="1405.9" y1="472.9" x2="1673.45" y2="289.83" stroke="#111" stroke-width="1.7" />
<path d="M1412.24 468.56h7.5M1443.94 446.87h4.2M1475.64 425.18h7.5M1507.34 403.49h4.2M1539.04 381.8h7.5M1570.74 360.11h4.2M1602.44 338.42h7.5M1634.14 316.73h4.2M1665.84 295.04h7.5" stroke="#111" stroke-width="1.5" fill="none"/>
<text transform="translate(1435.84 482.96) scale(1 1.045)" font-size="24.6" text-anchor="middle" stroke="#000" >1</text>
<text transform="translate(1499.24 439.58) scale(1 1.045)" font-size="24.6" text-anchor="middle" stroke="#000" >2</text>
<text transform="translate(1562.64 396.2) scale(1 1.045)" font-size="24.6" text-anchor="middle" stroke="#000" >3</text>
<text transform="translate(1626.04 352.82) scale(1 1.045)" font-size="24.6" text-anchor="middle" stroke="#000" >4</text>
<text transform="translate(1689.44 309.44) scale(1 1.045)" font-size="24.6" text-anchor="middle" stroke="#000" >5</text>
<text transform="translate(1148.8 272) rotate(-90) scale(1 1.045)" font-size="24.6" text-anchor="middle" stroke="#000" >Intensity (dBm)</text>
<text transform="translate(1266.5 475.5) rotate(29.7) scale(1 1.045)" font-size="24.6" text-anchor="middle" stroke="#000" >Wavelength (nm)</text>
<text transform="translate(1594.5 418.5) rotate(-34.4) scale(1 1.045)" font-size="24.6" text-anchor="middle" stroke="#000" >Cerrent (mA)</text>
<line x1="1546.5" y1="1.6" x2="1583.6" y2="1.6" stroke="#000" stroke-width="1.8" />
<line x1="1544.2" y1="178.7" x2="1583.6" y2="176.4" stroke="#000" stroke-width="1.8" />
<line x1="1563.9" y1="61" x2="1565.5" y2="16" stroke="#000" stroke-width="1.8" />
<path d="M1565.8 7.8L1562.6 18.6L1568.3 18.8Z" fill="#000"/>
<line x1="1563.9" y1="110.5" x2="1563.9" y2="162" stroke="#000" stroke-width="1.8" />
<path d="M1563.9 171L1561 160.2L1566.8 160.2Z" fill="#000"/>
<text transform="translate(1533 97.7) scale(1 1.045)" font-size="25.1" stroke="#000" >41.1 dB</text>
<polyline points="1817.4,362.76 1830.44,328.71 1843.48,295.04 1856.52,261.5 1869.56,227.83 1882.6,194.17 1895.64,160.5 1908.68,126.83 1921.72,92.91" fill="none" stroke="#1414ff" stroke-width="2.2" stroke-linejoin="round" />
<circle cx="1817.4" cy="362.76" r="7" fill="url(#sphB)"/>
<circle cx="1830.44" cy="328.71" r="7" fill="url(#sphB)"/>
<circle cx="1843.48" cy="295.04" r="7" fill="url(#sphB)"/>
<circle cx="1856.52" cy="261.5" r="7" fill="url(#sphB)"/>
<circle cx="1869.56" cy="227.83" r="7" fill="url(#sphB)"/>
<circle cx="1882.6" cy="194.17" r="7" fill="url(#sphB)"/>
<circle cx="1895.64" cy="160.5" r="7" fill="url(#sphB)"/>
<circle cx="1908.68" cy="126.83" r="7" fill="url(#sphB)"/>
<circle cx="1921.72" cy="92.91" r="7" fill="url(#sphB)"/>
<rect x="1804.8" y="33.8" width="132.9" height="385.5" fill="none" stroke="#000" stroke-width="2.2"/>
<path d="M1817.4 419.3v-6.6M1844.1 419.3v-6.6M1870.8 419.3v-6.6M1897.5 419.3v-6.6M1924.2 419.3v-6.6" stroke="#000" stroke-width="2" fill="none"/>
<path d="M1830.75 419.3v-3.4M1857.45 419.3v-3.4M1884.15 419.3v-3.4M1910.85 419.3v-3.4" stroke="#000" stroke-width="2" fill="none"/>
<path d="M1817.4 33.8v6.6M1844.1 33.8v6.6M1870.8 33.8v6.6M1897.5 33.8v6.6M1924.2 33.8v6.6" stroke="#000" stroke-width="2" fill="none"/>
<path d="M1830.75 33.8v3.4M1857.45 33.8v3.4M1884.15 33.8v3.4M1910.85 33.8v3.4" stroke="#000" stroke-width="2" fill="none"/>
<path d="M1804.8 290.8h6.6M1804.8 162.3h6.6" stroke="#000" stroke-width="2" fill="none"/>
<path d="M1804.8 355.05h3.4M1804.8 226.55h3.4M1804.8 98.05h3.4" stroke="#000" stroke-width="2" fill="none"/>
<path d="M1937.7 290.8h-6.6M1937.7 162.3h-6.6" stroke="#000" stroke-width="2" fill="none"/>
<path d="M1937.7 355.05h-3.4M1937.7 226.55h-3.4M1937.7 98.05h-3.4" stroke="#000" stroke-width="2" fill="none"/>
<text transform="translate(1817.4 448.3) scale(1 1.045)" font-size="24.6" text-anchor="middle" stroke="#000" >1</text>
<text transform="translate(1844.1 448.3) scale(1 1.045)" font-size="24.6" text-anchor="middle" stroke="#000" >2</text>
<text transform="translate(1870.8 448.3) scale(1 1.045)" font-size="24.6" text-anchor="middle" stroke="#000" >3</text>
<text transform="translate(1897.5 448.3) scale(1 1.045)" font-size="24.6" text-anchor="middle" stroke="#000" >4</text>
<text transform="translate(1924.2 448.3) scale(1 1.045)" font-size="24.6" text-anchor="middle" stroke="#000" >5</text>
<text transform="translate(1791.5 44.3) scale(1 1.045)" font-size="24.6" text-anchor="end" stroke="#000" >895</text>
<text transform="translate(1791.5 171) scale(1 1.045)" font-size="24.6" text-anchor="end" stroke="#000" >894</text>
<text transform="translate(1791.5 298.8) scale(1 1.045)" font-size="24.6" text-anchor="end" stroke="#000" >893</text>
<text transform="translate(1791.5 424.8) scale(1 1.045)" font-size="24.6" text-anchor="end" stroke="#000" >892</text>
<text transform="translate(1806.6 485.4) scale(1 1.045)" font-size="24.6" stroke="#000" >Current (mA)</text>
<text transform="translate(1725.5 223.7) rotate(-90) scale(1 1.045)" font-size="24.6" text-anchor="middle" stroke="#000" >Peak wavelength (nm)</text>
<text transform="translate(1808.2 56.5) scale(1 0.985)" font-size="20.6" stroke="#000" >Δ<tspan font-family="Liberation Serif, serif" font-style="italic" font-size="22">λ</tspan>/ΔI =</text>
<text transform="translate(1808.2 83.6) scale(1 0.985)" font-size="20.6" stroke="#000" word-spacing="0.4">0.53 ± 0.015</text>
<text transform="translate(1808.2 107.6) scale(1 0.985)" font-size="20.6" stroke="#000" >nm/mA</text>
<line x1="1890.8" y1="148.2" x2="1878.4" y2="126.6" stroke="#000" stroke-width="2.2" />
<path d="M1874.5 120.0L1876.6 131.8L1883.0 128.1Z" fill="#000"/>
</g>
<g id="pd">
<text transform="translate(-0.8 588) scale(1 1.045)" font-size="39.8" font-weight="bold" >d</text>
<clipPath id="cd1"><rect x="91.9" y="575" width="399.6" height="180.2"/></clipPath>
<clipPath id="cd2"><rect x="91.9" y="754.4" width="399.6" height="181.2"/></clipPath>
<g clip-path="url(#cd1)">
<line x1="99.5" y1="710.3" x2="479" y2="712.4" stroke="#808080" stroke-width="2.4" stroke-dasharray="16 10"/>
<polyline points="91.91,756.6 92.91,756.6 93.91,756.6 94.91,756.59 95.91,756.59 96.91,756.59 97.91,756.58 98.9,756.58 99.9,756.57 100.9,756.56 101.9,756.55 102.9,756.54 103.9,756.53 104.9,756.52 105.9,756.51 106.9,756.5 107.9,756.49 108.9,756.48 109.9,756.46 110.89,756.45 111.89,756.44 112.89,756.42 113.89,756.41 114.89,756.39 115.89,756.38 116.89,756.36 117.89,756.34 118.89,756.32 119.89,756.3 120.89,756.28 121.89,756.26 122.89,756.23 123.88,756.2 124.88,756.17 125.88,756.13 126.88,756.1 127.88,756.06 128.88,756.02 129.88,755.98 130.88,755.93 131.88,755.89 132.88,755.84 133.88,755.79 134.88,755.74 135.87,755.69 136.87,755.63 137.87,755.57 138.87,755.51 139.87,755.45 140.87,755.39 141.87,755.32 142.87,755.25 143.87,755.17 144.87,755.09 145.87,754.99 146.87,754.89 147.87,754.78 148.86,754.66 149.86,754.53 150.86,754.4 151.86,754.26 152.86,754.11 153.86,753.96 154.86,753.8 155.86,753.63 156.86,753.46 157.86,753.29 158.86,753.1 159.86,752.92 160.85,752.73 161.85,752.53 162.85,752.34 163.85,752.13 164.85,751.93 165.85,751.72 166.85,751.5 167.85,751.27 168.85,751.03 169.85,750.76 170.85,750.48 171.85,750.18 172.85,749.86 173.84,749.53 174.84,749.19 175.84,748.84 176.84,748.49 177.84,748.13 178.84,747.77 179.84,747.4 180.84,747.04 181.84,746.67 182.84,746.32 183.84,745.97 184.84,745.63 185.83,745.31 186.83,745 187.83,744.71 188.83,744.42 189.83,744.13 190.83,743.84 191.83,743.54 192.83,743.23 193.83,742.89 194.83,742.53 195.83,742.14 196.83,741.72 197.83,741.25 198.82,740.73 199.82,740.11 200.82,739.33 201.82,738.36 202.82,737.18 203.82,735.84 204.82,734.39 205.82,732.9 206.82,731.43 207.82,730.02 208.82,728.69 209.82,727.42 210.81,726.2 211.81,725 212.81,723.8 213.81,722.61 214.81,721.43 215.81,720.24 216.81,719.06 217.81,717.89 218.81,716.74 219.81,715.62 220.81,714.5 221.81,713.37 222.81,712.2 223.8,710.97 224.8,709.65 225.8,708.21 226.8,706.61 227.8,704.84 228.8,702.92 229.8,700.88 230.8,698.77 231.8,696.63 232.8,694.52 233.8,692.46 234.8,690.45 235.79,688.48 236.79,686.54 237.79,684.68 238.79,682.96 239.79,681.45 240.79,680.15 241.79,679.04 242.79,678.01 243.79,676.95 244.79,675.77 245.79,674.37 246.79,672.74 247.79,670.88 248.78,668.81 249.78,666.48 250.78,663.84 251.78,660.94 252.78,658.03 253.78,655.45 254.78,653.4 255.78,651.8 256.78,650.42 257.78,649 258.78,647.28 259.78,645.14 260.77,642.57 261.77,639.77 262.77,637.03 263.77,634.59 264.77,632.53 265.77,630.79 266.77,629.27 267.77,627.84 268.77,626.47 269.77,625.11 270.77,623.75 271.77,622.41 272.77,621.11 273.76,619.86 274.76,618.69 275.76,617.6 276.76,616.55 277.76,615.52 278.76,614.5 279.76,613.53 280.76,612.66 281.76,611.95 282.76,611.45 283.76,611.23 284.76,611.31 285.75,611.68 286.75,612.3 287.75,613.11 288.75,614.03 289.75,615.04 290.75,616.16 291.75,617.44 292.75,618.83 293.75,620.22 294.75,621.48 295.75,622.56 296.75,623.49 297.75,624.32 298.74,625.08 299.74,625.79 300.74,626.45 301.74,627.07 302.74,627.64 303.74,628.17 304.74,628.64 305.74,629.07 306.74,629.45 307.74,629.8 308.74,630.14 309.74,630.5 310.73,630.9 311.73,631.37 312.73,631.96 313.73,632.69 314.73,633.58 315.73,634.61 316.73,635.73 317.73,636.88 318.73,637.99 319.73,639.01 320.73,639.9 321.73,640.64 322.73,641.25 323.72,641.77 324.72,642.24 325.72,642.68 326.72,643.12 327.72,643.59 328.72,644.1 329.72,644.67 330.72,645.31 331.72,646.02 332.72,646.78 333.72,647.6 334.72,648.49 335.71,649.44 336.71,650.45 337.71,651.56 338.71,652.79 339.71,654.2 340.71,655.81 341.71,657.6 342.71,659.52 343.71,661.5 344.71,663.46 345.71,665.34 346.71,667.07 347.71,668.65 348.7,670.07 349.7,671.38 350.7,672.63 351.7,673.84 352.7,675.06 353.7,676.32 354.7,677.66 355.7,679.1 356.7,680.67 357.7,682.36 358.7,684.16 359.7,686.05 360.69,688 361.69,689.99 362.69,691.99 363.69,694 364.69,696 365.69,698.04 366.69,700.13 367.69,702.26 368.69,704.39 369.69,706.48 370.69,708.5 371.69,710.38 372.69,712.11 373.68,713.69 374.68,715.12 375.68,716.45 376.68,717.7 377.68,718.89 378.68,720.03 379.68,721.13 380.68,722.22 381.68,723.31 382.68,724.39 383.68,725.46 384.68,726.52 385.67,727.56 386.67,728.57 387.67,729.56 388.67,730.51 389.67,731.42 390.67,732.3 391.67,733.15 392.67,733.96 393.67,734.76 394.67,735.53 395.67,736.27 396.67,736.99 397.67,737.69 398.66,738.36 399.66,739.01 400.66,739.64 401.66,740.26 402.66,740.87 403.66,741.47 404.66,742.05 405.66,742.63 406.66,743.2 407.66,743.75 408.66,744.29 409.66,744.81 410.65,745.32 411.65,745.82 412.65,746.29 413.65,746.75 414.65,747.19 415.65,747.6 416.65,748 417.65,748.39 418.65,748.76 419.65,749.13 420.65,749.49 421.65,749.83 422.65,750.17 423.64,750.49 424.64,750.8 425.64,751.1 426.64,751.39 427.64,751.66 428.64,751.92 429.64,752.17 430.64,752.4 431.64,752.62 432.64,752.83 433.64,753.04 434.64,753.24 435.63,753.44 436.63,753.63 437.63,753.82 438.63,754 439.63,754.18 440.63,754.34 441.63,754.5 442.63,754.65 443.63,754.79 444.63,754.92 445.63,755.03 446.63,755.13 447.63,755.22 448.62,755.29 449.62,755.35 450.62,755.41 451.62,755.46 452.62,755.51 453.62,755.57 454.62,755.62 455.62,755.67 456.62,755.71 457.62,755.76 458.62,755.81 459.62,755.85 460.61,755.89 461.61,755.94 462.61,755.98 463.61,756.02 464.61,756.06 465.61,756.1 466.61,756.13 467.61,756.17 468.61,756.2 469.61,756.23 470.61,756.26 471.61,756.29 472.61,756.32 473.6,756.35 474.6,756.38 475.6,756.4 476.6,756.43 477.6,756.45 478.6,756.47 479.6,756.49 480.6,756.5 481.6,756.52 482.6,756.54 483.6,756.55 484.6,756.56 485.59,756.57 486.59,756.58 487.59,756.59 488.59,756.59 489.59,756.6 490.59,756.6 491.59,756.6" fill="none" stroke="#3c0406" stroke-width="2.1" stroke-linejoin="round" />
<polyline points="91.91,756.6 92.91,756.6 93.91,756.6 94.91,756.59 95.91,756.59 96.91,756.59 97.91,756.58 98.9,756.58 99.9,756.57 100.9,756.56 101.9,756.55 102.9,756.54 103.9,756.53 104.9,756.52 105.9,756.51 106.9,756.5 107.9,756.49 108.9,756.48 109.9,756.46 110.89,756.45 111.89,756.44 112.89,756.42 113.89,756.41 114.89,756.39 115.89,756.38 116.89,756.36 117.89,756.34 118.89,756.32 119.89,756.3 120.89,756.28 121.89,756.25 122.89,756.23 123.88,756.2 124.88,756.16 125.88,756.13 126.88,756.09 127.88,756.06 128.88,756.02 129.88,755.97 130.88,755.93 131.88,755.88 132.88,755.84 133.88,755.79 134.88,755.73 135.87,755.68 136.87,755.63 137.87,755.57 138.87,755.51 139.87,755.45 140.87,755.39 141.87,755.33 142.87,755.26 143.87,755.18 144.87,755.1 145.87,755.01 146.87,754.91 147.87,754.81 148.86,754.7 149.86,754.59 150.86,754.47 151.86,754.34 152.86,754.21 153.86,754.07 154.86,753.92 155.86,753.78 156.86,753.62 157.86,753.46 158.86,753.3 159.86,753.13 160.85,752.95 161.85,752.78 162.85,752.59 163.85,752.41 164.85,752.22 165.85,752.02 166.85,751.82 167.85,751.61 168.85,751.38 169.85,751.13 170.85,750.87 171.85,750.59 172.85,750.3 173.84,749.99 174.84,749.67 175.84,749.34 176.84,749 177.84,748.65 178.84,748.29 179.84,747.93 180.84,747.57 181.84,747.2 182.84,746.82 183.84,746.45 184.84,746.08 185.83,745.7 186.83,745.32 187.83,744.94 188.83,744.55 189.83,744.15 190.83,743.74 191.83,743.31 192.83,742.88 193.83,742.43 194.83,741.96 195.83,741.48 196.83,740.97 197.83,740.45 198.82,739.9 199.82,739.32 200.82,738.71 201.82,738.05 202.82,737.35 203.82,736.6 204.82,735.8 205.82,734.96 206.82,734.06 207.82,733.1 208.82,732.07 209.82,730.95 210.81,729.72 211.81,728.38 212.81,726.97 213.81,725.5 214.81,723.99 215.81,722.47 216.81,720.95 217.81,719.44 218.81,717.93 219.81,716.41 220.81,714.86 221.81,713.29 222.81,711.68 223.8,710.03 224.8,708.34 225.8,706.58 226.8,704.74 227.8,702.82 228.8,700.81 229.8,698.75 230.8,696.67 231.8,694.61 232.8,692.59 233.8,690.64 234.8,688.76 235.79,686.95 236.79,685.2 237.79,683.52 238.79,681.95 239.79,680.52 240.79,679.25 241.79,678.12 242.79,677.08 243.79,676.05 244.79,674.97 245.79,673.75 246.79,672.3 247.79,670.57 248.78,668.56 249.78,666.35 250.78,664.06 251.78,661.76 252.78,659.49 253.78,657.23 254.78,654.98 255.78,652.72 256.78,650.46 257.78,648.2 258.78,645.93 259.78,643.63 260.77,641.3 261.77,639.03 262.77,636.94 263.77,635.12 264.77,633.56 265.77,632.26 266.77,631.3 267.77,630.72 268.77,630.47 269.77,630.31 270.77,629.79 271.77,628.53 272.77,626.47 273.76,624.04 274.76,621.66 275.76,619.59 276.76,617.8 277.76,616.23 278.76,614.83 279.76,613.58 280.76,612.52 281.76,611.74 282.76,611.28 283.76,611.08 284.76,611.04 285.75,611.08 286.75,611.13 287.75,611.18 288.75,611.24 289.75,611.28 290.75,611.3 291.75,611.25 292.75,611.05 293.75,610.65 294.75,610.04 295.75,609.25 296.75,608.3 297.75,607.12 298.74,605.6 299.74,603.74 300.74,601.77 301.74,599.95 302.74,598.48 303.74,597.32 304.74,596.45 305.74,595.94 306.74,595.96 307.74,596.68 308.74,598.19 309.74,600.72 310.73,604.31 311.73,608.7 312.73,613.1 313.73,616.88 314.73,619.71 315.73,621.67 316.73,622.93 317.73,623.72 318.73,624.13 319.73,624.21 320.73,623.92 321.73,623.41 322.73,622.93 323.72,622.84 324.72,623.47 325.72,624.88 326.72,626.98 327.72,629.65 328.72,632.82 329.72,636.16 330.72,639.22 331.72,641.57 332.72,643.19 333.72,644.28 334.72,644.98 335.71,645.33 336.71,645.28 337.71,644.9 338.71,644.33 339.71,643.78 340.71,643.52 341.71,643.82 342.71,644.85 343.71,646.58 344.71,649.03 345.71,652.23 346.71,656.18 347.71,660.46 348.7,664.5 349.7,667.86 350.7,670.56 351.7,672.77 352.7,674.66 353.7,676.26 354.7,677.6 355.7,678.78 356.7,679.88 357.7,681.04 358.7,682.33 359.7,683.78 360.69,685.37 361.69,687.08 362.69,688.85 363.69,690.68 364.69,692.54 365.69,694.43 366.69,696.38 367.69,698.37 368.69,700.4 369.69,702.44 370.69,704.48 371.69,706.51 372.69,708.52 373.68,710.52 374.68,712.55 375.68,714.61 376.68,716.63 377.68,718.56 378.68,720.31 379.68,721.84 380.68,723.12 381.68,724.2 382.68,725.13 383.68,725.98 384.68,726.78 385.67,727.58 386.67,728.43 387.67,729.34 388.67,730.3 389.67,731.3 390.67,732.32 391.67,733.34 392.67,734.34 393.67,735.33 394.67,736.3 395.67,737.25 396.67,738.19 397.67,739.09 398.66,739.93 399.66,740.68 400.66,741.35 401.66,741.97 402.66,742.55 403.66,743.1 404.66,743.63 405.66,744.13 406.66,744.61 407.66,745.08 408.66,745.52 409.66,745.95 410.65,746.37 411.65,746.77 412.65,747.16 413.65,747.54 414.65,747.92 415.65,748.29 416.65,748.65 417.65,749.01 418.65,749.36 419.65,749.71 420.65,750.05 421.65,750.39 422.65,750.72 423.64,751.03 424.64,751.34 425.64,751.64 426.64,751.92 427.64,752.19 428.64,752.44 429.64,752.67 430.64,752.89 431.64,753.09 432.64,753.29 433.64,753.47 434.64,753.65 435.63,753.83 436.63,754 437.63,754.17 438.63,754.33 439.63,754.48 440.63,754.63 441.63,754.77 442.63,754.9 443.63,755.02 444.63,755.13 445.63,755.23 446.63,755.32 447.63,755.39 448.62,755.45 449.62,755.51 450.62,755.56 451.62,755.6 452.62,755.65 453.62,755.7 454.62,755.74 455.62,755.78 456.62,755.82 457.62,755.87 458.62,755.91 459.62,755.95 460.61,755.98 461.61,756.02 462.61,756.06 463.61,756.09 464.61,756.13 465.61,756.16 466.61,756.19 467.61,756.22 468.61,756.25 469.61,756.28 470.61,756.31 471.61,756.33 472.61,756.36 473.6,756.38 474.6,756.41 475.6,756.43 476.6,756.45 477.6,756.47 478.6,756.48 479.6,756.5 480.6,756.52 481.6,756.53 482.6,756.54 483.6,756.55 484.6,756.57 485.59,756.57 486.59,756.58 487.59,756.59 488.59,756.59 489.59,756.6 490.59,756.6 491.59,756.6" fill="none" stroke="#5e0a10" stroke-width="2.1" stroke-linejoin="round" />
<polyline points="91.91,756.6 92.91,756.6 93.91,756.6 94.91,756.6 95.91,756.6 96.91,756.59 97.91,756.59 98.9,756.59 99.9,756.58 100.9,756.58 101.9,756.57 102.9,756.57 103.9,756.56 104.9,756.56 105.9,756.55 106.9,756.54 107.9,756.53 108.9,756.53 109.9,756.52 110.89,756.51 111.89,756.5 112.89,756.49 113.89,756.48 114.89,756.47 115.89,756.46 116.89,756.45 117.89,756.44 118.89,756.42 119.89,756.41 120.89,756.4 121.89,756.39 122.89,756.37 123.88,756.36 124.88,756.35 125.88,756.33 126.88,756.32 127.88,756.3 128.88,756.29 129.88,756.27 130.88,756.25 131.88,756.23 132.88,756.21 133.88,756.18 134.88,756.15 135.87,756.12 136.87,756.08 137.87,756.04 138.87,756 139.87,755.96 140.87,755.91 141.87,755.87 142.87,755.82 143.87,755.77 144.87,755.72 145.87,755.66 146.87,755.61 147.87,755.55 148.86,755.5 149.86,755.44 150.86,755.38 151.86,755.32 152.86,755.26 153.86,755.2 154.86,755.14 155.86,755.07 156.86,755 157.86,754.93 158.86,754.86 159.86,754.78 160.85,754.7 161.85,754.61 162.85,754.53 163.85,754.44 164.85,754.35 165.85,754.25 166.85,754.15 167.85,754.05 168.85,753.95 169.85,753.85 170.85,753.74 171.85,753.64 172.85,753.53 173.84,753.42 174.84,753.3 175.84,753.19 176.84,753.08 177.84,752.96 178.84,752.84 179.84,752.73 180.84,752.61 181.84,752.5 182.84,752.39 183.84,752.29 184.84,752.18 185.83,752.07 186.83,751.96 187.83,751.84 188.83,751.72 189.83,751.59 190.83,751.45 191.83,751.31 192.83,751.15 193.83,750.99 194.83,750.81 195.83,750.62 196.83,750.41 197.83,750.18 198.82,749.93 199.82,749.64 200.82,749.28 201.82,748.81 202.82,748.24 203.82,747.56 204.82,746.81 205.82,746 206.82,745.16 207.82,744.3 208.82,743.41 209.82,742.48 210.81,741.51 211.81,740.47 212.81,739.38 213.81,738.25 214.81,737.08 215.81,735.88 216.81,734.66 217.81,733.41 218.81,732.14 219.81,730.84 220.81,729.49 221.81,728.11 222.81,726.68 223.8,725.22 224.8,723.71 225.8,722.16 226.8,720.54 227.8,718.85 228.8,717.1 229.8,715.29 230.8,713.45 231.8,711.59 232.8,709.73 233.8,707.89 234.8,706.07 235.79,704.27 236.79,702.48 237.79,700.7 238.79,698.91 239.79,697.12 240.79,695.32 241.79,693.51 242.79,691.68 243.79,689.85 244.79,688.02 245.79,686.18 246.79,684.33 247.79,682.47 248.78,680.58 249.78,678.65 250.78,676.67 251.78,674.62 252.78,672.5 253.78,670.31 254.78,668.04 255.78,665.72 256.78,663.37 257.78,661.02 258.78,658.67 259.78,656.35 260.77,654.05 261.77,651.77 262.77,649.49 263.77,647.2 264.77,644.94 265.77,642.71 266.77,640.53 267.77,638.42 268.77,636.39 269.77,634.42 270.77,632.49 271.77,630.6 272.77,628.75 273.76,626.96 274.76,625.26 275.76,623.67 276.76,622.21 277.76,620.86 278.76,619.6 279.76,618.4 280.76,617.26 281.76,616.22 282.76,615.35 283.76,614.71 284.76,614.28 285.75,614.04 286.75,613.88 287.75,613.77 288.75,613.66 289.75,613.57 290.75,613.49 291.75,613.42 292.75,613.37 293.75,613.32 294.75,613.29 295.75,613.27 296.75,613.26 297.75,613.27 298.74,613.3 299.74,613.35 300.74,613.42 301.74,613.52 302.74,613.63 303.74,613.77 304.74,613.93 305.74,614.11 306.74,614.3 307.74,614.52 308.74,614.76 309.74,615.03 310.73,615.36 311.73,615.83 312.73,616.47 313.73,617.31 314.73,618.34 315.73,619.59 316.73,621.1 317.73,622.87 318.73,624.82 319.73,626.85 320.73,628.84 321.73,630.75 322.73,632.6 323.72,634.41 324.72,636.21 325.72,638.01 326.72,639.8 327.72,641.59 328.72,643.38 329.72,645.17 330.72,646.96 331.72,648.74 332.72,650.51 333.72,652.28 334.72,654.06 335.71,655.85 336.71,657.67 337.71,659.51 338.71,661.38 339.71,663.29 340.71,665.22 341.71,667.17 342.71,669.16 343.71,671.16 344.71,673.19 345.71,675.24 346.71,677.31 347.71,679.42 348.7,681.57 349.7,683.76 350.7,685.98 351.7,688.22 352.7,690.45 353.7,692.67 354.7,694.86 355.7,697.01 356.7,699.12 357.7,701.22 358.7,703.3 359.7,705.35 360.69,707.38 361.69,709.37 362.69,711.3 363.69,713.18 364.69,715 365.69,716.77 366.69,718.5 367.69,720.19 368.69,721.83 369.69,723.43 370.69,724.98 371.69,726.48 372.69,727.92 373.68,729.31 374.68,730.66 375.68,731.98 376.68,733.25 377.68,734.49 378.68,735.67 379.68,736.81 380.68,737.88 381.68,738.9 382.68,739.87 383.68,740.79 384.68,741.68 385.67,742.53 386.67,743.34 387.67,744.11 388.67,744.84 389.67,745.52 390.67,746.17 391.67,746.79 392.67,747.38 393.67,747.95 394.67,748.49 395.67,749 396.67,749.47 397.67,749.89 398.66,750.27 399.66,750.6 400.66,750.9 401.66,751.18 402.66,751.45 403.66,751.71 404.66,751.96 405.66,752.19 406.66,752.41 407.66,752.62 408.66,752.82 409.66,753.01 410.65,753.19 411.65,753.36 412.65,753.52 413.65,753.66 414.65,753.8 415.65,753.93 416.65,754.05 417.65,754.17 418.65,754.28 419.65,754.39 420.65,754.5 421.65,754.6 422.65,754.7 423.64,754.8 424.64,754.9 425.64,754.99 426.64,755.08 427.64,755.17 428.64,755.25 429.64,755.33 430.64,755.41 431.64,755.48 432.64,755.55 433.64,755.61 434.64,755.67 435.63,755.73 436.63,755.78 437.63,755.82 438.63,755.87 439.63,755.9 440.63,755.93 441.63,755.96 442.63,755.99 443.63,756.01 444.63,756.03 445.63,756.06 446.63,756.08 447.63,756.1 448.62,756.12 449.62,756.14 450.62,756.16 451.62,756.18 452.62,756.2 453.62,756.22 454.62,756.24 455.62,756.26 456.62,756.28 457.62,756.29 458.62,756.31 459.62,756.33 460.61,756.34 461.61,756.36 462.61,756.37 463.61,756.39 464.61,756.4 465.61,756.42 466.61,756.43 467.61,756.44 468.61,756.46 469.61,756.47 470.61,756.48 471.61,756.49 472.61,756.5 473.6,756.51 474.6,756.52 475.6,756.53 476.6,756.54 477.6,756.54 478.6,756.55 479.6,756.56 480.6,756.57 481.6,756.57 482.6,756.58 483.6,756.58 484.6,756.59 485.59,756.59 486.59,756.59 487.59,756.6 488.59,756.6 489.59,756.6 490.59,756.6 491.59,756.6" fill="none" stroke="#80000e" stroke-width="2.1" stroke-linejoin="round" />
<polyline points="91.91,756.6 92.91,756.6 93.91,756.6 94.91,756.6 95.91,756.6 96.91,756.6 97.91,756.6 98.9,756.6 99.9,756.6 100.9,756.59 101.9,756.59 102.9,756.59 103.9,756.59 104.9,756.59 105.9,756.59 106.9,756.59 107.9,756.58 108.9,756.58 109.9,756.58 110.89,756.58 111.89,756.57 112.89,756.57 113.89,756.57 114.89,756.57 115.89,756.56 116.89,756.56 117.89,756.56 118.89,756.55 119.89,756.55 120.89,756.55 121.89,756.54 122.89,756.54 123.88,756.53 124.88,756.53 125.88,756.53 126.88,756.52 127.88,756.52 128.88,756.51 129.88,756.51 130.88,756.5 131.88,756.5 132.88,756.49 133.88,756.49 134.88,756.48 135.87,756.48 136.87,756.47 137.87,756.47 138.87,756.46 139.87,756.45 140.87,756.45 141.87,756.44 142.87,756.43 143.87,756.42 144.87,756.41 145.87,756.39 146.87,756.37 147.87,756.35 148.86,756.32 149.86,756.3 150.86,756.27 151.86,756.24 152.86,756.21 153.86,756.17 154.86,756.14 155.86,756.1 156.86,756.06 157.86,756.03 158.86,755.99 159.86,755.94 160.85,755.9 161.85,755.86 162.85,755.82 163.85,755.78 164.85,755.73 165.85,755.69 166.85,755.64 167.85,755.6 168.85,755.55 169.85,755.5 170.85,755.44 171.85,755.39 172.85,755.33 173.84,755.27 174.84,755.2 175.84,755.14 176.84,755.07 177.84,755 178.84,754.93 179.84,754.86 180.84,754.79 181.84,754.72 182.84,754.65 183.84,754.58 184.84,754.51 185.83,754.44 186.83,754.38 187.83,754.31 188.83,754.25 189.83,754.19 190.83,754.14 191.83,754.08 192.83,754.02 193.83,753.96 194.83,753.9 195.83,753.83 196.83,753.75 197.83,753.67 198.82,753.58 199.82,753.46 200.82,753.33 201.82,753.17 202.82,752.97 203.82,752.75 204.82,752.5 205.82,752.23 206.82,751.94 207.82,751.63 208.82,751.31 209.82,750.97 210.81,750.59 211.81,750.18 212.81,749.74 213.81,749.26 214.81,748.76 215.81,748.23 216.81,747.67 217.81,747.07 218.81,746.43 219.81,745.74 220.81,745 221.81,744.21 222.81,743.38 223.8,742.5 224.8,741.57 225.8,740.6 226.8,739.56 227.8,738.45 228.8,737.26 229.8,735.99 230.8,734.67 231.8,733.29 232.8,731.88 233.8,730.43 234.8,728.95 235.79,727.43 236.79,725.86 237.79,724.24 238.79,722.56 239.79,720.84 240.79,719.08 241.79,717.27 242.79,715.42 243.79,713.53 244.79,711.59 245.79,709.59 246.79,707.54 247.79,705.44 248.78,703.3 249.78,701.13 250.78,698.93 251.78,696.7 252.78,694.42 253.78,692.11 254.78,689.75 255.78,687.35 256.78,684.93 257.78,682.49 258.78,680.05 259.78,677.61 260.77,675.18 261.77,672.76 262.77,670.34 263.77,667.92 264.77,665.5 265.77,663.06 266.77,660.62 267.77,658.16 268.77,655.67 269.77,653.15 270.77,650.58 271.77,647.96 272.77,645.32 273.76,642.68 274.76,640.08 275.76,637.53 276.76,635.07 277.76,632.69 278.76,630.36 279.76,628.05 280.76,625.76 281.76,623.52 282.76,621.38 283.76,619.41 284.76,617.64 285.75,616.11 286.75,614.8 287.75,613.65 288.75,612.6 289.75,611.61 290.75,610.71 291.75,609.93 292.75,609.3 293.75,608.85 294.75,608.62 295.75,608.67 296.75,609.03 297.75,609.71 298.74,610.67 299.74,611.85 300.74,613.18 301.74,614.61 302.74,616.09 303.74,617.6 304.74,619.17 305.74,620.87 306.74,622.72 307.74,624.7 308.74,626.79 309.74,628.94 310.73,631.11 311.73,633.27 312.73,635.42 313.73,637.56 314.73,639.72 315.73,641.91 316.73,644.11 317.73,646.33 318.73,648.56 319.73,650.78 320.73,653 321.73,655.21 322.73,657.41 323.72,659.61 324.72,661.8 325.72,664 326.72,666.2 327.72,668.4 328.72,670.6 329.72,672.8 330.72,675.01 331.72,677.22 332.72,679.45 333.72,681.68 334.72,683.89 335.71,686.1 336.71,688.28 337.71,690.43 338.71,692.55 339.71,694.63 340.71,696.7 341.71,698.74 342.71,700.75 343.71,702.75 344.71,704.72 345.71,706.67 346.71,708.59 347.71,710.5 348.7,712.4 349.7,714.28 350.7,716.15 351.7,717.98 352.7,719.79 353.7,721.54 354.7,723.24 355.7,724.88 356.7,726.47 357.7,728.02 358.7,729.54 359.7,731.02 360.69,732.45 361.69,733.83 362.69,735.13 363.69,736.35 364.69,737.5 365.69,738.59 366.69,739.61 367.69,740.59 368.69,741.52 369.69,742.41 370.69,743.25 371.69,744.06 372.69,744.82 373.68,745.56 374.68,746.27 375.68,746.96 376.68,747.62 377.68,748.25 378.68,748.84 379.68,749.4 380.68,749.9 381.68,750.35 382.68,750.77 383.68,751.14 384.68,751.5 385.67,751.83 386.67,752.13 387.67,752.41 388.67,752.67 389.67,752.9 390.67,753.11 391.67,753.29 392.67,753.47 393.67,753.64 394.67,753.8 395.67,753.95 396.67,754.1 397.67,754.24 398.66,754.37 399.66,754.49 400.66,754.61 401.66,754.72 402.66,754.82 403.66,754.92 404.66,755.01 405.66,755.09 406.66,755.17 407.66,755.24 408.66,755.31 409.66,755.38 410.65,755.45 411.65,755.52 412.65,755.59 413.65,755.65 414.65,755.71 415.65,755.77 416.65,755.83 417.65,755.89 418.65,755.94 419.65,755.99 420.65,756.03 421.65,756.08 422.65,756.12 423.64,756.15 424.64,756.19 425.64,756.21 426.64,756.24 427.64,756.26 428.64,756.27 429.64,756.29 430.64,756.3 431.64,756.31 432.64,756.32 433.64,756.33 434.64,756.34 435.63,756.35 436.63,756.36 437.63,756.37 438.63,756.37 439.63,756.38 440.63,756.39 441.63,756.4 442.63,756.41 443.63,756.42 444.63,756.42 445.63,756.43 446.63,756.44 447.63,756.45 448.62,756.45 449.62,756.46 450.62,756.47 451.62,756.47 452.62,756.48 453.62,756.49 454.62,756.49 455.62,756.5 456.62,756.5 457.62,756.51 458.62,756.51 459.62,756.52 460.61,756.52 461.61,756.53 462.61,756.53 463.61,756.54 464.61,756.54 465.61,756.55 466.61,756.55 467.61,756.56 468.61,756.56 469.61,756.56 470.61,756.57 471.61,756.57 472.61,756.57 473.6,756.57 474.6,756.58 475.6,756.58 476.6,756.58 477.6,756.58 478.6,756.59 479.6,756.59 480.6,756.59 481.6,756.59 482.6,756.59 483.6,756.6 484.6,756.6 485.59,756.6 486.59,756.6 487.59,756.6 488.59,756.6 489.59,756.6 490.59,756.6 491.59,756.6" fill="none" stroke="#a8000e" stroke-width="2.1" stroke-linejoin="round" />
<polyline points="91.91,756.6 93.16,756.6 94.41,756.6 95.66,756.6 96.91,756.6 98.16,756.6 99.4,756.6 100.65,756.6 101.9,756.6 103.15,756.59 104.4,756.59 105.65,756.59 106.9,756.59 108.15,756.59 109.4,756.59 110.65,756.59 111.89,756.59 113.14,756.59 114.39,756.59 115.64,756.59 116.89,756.58 118.14,756.58 119.39,756.58 120.64,756.58 121.89,756.58 123.13,756.57 124.38,756.57 125.63,756.57 126.88,756.57 128.13,756.56 129.38,756.56 130.63,756.56 131.88,756.55 133.13,756.55 134.38,756.55 135.62,756.54 136.87,756.54 138.12,756.53 139.37,756.52 140.62,756.52 141.87,756.51 143.12,756.5 144.37,756.49 145.62,756.49 146.87,756.48 148.12,756.47 149.36,756.46 150.61,756.45 151.86,756.43 153.11,756.42 154.36,756.41 155.61,756.39 156.86,756.38 158.11,756.36 159.36,756.34 160.6,756.32 161.85,756.3 163.1,756.28 164.35,756.26 165.6,756.24 166.85,756.21 168.1,756.18 169.35,756.15 170.6,756.12 171.85,756.09 173.09,756.06 174.34,756.02 175.59,755.99 176.84,755.95 178.09,755.91 179.34,755.86 180.59,755.81 181.84,755.77 183.09,755.72 184.34,755.66 185.58,755.6 186.83,755.55 188.08,755.48 189.33,755.42 190.58,755.35 191.83,755.27 193.08,755.2 194.33,755.12 195.58,755.03 196.83,754.94 198.07,754.85 199.32,754.74 200.57,754.64 201.82,754.52 203.07,754.4 204.32,754.28 205.57,754.14 206.82,753.99 208.07,753.84 209.32,753.67 210.56,753.49 211.81,753.3 213.06,753.09 214.31,752.86 215.56,752.62 216.81,752.36 218.06,752.07 219.31,751.76 220.56,751.42 221.81,751.05 223.06,750.65 224.3,750.21 225.55,749.73 226.8,749.21 228.05,748.64 229.3,748.02 230.55,747.34 231.8,746.61 233.05,745.81 234.3,744.94 235.55,744 236.79,742.98 238.04,741.87 239.29,740.68 240.54,739.4 241.79,738.02 243.04,736.54 244.29,734.96 245.54,733.27 246.79,731.46 248.03,729.55 249.28,727.52 250.53,725.38 251.78,723.12 253.03,720.74 254.28,718.26 255.53,715.66 256.78,712.96 258.03,710.15 259.28,707.25 260.52,704.26 261.77,701.2 263.02,698.06 264.27,694.86 265.52,691.62 266.77,688.34 268.02,685.04 269.27,681.74 270.52,678.45 271.77,675.19 273.01,671.97 274.26,668.82 275.51,665.75 276.76,662.78 278.01,659.92 279.26,657.2 280.51,654.64 281.76,652.24 283.01,650.03 284.26,648.02 285.5,646.23 286.75,644.66 288,643.34 289.25,642.26 290.5,641.43 291.75,640.87 293,640.58 294.25,640.55 295.5,640.73 296.75,641.11 298,641.7 299.24,642.48 300.49,643.45 301.74,644.61 302.99,645.96 304.24,647.47 305.49,649.15 306.74,650.99 307.99,652.97 309.24,655.1 310.49,657.34 311.73,659.71 312.98,662.17 314.23,664.73 315.48,667.37 316.73,670.07 317.98,672.84 319.23,675.64 320.48,678.48 321.73,681.34 322.98,684.21 324.22,687.08 325.47,689.94 326.72,692.78 327.97,695.59 329.22,698.36 330.47,701.09 331.72,703.76 332.97,706.38 334.22,708.93 335.47,711.41 336.71,713.82 337.96,716.14 339.21,718.39 340.46,720.55 341.71,722.63 342.96,724.62 344.21,726.53 345.46,728.35 346.71,730.08 347.95,731.72 349.2,733.28 350.45,734.76 351.7,736.15 352.95,737.47 354.2,738.7 355.45,739.87 356.7,740.96 357.95,741.98 359.2,742.94 360.44,743.83 361.69,744.67 362.94,745.44 364.19,746.17 365.44,746.84 366.69,747.47 367.94,748.05 369.19,748.59 370.44,749.09 371.69,749.56 372.94,749.99 374.18,750.39 375.43,750.76 376.68,751.1 377.93,751.42 379.18,751.72 380.43,751.99 381.68,752.25 382.93,752.49 384.18,752.71 385.43,752.92 386.67,753.11 387.92,753.29 389.17,753.46 390.42,753.62 391.67,753.77 392.92,753.91 394.17,754.04 395.42,754.17 396.67,754.28 397.92,754.39 399.16,754.5 400.41,754.6 401.66,754.69 402.91,754.79 404.16,754.87 405.41,754.95 406.66,755.03 407.91,755.11 409.16,755.18 410.4,755.25 411.65,755.31 412.9,755.37 414.15,755.43 415.4,755.49 416.65,755.54 417.9,755.6 419.15,755.64 420.4,755.69 421.65,755.74 422.89,755.78 424.14,755.82 425.39,755.86 426.64,755.9 427.89,755.94 429.14,755.97 430.39,756.01 431.64,756.04 432.89,756.07 434.14,756.1 435.38,756.12 436.63,756.15 437.88,756.18 439.13,756.2 440.38,756.22 441.63,756.24 442.88,756.26 444.13,756.28 445.38,756.3 446.63,756.32 447.88,756.34 449.12,756.35 450.37,756.37 451.62,756.38 452.87,756.39 454.12,756.41 455.37,756.42 456.62,756.43 457.87,756.44 459.12,756.45 460.37,756.46 461.61,756.47 462.86,756.48 464.11,756.49 465.36,756.49 466.61,756.5 467.86,756.51 469.11,756.51 470.36,756.52 471.61,756.52 472.86,756.53 474.1,756.53 475.35,756.54 476.6,756.54 477.85,756.55 479.1,756.55 480.35,756.55 481.6,756.56 482.85,756.56 484.1,756.56 485.35,756.57 486.59,756.57 487.84,756.57 489.09,756.57 490.34,756.58 491.59,756.58" fill="none" stroke="#d40008" stroke-width="2.1" stroke-linejoin="round" />
<polyline points="91.91,756.6 93.16,756.6 94.41,756.6 95.66,756.6 96.91,756.6 98.16,756.6 99.4,756.6 100.65,756.6 101.9,756.6 103.15,756.6 104.4,756.6 105.65,756.6 106.9,756.6 108.15,756.6 109.4,756.6 110.65,756.6 111.89,756.59 113.14,756.59 114.39,756.59 115.64,756.59 116.89,756.59 118.14,756.59 119.39,756.59 120.64,756.59 121.89,756.59 123.13,756.59 124.38,756.59 125.63,756.58 126.88,756.58 128.13,756.58 129.38,756.58 130.63,756.58 131.88,756.57 133.13,756.57 134.38,756.57 135.62,756.57 136.87,756.56 138.12,756.56 139.37,756.55 140.62,756.55 141.87,756.55 143.12,756.54 144.37,756.54 145.62,756.53 146.87,756.52 148.12,756.52 149.36,756.51 150.61,756.5 151.86,756.49 153.11,756.48 154.36,756.47 155.61,756.46 156.86,756.45 158.11,756.44 159.36,756.43 160.6,756.41 161.85,756.4 163.1,756.38 164.35,756.37 165.6,756.35 166.85,756.33 168.1,756.31 169.35,756.29 170.6,756.26 171.85,756.24 173.09,756.21 174.34,756.18 175.59,756.15 176.84,756.12 178.09,756.09 179.34,756.05 180.59,756.01 181.84,755.97 183.09,755.93 184.34,755.89 185.58,755.84 186.83,755.79 188.08,755.74 189.33,755.68 190.58,755.62 191.83,755.56 193.08,755.5 194.33,755.43 195.58,755.36 196.83,755.28 198.07,755.2 199.32,755.11 200.57,755.02 201.82,754.93 203.07,754.83 204.32,754.72 205.57,754.61 206.82,754.48 208.07,754.35 209.32,754.22 210.56,754.07 211.81,753.91 213.06,753.74 214.31,753.55 215.56,753.35 216.81,753.13 218.06,752.9 219.31,752.64 220.56,752.36 221.81,752.06 223.06,751.73 224.3,751.36 225.55,750.97 226.8,750.53 228.05,750.06 229.3,749.53 230.55,748.96 231.8,748.34 233.05,747.65 234.3,746.9 235.55,746.08 236.79,745.19 238.04,744.22 239.29,743.16 240.54,742.01 241.79,740.77 243.04,739.43 244.29,737.98 245.54,736.42 246.79,734.74 248.03,732.95 249.28,731.04 250.53,729 251.78,726.84 253.03,724.56 254.28,722.15 255.53,719.62 256.78,716.97 258.03,714.2 259.28,711.32 260.52,708.34 261.77,705.27 263.02,702.1 264.27,698.87 265.52,695.57 266.77,692.23 268.02,688.85 269.27,685.45 270.52,682.06 271.77,678.69 273.01,675.36 274.26,672.09 275.51,668.9 276.76,665.81 278.01,662.84 279.26,660.01 280.51,657.35 281.76,654.86 283.01,652.58 284.26,650.51 285.5,648.68 286.75,647.09 288,645.77 289.25,644.71 290.5,643.93 291.75,643.44 293,643.24 294.25,643.31 295.5,643.6 296.75,644.13 298,644.88 299.24,645.84 300.49,647.02 301.74,648.41 302.99,649.99 304.24,651.75 305.49,653.7 306.74,655.81 307.99,658.07 309.24,660.47 310.49,662.99 311.73,665.63 312.98,668.36 314.23,671.17 315.48,674.06 316.73,676.99 317.98,679.97 319.23,682.97 320.48,685.98 321.73,688.99 322.98,691.99 324.22,694.97 325.47,697.91 326.72,700.8 327.97,703.64 329.22,706.41 330.47,709.12 331.72,711.75 332.97,714.3 334.22,716.75 335.47,719.12 336.71,721.4 337.96,723.58 339.21,725.66 340.46,727.64 341.71,729.52 342.96,731.31 344.21,733 345.46,734.59 346.71,736.09 347.95,737.5 349.2,738.82 350.45,740.06 351.7,741.22 352.95,742.3 354.2,743.3 355.45,744.23 356.7,745.1 357.95,745.9 359.2,746.65 360.44,747.33 361.69,747.97 362.94,748.56 364.19,749.1 365.44,749.6 366.69,750.06 367.94,750.48 369.19,750.88 370.44,751.24 371.69,751.57 372.94,751.88 374.18,752.16 375.43,752.43 376.68,752.67 377.93,752.9 379.18,753.11 380.43,753.3 381.68,753.48 382.93,753.65 384.18,753.81 385.43,753.96 386.67,754.1 387.92,754.23 389.17,754.35 390.42,754.47 391.67,754.58 392.92,754.68 394.17,754.78 395.42,754.87 396.67,754.96 397.92,755.04 399.16,755.12 400.41,755.2 401.66,755.27 402.91,755.34 404.16,755.4 405.41,755.47 406.66,755.52 407.91,755.58 409.16,755.64 410.4,755.69 411.65,755.74 412.9,755.78 414.15,755.83 415.4,755.87 416.65,755.91 417.9,755.95 419.15,755.99 420.4,756.02 421.65,756.05 422.89,756.09 424.14,756.12 425.39,756.14 426.64,756.17 427.89,756.2 429.14,756.22 430.39,756.24 431.64,756.27 432.89,756.29 434.14,756.31 435.38,756.32 436.63,756.34 437.88,756.36 439.13,756.37 440.38,756.39 441.63,756.4 442.88,756.42 444.13,756.43 445.38,756.44 446.63,756.45 447.88,756.46 449.12,756.47 450.37,756.48 451.62,756.49 452.87,756.5 454.12,756.5 455.37,756.51 456.62,756.52 457.87,756.52 459.12,756.53 460.37,756.53 461.61,756.54 462.86,756.54 464.11,756.55 465.36,756.55 466.61,756.56 467.86,756.56 469.11,756.56 470.36,756.56 471.61,756.57 472.86,756.57 474.1,756.57 475.35,756.57 476.6,756.58 477.85,756.58 479.1,756.58 480.35,756.58 481.6,756.58 482.85,756.58 484.1,756.59 485.35,756.59 486.59,756.59 487.84,756.59 489.09,756.59 490.34,756.59 491.59,756.59" fill="none" stroke="#e80000" stroke-width="2.1" stroke-linejoin="round" />
</g>
<g clip-path="url(#cd2)">
<line x1="99.2" y1="892.9" x2="491" y2="890.5" stroke="#808080" stroke-width="2.4" stroke-dasharray="16 10"/>
<polyline points="91.91,934.8 92.91,934.8 93.91,934.8 94.91,934.8 95.91,934.8 96.91,934.79 97.91,934.79 98.9,934.79 99.9,934.78 100.9,934.78 101.9,934.78 102.9,934.77 103.9,934.77 104.9,934.76 105.9,934.75 106.9,934.75 107.9,934.74 108.9,934.73 109.9,934.72 110.89,934.72 111.89,934.71 112.89,934.7 113.89,934.69 114.89,934.68 115.89,934.67 116.89,934.66 117.89,934.65 118.89,934.63 119.89,934.62 120.89,934.61 121.89,934.6 122.89,934.58 123.88,934.57 124.88,934.55 125.88,934.54 126.88,934.53 127.88,934.51 128.88,934.49 129.88,934.47 130.88,934.45 131.88,934.42 132.88,934.38 133.88,934.34 134.88,934.29 135.87,934.23 136.87,934.17 137.87,934.1 138.87,934.03 139.87,933.96 140.87,933.87 141.87,933.79 142.87,933.7 143.87,933.6 144.87,933.51 145.87,933.4 146.87,933.3 147.87,933.19 148.86,933.08 149.86,932.97 150.86,932.86 151.86,932.74 152.86,932.63 153.86,932.51 154.86,932.38 155.86,932.25 156.86,932.11 157.86,931.96 158.86,931.8 159.86,931.62 160.85,931.44 161.85,931.25 162.85,931.05 163.85,930.85 164.85,930.63 165.85,930.41 166.85,930.18 167.85,929.95 168.85,929.7 169.85,929.46 170.85,929.2 171.85,928.94 172.85,928.68 173.84,928.41 174.84,928.14 175.84,927.87 176.84,927.59 177.84,927.31 178.84,927.02 179.84,926.73 180.84,926.43 181.84,926.12 182.84,925.8 183.84,925.48 184.84,925.14 185.83,924.8 186.83,924.44 187.83,924.08 188.83,923.7 189.83,923.3 190.83,922.89 191.83,922.47 192.83,922.03 193.83,921.57 194.83,921.1 195.83,920.61 196.83,920.1 197.83,919.57 198.82,919.01 199.82,918.42 200.82,917.76 201.82,917.02 202.82,916.19 203.82,915.29 204.82,914.34 205.82,913.36 206.82,912.37 207.82,911.38 208.82,910.41 209.82,909.44 210.81,908.47 211.81,907.49 212.81,906.5 213.81,905.5 214.81,904.48 215.81,903.46 216.81,902.42 217.81,901.38 218.81,900.32 219.81,899.26 220.81,898.19 221.81,897.1 222.81,896 223.8,894.88 224.8,893.73 225.8,892.56 226.8,891.37 227.8,890.15 228.8,888.91 229.8,887.64 230.8,886.35 231.8,885.02 232.8,883.67 233.8,882.29 234.8,880.87 235.79,879.43 236.79,877.96 237.79,876.46 238.79,874.91 239.79,873.32 240.79,871.67 241.79,869.95 242.79,868.12 243.79,866.13 244.79,863.96 245.79,861.63 246.79,859.21 247.79,856.84 248.78,854.62 249.78,852.66 250.78,850.97 251.78,849.53 252.78,848.26 253.78,847.07 254.78,845.91 255.78,844.72 256.78,843.42 257.78,842 258.78,840.47 259.78,838.83 260.77,837.16 261.77,835.48 262.77,833.84 263.77,832.29 264.77,830.85 265.77,829.5 266.77,828.2 267.77,826.88 268.77,825.49 269.77,823.99 270.77,822.35 271.77,820.55 272.77,818.52 273.76,816.24 274.76,813.79 275.76,811.29 276.76,808.83 277.76,806.43 278.76,804.17 279.76,802.21 280.76,800.7 281.76,799.66 282.76,798.96 283.76,798.44 284.76,798.02 285.75,797.66 286.75,797.39 287.75,797.2 288.75,797.13 289.75,797.21 290.75,797.46 291.75,797.89 292.75,798.47 293.75,799.18 294.75,800.07 295.75,801.18 296.75,802.54 297.75,804.07 298.74,805.64 299.74,807.13 300.74,808.49 301.74,809.74 302.74,810.92 303.74,812.03 304.74,813.06 305.74,813.95 306.74,814.69 307.74,815.26 308.74,815.68 309.74,816.02 310.73,816.33 311.73,816.66 312.73,817.06 313.73,817.54 314.73,818.11 315.73,818.77 316.73,819.54 317.73,820.44 318.73,821.53 319.73,822.83 320.73,824.32 321.73,825.96 322.73,827.7 323.72,829.56 324.72,831.54 325.72,833.64 326.72,835.83 327.72,838.04 328.72,840.23 329.72,842.34 330.72,844.37 331.72,846.34 332.72,848.27 333.72,850.16 334.72,852.04 335.71,853.91 336.71,855.78 337.71,857.66 338.71,859.55 339.71,861.48 340.71,863.42 341.71,865.38 342.71,867.34 343.71,869.27 344.71,871.17 345.71,873.01 346.71,874.78 347.71,876.48 348.7,878.1 349.7,879.65 350.7,881.16 351.7,882.64 352.7,884.09 353.7,885.54 354.7,887 355.7,888.48 356.7,889.99 357.7,891.53 358.7,893.09 359.7,894.65 360.69,896.2 361.69,897.71 362.69,899.17 363.69,900.57 364.69,901.9 365.69,903.19 366.69,904.43 367.69,905.64 368.69,906.81 369.69,907.93 370.69,908.98 371.69,909.96 372.69,910.85 373.68,911.66 374.68,912.39 375.68,913.06 376.68,913.69 377.68,914.28 378.68,914.84 379.68,915.39 380.68,915.93 381.68,916.46 382.68,916.99 383.68,917.52 384.68,918.03 385.67,918.54 386.67,919.03 387.67,919.52 388.67,920.01 389.67,920.49 390.67,920.98 391.67,921.47 392.67,921.98 393.67,922.49 394.67,922.99 395.67,923.49 396.67,923.96 397.67,924.4 398.66,924.8 399.66,925.16 400.66,925.47 401.66,925.76 402.66,926.03 403.66,926.28 404.66,926.52 405.66,926.75 406.66,926.96 407.66,927.17 408.66,927.37 409.66,927.56 410.65,927.75 411.65,927.94 412.65,928.12 413.65,928.3 414.65,928.48 415.65,928.66 416.65,928.85 417.65,929.04 418.65,929.23 419.65,929.42 420.65,929.61 421.65,929.8 422.65,929.99 423.64,930.18 424.64,930.36 425.64,930.53 426.64,930.69 427.64,930.85 428.64,930.99 429.64,931.12 430.64,931.24 431.64,931.35 432.64,931.44 433.64,931.54 434.64,931.63 435.63,931.72 436.63,931.81 437.63,931.89 438.63,931.98 439.63,932.06 440.63,932.13 441.63,932.21 442.63,932.28 443.63,932.35 444.63,932.41 445.63,932.47 446.63,932.52 447.63,932.57 448.62,932.62 449.62,932.66 450.62,932.69 451.62,932.72 452.62,932.74 453.62,932.75 454.62,932.77 455.62,932.78 456.62,932.78 457.62,932.79 458.62,932.8 459.62,932.81 460.61,932.81 461.61,932.82 462.61,932.83 463.61,932.83 464.61,932.84 465.61,932.84 466.61,932.85 467.61,932.86 468.61,932.86 469.61,932.87 470.61,932.87 471.61,932.88 472.61,932.88 473.6,932.88 474.6,932.89 475.6,932.89 476.6,932.89 477.6,932.9 478.6,932.9 479.6,932.9 480.6,932.91 481.6,932.91 482.6,932.91 483.6,932.91 484.6,932.91 485.59,932.92 486.59,932.92 487.59,932.92 488.59,932.92 489.59,932.92 490.59,932.92 491.59,932.92" fill="none" stroke="#3c0406" stroke-width="2.1" stroke-linejoin="round" />
<polyline points="91.91,934.8 92.91,934.8 93.91,934.8 94.91,934.8 95.91,934.8 96.91,934.79 97.91,934.79 98.9,934.79 99.9,934.78 100.9,934.78 101.9,934.78 102.9,934.77 103.9,934.77 104.9,934.76 105.9,934.75 106.9,934.75 107.9,934.74 108.9,934.73 109.9,934.72 110.89,934.72 111.89,934.71 112.89,934.7 113.89,934.69 114.89,934.68 115.89,934.67 116.89,934.66 117.89,934.65 118.89,934.63 119.89,934.62 120.89,934.61 121.89,934.6 122.89,934.58 123.88,934.57 124.88,934.56 125.88,934.54 126.88,934.53 127.88,934.51 128.88,934.49 129.88,934.47 130.88,934.45 131.88,934.42 132.88,934.38 133.88,934.33 134.88,934.28 135.87,934.22 136.87,934.15 137.87,934.08 138.87,934 139.87,933.92 140.87,933.83 141.87,933.74 142.87,933.64 143.87,933.54 144.87,933.44 145.87,933.33 146.87,933.21 147.87,933.1 148.86,932.98 149.86,932.86 150.86,932.74 151.86,932.61 152.86,932.48 153.86,932.35 154.86,932.22 155.86,932.08 156.86,931.93 157.86,931.76 158.86,931.59 159.86,931.4 160.85,931.21 161.85,931 162.85,930.79 163.85,930.57 164.85,930.33 165.85,930.09 166.85,929.84 167.85,929.58 168.85,929.32 169.85,929.05 170.85,928.77 171.85,928.48 172.85,928.19 173.84,927.89 174.84,927.59 175.84,927.28 176.84,926.96 177.84,926.63 178.84,926.3 179.84,925.95 180.84,925.59 181.84,925.22 182.84,924.83 183.84,924.43 184.84,924.01 185.83,923.59 186.83,923.14 187.83,922.68 188.83,922.21 189.83,921.72 190.83,921.21 191.83,920.69 192.83,920.15 193.83,919.59 194.83,919.01 195.83,918.42 196.83,917.81 197.83,917.18 198.82,916.52 199.82,915.82 200.82,915.04 201.82,914.15 202.82,913.15 203.82,912.07 204.82,910.94 205.82,909.8 206.82,908.69 207.82,907.64 208.82,906.69 209.82,905.87 210.81,905.18 211.81,904.6 212.81,904.11 213.81,903.65 214.81,903.2 215.81,902.71 216.81,902.14 217.81,901.48 218.81,900.72 219.81,899.86 220.81,898.92 221.81,897.9 222.81,896.83 223.8,895.72 224.8,894.58 225.8,893.4 226.8,892.18 227.8,890.88 228.8,889.54 229.8,888.18 230.8,886.84 231.8,885.55 232.8,884.31 233.8,883.11 234.8,881.9 235.79,880.67 236.79,879.38 237.79,878.03 238.79,876.59 239.79,875.06 240.79,873.44 241.79,871.72 242.79,869.86 243.79,867.85 244.79,865.65 245.79,863.32 246.79,860.92 247.79,858.58 248.78,856.35 249.78,854.24 250.78,852.21 251.78,850.23 252.78,848.26 253.78,846.25 254.78,844.19 255.78,842.11 256.78,840.07 257.78,838.15 258.78,836.41 259.78,834.87 260.77,833.49 261.77,832.23 262.77,831.03 263.77,829.86 264.77,828.67 265.77,827.45 266.77,826.2 267.77,824.94 268.77,823.64 269.77,822.26 270.77,820.76 271.77,819.1 272.77,817.27 273.76,815.29 274.76,813.21 275.76,811.07 276.76,808.89 277.76,806.67 278.76,804.39 279.76,802.02 280.76,799.54 281.76,796.91 282.76,794.1 283.76,791.24 284.76,788.5 285.75,786.01 286.75,783.78 287.75,781.84 288.75,780.37 289.75,779.59 290.75,779.68 291.75,780.61 292.75,782.17 293.75,784.1 294.75,786.22 295.75,788.47 296.75,790.87 297.75,793.33 298.74,795.74 299.74,798 300.74,800.11 301.74,801.97 302.74,803.42 303.74,804.26 304.74,804.51 305.74,804.33 306.74,803.97 307.74,803.59 308.74,803.28 309.74,803.07 310.73,802.93 311.73,802.85 312.73,802.86 313.73,803.1 314.73,803.73 315.73,804.84 316.73,806.42 317.73,808.53 318.73,811.27 319.73,814.56 320.73,818.05 321.73,821.37 322.73,824.38 323.72,827.13 324.72,829.74 325.72,832.28 326.72,834.75 327.72,837.16 328.72,839.52 329.72,841.84 330.72,844.14 331.72,846.43 332.72,848.74 333.72,851.05 334.72,853.36 335.71,855.64 336.71,857.86 337.71,860.02 338.71,862.09 339.71,864.09 340.71,866.03 341.71,867.91 342.71,869.75 343.71,871.55 344.71,873.29 345.71,874.97 346.71,876.61 347.71,878.18 348.7,879.69 349.7,881.15 350.7,882.56 351.7,883.93 352.7,885.29 353.7,886.64 354.7,888 355.7,889.38 356.7,890.79 357.7,892.23 358.7,893.69 359.7,895.15 360.69,896.6 361.69,898.01 362.69,899.37 363.69,900.67 364.69,901.9 365.69,903.07 366.69,904.2 367.69,905.29 368.69,906.34 369.69,907.34 370.69,908.3 371.69,909.19 372.69,910.02 373.68,910.8 374.68,911.52 375.68,912.2 376.68,912.84 377.68,913.45 378.68,914.03 379.68,914.58 380.68,915.1 381.68,915.59 382.68,916.06 383.68,916.49 384.68,916.89 385.67,917.27 386.67,917.64 387.67,918.02 388.67,918.41 389.67,918.82 390.67,919.27 391.67,919.78 392.67,920.33 393.67,920.92 394.67,921.54 395.67,922.15 396.67,922.75 397.67,923.31 398.66,923.81 399.66,924.25 400.66,924.63 401.66,924.98 402.66,925.29 403.66,925.59 404.66,925.87 405.66,926.14 406.66,926.4 407.66,926.64 408.66,926.87 409.66,927.1 410.65,927.32 411.65,927.53 412.65,927.73 413.65,927.94 414.65,928.14 415.65,928.33 416.65,928.53 417.65,928.73 418.65,928.93 419.65,929.12 420.65,929.32 421.65,929.51 422.65,929.69 423.64,929.88 424.64,930.05 425.64,930.22 426.64,930.38 427.64,930.53 428.64,930.67 429.64,930.8 430.64,930.92 431.64,931.03 432.64,931.14 433.64,931.24 434.64,931.34 435.63,931.44 436.63,931.53 437.63,931.63 438.63,931.72 439.63,931.81 440.63,931.9 441.63,931.98 442.63,932.06 443.63,932.14 444.63,932.21 445.63,932.27 446.63,932.34 447.63,932.39 448.62,932.44 449.62,932.49 450.62,932.52 451.62,932.56 452.62,932.58 453.62,932.6 454.62,932.61 455.62,932.62 456.62,932.63 457.62,932.63 458.62,932.64 459.62,932.65 460.61,932.66 461.61,932.66 462.61,932.67 463.61,932.68 464.61,932.68 465.61,932.69 466.61,932.69 467.61,932.7 468.61,932.7 469.61,932.71 470.61,932.71 471.61,932.72 472.61,932.72 473.6,932.73 474.6,932.73 475.6,932.73 476.6,932.74 477.6,932.74 478.6,932.74 479.6,932.75 480.6,932.75 481.6,932.75 482.6,932.75 483.6,932.76 484.6,932.76 485.59,932.76 486.59,932.76 487.59,932.76 488.59,932.76 489.59,932.76 490.59,932.76 491.59,932.76" fill="none" stroke="#5e0a10" stroke-width="2.1" stroke-linejoin="round" />
<polyline points="91.91,934.8 92.91,934.8 93.91,934.8 94.91,934.8 95.91,934.8 96.91,934.8 97.91,934.8 98.9,934.79 99.9,934.79 100.9,934.79 101.9,934.79 102.9,934.79 103.9,934.78 104.9,934.78 105.9,934.78 106.9,934.77 107.9,934.77 108.9,934.76 109.9,934.76 110.89,934.76 111.89,934.75 112.89,934.75 113.89,934.74 114.89,934.73 115.89,934.73 116.89,934.72 117.89,934.72 118.89,934.71 119.89,934.7 120.89,934.7 121.89,934.69 122.89,934.68 123.88,934.67 124.88,934.67 125.88,934.66 126.88,934.65 127.88,934.64 128.88,934.63 129.88,934.62 130.88,934.61 131.88,934.6 132.88,934.59 133.88,934.58 134.88,934.57 135.87,934.56 136.87,934.55 137.87,934.54 138.87,934.52 139.87,934.51 140.87,934.5 141.87,934.48 142.87,934.47 143.87,934.44 144.87,934.41 145.87,934.38 146.87,934.33 147.87,934.28 148.86,934.23 149.86,934.17 150.86,934.11 151.86,934.04 152.86,933.96 153.86,933.88 154.86,933.8 155.86,933.72 156.86,933.63 157.86,933.53 158.86,933.44 159.86,933.34 160.85,933.24 161.85,933.14 162.85,933.03 163.85,932.93 164.85,932.82 165.85,932.71 166.85,932.6 167.85,932.48 168.85,932.35 169.85,932.21 170.85,932.06 171.85,931.9 172.85,931.73 173.84,931.55 174.84,931.37 175.84,931.17 176.84,930.98 177.84,930.78 178.84,930.58 179.84,930.38 180.84,930.17 181.84,929.97 182.84,929.77 183.84,929.57 184.84,929.38 185.83,929.2 186.83,929.02 187.83,928.85 188.83,928.68 189.83,928.51 190.83,928.34 191.83,928.16 192.83,927.98 193.83,927.78 194.83,927.57 195.83,927.34 196.83,927.09 197.83,926.82 198.82,926.52 199.82,926.17 200.82,925.76 201.82,925.26 202.82,924.66 203.82,923.98 204.82,923.23 205.82,922.44 206.82,921.62 207.82,920.79 208.82,919.94 209.82,919.07 210.81,918.17 211.81,917.23 212.81,916.24 213.81,915.22 214.81,914.17 215.81,913.09 216.81,911.98 217.81,910.84 218.81,909.65 219.81,908.42 220.81,907.16 221.81,905.85 222.81,904.52 223.8,903.17 224.8,901.79 225.8,900.41 226.8,899 227.8,897.58 228.8,896.14 229.8,894.68 230.8,893.18 231.8,891.66 232.8,890.11 233.8,888.52 234.8,886.89 235.79,885.2 236.79,883.47 237.79,881.69 238.79,879.88 239.79,878.04 240.79,876.2 241.79,874.36 242.79,872.53 243.79,870.71 244.79,868.9 245.79,867.09 246.79,865.28 247.79,863.47 248.78,861.66 249.78,859.87 250.78,858.09 251.78,856.33 252.78,854.6 253.78,852.88 254.78,851.19 255.78,849.5 256.78,847.82 257.78,846.14 258.78,844.44 259.78,842.73 260.77,840.97 261.77,839.17 262.77,837.32 263.77,835.43 264.77,833.55 265.77,831.68 266.77,829.88 267.77,828.16 268.77,826.53 269.77,824.99 270.77,823.51 271.77,822.09 272.77,820.73 273.76,819.49 274.76,818.39 275.76,817.48 276.76,816.75 277.76,816.18 278.76,815.71 279.76,815.24 280.76,814.68 281.76,813.97 282.76,813.05 283.76,811.95 284.76,810.72 285.75,809.44 286.75,808.09 287.75,806.66 288.75,805.13 289.75,803.59 290.75,802.15 291.75,800.99 292.75,800.26 293.75,800.04 294.75,800.37 295.75,801.15 296.75,802.24 297.75,803.49 298.74,804.84 299.74,806.3 300.74,807.86 301.74,809.44 302.74,810.92 303.74,812.16 304.74,813.14 305.74,813.93 306.74,814.58 307.74,815.17 308.74,815.73 309.74,816.29 310.73,816.85 311.73,817.43 312.73,817.99 313.73,818.54 314.73,819.12 315.73,819.74 316.73,820.46 317.73,821.33 318.73,822.4 319.73,823.7 320.73,825.2 321.73,826.83 322.73,828.55 323.72,830.33 324.72,832.18 325.72,834.12 326.72,836.13 327.72,838.2 328.72,840.29 329.72,842.4 330.72,844.52 331.72,846.67 332.72,848.84 333.72,851.04 334.72,853.26 335.71,855.48 336.71,857.71 337.71,859.93 338.71,862.15 339.71,864.38 340.71,866.61 341.71,868.85 342.71,871.09 343.71,873.32 344.71,875.52 345.71,877.67 346.71,879.78 347.71,881.85 348.7,883.88 349.7,885.88 350.7,887.84 351.7,889.78 352.7,891.67 353.7,893.51 354.7,895.3 355.7,897.03 356.7,898.72 357.7,900.38 358.7,901.99 359.7,903.57 360.69,905.1 361.69,906.57 362.69,907.98 363.69,909.3 364.69,910.56 365.69,911.74 366.69,912.87 367.69,913.94 368.69,914.97 369.69,915.96 370.69,916.9 371.69,917.81 372.69,918.67 373.68,919.5 374.68,920.3 375.68,921.07 376.68,921.81 377.68,922.52 378.68,923.21 379.68,923.86 380.68,924.49 381.68,925.1 382.68,925.69 383.68,926.26 384.68,926.82 385.67,927.35 386.67,927.87 387.67,928.36 388.67,928.81 389.67,929.23 390.67,929.62 391.67,929.99 392.67,930.35 393.67,930.7 394.67,931.03 395.67,931.34 396.67,931.61 397.67,931.85 398.66,932.03 399.66,932.17 400.66,932.27 401.66,932.35 402.66,932.41 403.66,932.47 404.66,932.52 405.66,932.57 406.66,932.61 407.66,932.65 408.66,932.69 409.66,932.73 410.65,932.76 411.65,932.79 412.65,932.81 413.65,932.84 414.65,932.87 415.65,932.89 416.65,932.92 417.65,932.95 418.65,932.97 419.65,933 420.65,933.03 421.65,933.05 422.65,933.08 423.64,933.11 424.64,933.13 425.64,933.16 426.64,933.18 427.64,933.2 428.64,933.23 429.64,933.25 430.64,933.27 431.64,933.29 432.64,933.3 433.64,933.32 434.64,933.34 435.63,933.35 436.63,933.36 437.63,933.37 438.63,933.38 439.63,933.38 440.63,933.39 441.63,933.39 442.63,933.39 443.63,933.39 444.63,933.39 445.63,933.39 446.63,933.39 447.63,933.39 448.62,933.39 449.62,933.39 450.62,933.39 451.62,933.39 452.62,933.39 453.62,933.39 454.62,933.38 455.62,933.38 456.62,933.38 457.62,933.38 458.62,933.38 459.62,933.37 460.61,933.37 461.61,933.37 462.61,933.37 463.61,933.36 464.61,933.36 465.61,933.35 466.61,933.35 467.61,933.35 468.61,933.34 469.61,933.33 470.61,933.33 471.61,933.32 472.61,933.31 473.6,933.31 474.6,933.3 475.6,933.29 476.6,933.28 477.6,933.27 478.6,933.26 479.6,933.25 480.6,933.24 481.6,933.23 482.6,933.22 483.6,933.2 484.6,933.19 485.59,933.18 486.59,933.16 487.59,933.15 488.59,933.13 489.59,933.11 490.59,933.1 491.59,933.08" fill="none" stroke="#80000e" stroke-width="2.1" stroke-linejoin="round" />
<polyline points="91.91,934.8 92.91,934.8 93.91,934.8 94.91,934.8 95.91,934.8 96.91,934.8 97.91,934.8 98.9,934.8 99.9,934.8 100.9,934.8 101.9,934.79 102.9,934.79 103.9,934.79 104.9,934.79 105.9,934.79 106.9,934.79 107.9,934.78 108.9,934.78 109.9,934.78 110.89,934.78 111.89,934.78 112.89,934.77 113.89,934.77 114.89,934.77 115.89,934.77 116.89,934.76 117.89,934.76 118.89,934.76 119.89,934.75 120.89,934.75 121.89,934.75 122.89,934.74 123.88,934.74 124.88,934.73 125.88,934.73 126.88,934.73 127.88,934.72 128.88,934.72 129.88,934.71 130.88,934.71 131.88,934.7 132.88,934.7 133.88,934.69 134.88,934.69 135.87,934.68 136.87,934.67 137.87,934.67 138.87,934.66 139.87,934.66 140.87,934.65 141.87,934.64 142.87,934.63 143.87,934.62 144.87,934.6 145.87,934.57 146.87,934.55 147.87,934.51 148.86,934.48 149.86,934.44 150.86,934.4 151.86,934.35 152.86,934.3 153.86,934.25 154.86,934.19 155.86,934.13 156.86,934.07 157.86,934.01 158.86,933.95 159.86,933.88 160.85,933.81 161.85,933.74 162.85,933.67 163.85,933.6 164.85,933.53 165.85,933.46 166.85,933.39 167.85,933.31 168.85,933.23 169.85,933.14 170.85,933.04 171.85,932.94 172.85,932.83 173.84,932.72 174.84,932.6 175.84,932.48 176.84,932.36 177.84,932.23 178.84,932.1 179.84,931.96 180.84,931.83 181.84,931.69 182.84,931.56 183.84,931.42 184.84,931.29 185.83,931.16 186.83,931.03 187.83,930.9 188.83,930.77 189.83,930.64 190.83,930.51 191.83,930.37 192.83,930.22 193.83,930.06 194.83,929.89 195.83,929.71 196.83,929.51 197.83,929.29 198.82,929.05 199.82,928.77 200.82,928.43 201.82,928.01 202.82,927.5 203.82,926.92 204.82,926.28 205.82,925.6 206.82,924.89 207.82,924.17 208.82,923.43 209.82,922.66 210.81,921.86 211.81,921.01 212.81,920.13 213.81,919.21 214.81,918.25 215.81,917.27 216.81,916.26 217.81,915.22 218.81,914.14 219.81,913.01 220.81,911.84 221.81,910.64 222.81,909.41 223.8,908.15 224.8,906.88 225.8,905.59 226.8,904.29 227.8,902.98 228.8,901.65 229.8,900.29 230.8,898.91 231.8,897.49 232.8,896.03 233.8,894.52 234.8,892.95 235.79,891.31 236.79,889.6 237.79,887.83 238.79,886.01 239.79,884.16 240.79,882.3 241.79,880.44 242.79,878.61 243.79,876.79 244.79,874.98 245.79,873.18 246.79,871.39 247.79,869.59 248.78,867.79 249.78,865.99 250.78,864.19 251.78,862.39 252.78,860.6 253.78,858.8 254.78,857 255.78,855.2 256.78,853.4 257.78,851.6 258.78,849.8 259.78,848 260.77,846.2 261.77,844.37 262.77,842.54 263.77,840.69 264.77,838.85 265.77,837.03 266.77,835.23 267.77,833.48 268.77,831.78 269.77,830.12 270.77,828.51 271.77,826.93 272.77,825.39 273.76,823.91 274.76,822.48 275.76,821.13 276.76,819.85 277.76,818.66 278.76,817.54 279.76,816.45 280.76,815.37 281.76,814.26 282.76,813.08 283.76,811.8 284.76,810.41 285.75,808.94 286.75,807.46 287.75,806.03 288.75,804.72 289.75,803.57 290.75,802.54 291.75,801.6 292.75,800.72 293.75,799.9 294.75,799.18 295.75,798.61 296.75,798.23 297.75,798.07 298.74,798.15 299.74,798.44 300.74,798.88 301.74,799.4 302.74,799.9 303.74,800.33 304.74,800.67 305.74,800.93 306.74,801.16 307.74,801.38 308.74,801.61 309.74,801.88 310.73,802.23 311.73,802.68 312.73,803.27 313.73,804.07 314.73,805.16 315.73,806.65 316.73,808.53 317.73,810.73 318.73,813.14 319.73,815.72 320.73,818.49 321.73,821.45 322.73,824.53 323.72,827.58 324.72,830.5 325.72,833.24 326.72,835.84 327.72,838.36 328.72,840.82 329.72,843.26 330.72,845.7 331.72,848.18 332.72,850.68 333.72,853.21 334.72,855.74 335.71,858.27 336.71,860.76 337.71,863.2 338.71,865.59 339.71,867.94 340.71,870.25 341.71,872.53 342.71,874.77 343.71,876.97 344.71,879.13 345.71,881.24 346.71,883.29 347.71,885.28 348.7,887.24 349.7,889.15 350.7,891.02 351.7,892.85 352.7,894.63 353.7,896.36 354.7,898.04 355.7,899.67 356.7,901.24 357.7,902.78 358.7,904.28 359.7,905.74 360.69,907.16 361.69,908.53 362.69,909.84 363.69,911.1 364.69,912.31 365.69,913.47 366.69,914.6 367.69,915.69 368.69,916.74 369.69,917.74 370.69,918.7 371.69,919.59 372.69,920.42 373.68,921.19 374.68,921.9 375.68,922.57 376.68,923.19 377.68,923.78 378.68,924.35 379.68,924.91 380.68,925.45 381.68,926 382.68,926.54 383.68,927.09 384.68,927.64 385.67,928.18 386.67,928.7 387.67,929.2 388.67,929.66 389.67,930.09 390.67,930.49 391.67,930.87 392.67,931.24 393.67,931.6 394.67,931.94 395.67,932.25 396.67,932.53 397.67,932.76 398.66,932.93 399.66,933.05 400.66,933.11 401.66,933.15 402.66,933.18 403.66,933.21 404.66,933.23 405.66,933.25 406.66,933.27 407.66,933.29 408.66,933.3 409.66,933.32 410.65,933.33 411.65,933.34 412.65,933.35 413.65,933.36 414.65,933.37 415.65,933.38 416.65,933.39 417.65,933.4 418.65,933.41 419.65,933.42 420.65,933.43 421.65,933.44 422.65,933.45 423.64,933.45 424.64,933.46 425.64,933.47 426.64,933.48 427.64,933.49 428.64,933.49 429.64,933.5 430.64,933.51 431.64,933.51 432.64,933.52 433.64,933.52 434.64,933.53 435.63,933.53 436.63,933.54 437.63,933.54 438.63,933.54 439.63,933.54 440.63,933.55 441.63,933.55 442.63,933.55 443.63,933.55 444.63,933.55 445.63,933.54 446.63,933.54 447.63,933.54 448.62,933.54 449.62,933.54 450.62,933.54 451.62,933.54 452.62,933.54 453.62,933.53 454.62,933.53 455.62,933.53 456.62,933.52 457.62,933.52 458.62,933.52 459.62,933.51 460.61,933.51 461.61,933.51 462.61,933.5 463.61,933.5 464.61,933.49 465.61,933.49 466.61,933.48 467.61,933.48 468.61,933.47 469.61,933.46 470.61,933.46 471.61,933.45 472.61,933.44 473.6,933.43 474.6,933.43 475.6,933.42 476.6,933.41 477.6,933.4 478.6,933.39 479.6,933.38 480.6,933.37 481.6,933.36 482.6,933.35 483.6,933.34 484.6,933.33 485.59,933.31 486.59,933.3 487.59,933.29 488.59,933.27 489.59,933.26 490.59,933.25 491.59,933.24" fill="none" stroke="#a8000e" stroke-width="2.1" stroke-linejoin="round" />
<polyline points="91.91,934.8 92.91,934.8 93.91,934.8 94.91,934.8 95.91,934.8 96.91,934.8 97.91,934.8 98.9,934.8 99.9,934.8 100.9,934.8 101.9,934.8 102.9,934.8 103.9,934.8 104.9,934.8 105.9,934.8 106.9,934.8 107.9,934.8 108.9,934.8 109.9,934.8 110.89,934.8 111.89,934.8 112.89,934.8 113.89,934.8 114.89,934.8 115.89,934.8 116.89,934.8 117.89,934.8 118.89,934.8 119.89,934.8 120.89,934.8 121.89,934.8 122.89,934.8 123.88,934.8 124.88,934.8 125.88,934.8 126.88,934.8 127.88,934.8 128.88,934.8 129.88,934.8 130.88,934.8 131.88,934.8 132.88,934.8 133.88,934.8 134.88,934.8 135.87,934.8 136.87,934.8 137.87,934.8 138.87,934.8 139.87,934.8 140.87,934.8 141.87,934.8 142.87,934.8 143.87,934.79 144.87,934.79 145.87,934.78 146.87,934.77 147.87,934.76 148.86,934.75 149.86,934.73 150.86,934.71 151.86,934.7 152.86,934.68 153.86,934.66 154.86,934.63 155.86,934.61 156.86,934.59 157.86,934.56 158.86,934.54 159.86,934.51 160.85,934.49 161.85,934.46 162.85,934.43 163.85,934.41 164.85,934.38 165.85,934.36 166.85,934.33 167.85,934.3 168.85,934.28 169.85,934.25 170.85,934.22 171.85,934.19 172.85,934.15 173.84,934.12 174.84,934.09 175.84,934.05 176.84,934.01 177.84,933.97 178.84,933.93 179.84,933.89 180.84,933.85 181.84,933.8 182.84,933.75 183.84,933.7 184.84,933.65 185.83,933.6 186.83,933.55 187.83,933.49 188.83,933.43 189.83,933.37 190.83,933.31 191.83,933.24 192.83,933.17 193.83,933.1 194.83,933.03 195.83,932.95 196.83,932.86 197.83,932.77 198.82,932.67 199.82,932.57 200.82,932.47 201.82,932.35 202.82,932.23 203.82,932.1 204.82,931.96 205.82,931.82 206.82,931.67 207.82,931.5 208.82,931.31 209.82,931.07 210.81,930.79 211.81,930.45 212.81,930.06 213.81,929.63 214.81,929.17 215.81,928.67 216.81,928.15 217.81,927.58 218.81,926.96 219.81,926.28 220.81,925.53 221.81,924.73 222.81,923.88 223.8,922.99 224.8,922.07 225.8,921.11 226.8,920.1 227.8,919.04 228.8,917.91 229.8,916.73 230.8,915.5 231.8,914.24 232.8,912.96 233.8,911.67 234.8,910.37 235.79,909.07 236.79,907.75 237.79,906.41 238.79,905.05 239.79,903.65 240.79,902.22 241.79,900.74 242.79,899.22 243.79,897.63 244.79,895.99 245.79,894.28 246.79,892.52 247.79,890.71 248.78,888.86 249.78,886.99 250.78,885.1 251.78,883.2 252.78,881.27 253.78,879.3 254.78,877.29 255.78,875.26 256.78,873.22 257.78,871.19 258.78,869.19 259.78,867.22 260.77,865.3 261.77,863.42 262.77,861.58 263.77,859.77 264.77,857.98 265.77,856.2 266.77,854.43 267.77,852.66 268.77,850.87 269.77,849.06 270.77,847.23 271.77,845.38 272.77,843.51 273.76,841.66 274.76,839.84 275.76,838.06 276.76,836.34 277.76,834.68 278.76,833.03 279.76,831.4 280.76,829.76 281.76,828.17 282.76,826.65 283.76,825.26 284.76,824.04 285.75,823.02 286.75,822.19 287.75,821.48 288.75,820.85 289.75,820.27 290.75,819.73 291.75,819.24 292.75,818.81 293.75,818.45 294.75,818.18 295.75,817.99 296.75,817.93 297.75,818.01 298.74,818.26 299.74,818.68 300.74,819.26 301.74,819.98 302.74,820.82 303.74,821.75 304.74,822.74 305.74,823.79 306.74,824.89 307.74,826.08 308.74,827.44 309.74,829 310.73,830.75 311.73,832.62 312.73,834.54 313.73,836.48 314.73,838.41 315.73,840.34 316.73,842.28 317.73,844.27 318.73,846.29 319.73,848.33 320.73,850.4 321.73,852.5 322.73,854.63 323.72,856.8 324.72,858.99 325.72,861.2 326.72,863.43 327.72,865.65 328.72,867.88 329.72,870.11 330.72,872.35 331.72,874.61 332.72,876.9 333.72,879.19 334.72,881.46 335.71,883.68 336.71,885.82 337.71,887.86 338.71,889.8 339.71,891.64 340.71,893.4 341.71,895.09 342.71,896.73 343.71,898.31 344.71,899.84 345.71,901.32 346.71,902.74 347.71,904.12 348.7,905.44 349.7,906.72 350.7,907.96 351.7,909.17 352.7,910.34 353.7,911.48 354.7,912.6 355.7,913.71 356.7,914.81 357.7,915.9 358.7,916.98 359.7,918.05 360.69,919.09 361.69,920.08 362.69,921.01 363.69,921.88 364.69,922.69 365.69,923.43 366.69,924.14 367.69,924.81 368.69,925.45 369.69,926.05 370.69,926.61 371.69,927.12 372.69,927.6 373.68,928.04 374.68,928.46 375.68,928.87 376.68,929.27 377.68,929.66 378.68,930.04 379.68,930.41 380.68,930.77 381.68,931.11 382.68,931.43 383.68,931.73 384.68,932.01 385.67,932.26 386.67,932.48 387.67,932.68 388.67,932.85 389.67,932.98 390.67,933.09 391.67,933.18 392.67,933.26 393.67,933.33 394.67,933.4 395.67,933.47 396.67,933.53 397.67,933.59 398.66,933.64 399.66,933.69 400.66,933.73 401.66,933.77 402.66,933.8 403.66,933.82 404.66,933.84 405.66,933.85 406.66,933.86 407.66,933.86 408.66,933.86 409.66,933.86 410.65,933.86 411.65,933.86 412.65,933.86 413.65,933.86 414.65,933.86 415.65,933.86 416.65,933.86 417.65,933.86 418.65,933.86 419.65,933.86 420.65,933.86 421.65,933.86 422.65,933.86 423.64,933.86 424.64,933.86 425.64,933.86 426.64,933.86 427.64,933.86 428.64,933.86 429.64,933.86 430.64,933.86 431.64,933.86 432.64,933.86 433.64,933.86 434.64,933.86 435.63,933.86 436.63,933.86 437.63,933.86 438.63,933.86 439.63,933.86 440.63,933.86 441.63,933.86 442.63,933.86 443.63,933.86 444.63,933.86 445.63,933.86 446.63,933.86 447.63,933.85 448.62,933.85 449.62,933.85 450.62,933.85 451.62,933.84 452.62,933.84 453.62,933.84 454.62,933.83 455.62,933.83 456.62,933.82 457.62,933.82 458.62,933.81 459.62,933.81 460.61,933.8 461.61,933.8 462.61,933.79 463.61,933.78 464.61,933.78 465.61,933.77 466.61,933.77 467.61,933.76 468.61,933.75 469.61,933.74 470.61,933.74 471.61,933.73 472.61,933.72 473.6,933.71 474.6,933.7 475.6,933.7 476.6,933.69 477.6,933.68 478.6,933.67 479.6,933.66 480.6,933.65 481.6,933.64 482.6,933.63 483.6,933.62 484.6,933.61 485.59,933.61 486.59,933.6 487.59,933.59 488.59,933.58 489.59,933.57 490.59,933.56 491.59,933.55" fill="none" stroke="#d40008" stroke-width="2.1" stroke-linejoin="round" />
<polyline points="91.91,934.8 92.91,934.8 93.91,934.8 94.91,934.8 95.91,934.8 96.91,934.8 97.91,934.8 98.9,934.8 99.9,934.8 100.9,934.8 101.9,934.8 102.9,934.8 103.9,934.8 104.9,934.8 105.9,934.8 106.9,934.8 107.9,934.8 108.9,934.8 109.9,934.8 110.89,934.8 111.89,934.8 112.89,934.8 113.89,934.8 114.89,934.8 115.89,934.8 116.89,934.8 117.89,934.8 118.89,934.8 119.89,934.8 120.89,934.8 121.89,934.8 122.89,934.8 123.88,934.8 124.88,934.8 125.88,934.8 126.88,934.8 127.88,934.8 128.88,934.8 129.88,934.8 130.88,934.8 131.88,934.8 132.88,934.8 133.88,934.8 134.88,934.8 135.87,934.8 136.87,934.8 137.87,934.8 138.87,934.8 139.87,934.8 140.87,934.8 141.87,934.8 142.87,934.8 143.87,934.8 144.87,934.8 145.87,934.79 146.87,934.79 147.87,934.79 148.86,934.78 149.86,934.78 150.86,934.77 151.86,934.77 152.86,934.76 153.86,934.75 154.86,934.75 155.86,934.74 156.86,934.73 157.86,934.72 158.86,934.71 159.86,934.71 160.85,934.7 161.85,934.69 162.85,934.68 163.85,934.67 164.85,934.66 165.85,934.65 166.85,934.64 167.85,934.63 168.85,934.62 169.85,934.61 170.85,934.6 171.85,934.59 172.85,934.57 173.84,934.56 174.84,934.55 175.84,934.53 176.84,934.51 177.84,934.5 178.84,934.48 179.84,934.46 180.84,934.45 181.84,934.43 182.84,934.41 183.84,934.39 184.84,934.37 185.83,934.35 186.83,934.33 187.83,934.31 188.83,934.29 189.83,934.27 190.83,934.25 191.83,934.23 192.83,934.21 193.83,934.18 194.83,934.16 195.83,934.13 196.83,934.09 197.83,934.06 198.82,934.02 199.82,933.97 200.82,933.9 201.82,933.82 202.82,933.71 203.82,933.59 204.82,933.44 205.82,933.28 206.82,933.1 207.82,932.91 208.82,932.7 209.82,932.46 210.81,932.19 211.81,931.88 212.81,931.53 213.81,931.15 214.81,930.75 215.81,930.31 216.81,929.85 217.81,929.35 218.81,928.81 219.81,928.22 220.81,927.57 221.81,926.87 222.81,926.13 223.8,925.35 224.8,924.54 225.8,923.69 226.8,922.79 227.8,921.84 228.8,920.82 229.8,919.75 230.8,918.63 231.8,917.47 232.8,916.28 233.8,915.07 234.8,913.84 235.79,912.59 236.79,911.32 237.79,910.02 238.79,908.67 239.79,907.27 240.79,905.82 241.79,904.3 242.79,902.7 243.79,900.99 244.79,899.16 245.79,897.21 246.79,895.16 247.79,893.04 248.78,890.84 249.78,888.57 250.78,886.22 251.78,883.86 252.78,881.53 253.78,879.28 254.78,877.09 255.78,874.98 256.78,872.95 257.78,871.06 258.78,869.34 259.78,867.82 260.77,866.46 261.77,865.17 262.77,863.85 263.77,862.41 264.77,860.77 265.77,858.93 266.77,856.93 267.77,854.87 268.77,852.79 269.77,850.73 270.77,848.7 271.77,846.67 272.77,844.67 273.76,842.71 274.76,840.79 275.76,838.91 276.76,837.06 277.76,835.25 278.76,833.49 279.76,831.8 280.76,830.18 281.76,828.6 282.76,827 283.76,825.4 284.76,823.88 285.75,822.54 286.75,821.52 287.75,820.94 288.75,820.9 289.75,821.4 290.75,822.33 291.75,823.53 292.75,824.92 293.75,826.46 294.75,828.11 295.75,829.71 296.75,831.12 297.75,832.27 298.74,833.22 299.74,833.99 300.74,834.57 301.74,834.92 302.74,835.05 303.74,835.02 304.74,834.89 305.74,834.73 306.74,834.57 307.74,834.45 308.74,834.44 309.74,834.67 310.73,835.23 311.73,836.13 312.73,837.29 313.73,838.64 314.73,840.16 315.73,841.9 316.73,843.89 317.73,846.13 318.73,848.54 319.73,851.04 320.73,853.59 321.73,856.19 322.73,858.87 323.72,861.65 324.72,864.52 325.72,867.44 326.72,870.36 327.72,873.21 328.72,875.97 329.72,878.59 330.72,881.1 331.72,883.52 332.72,885.86 333.72,888.15 334.72,890.37 335.71,892.52 336.71,894.59 337.71,896.58 338.71,898.48 339.71,900.32 340.71,902.09 341.71,903.81 342.71,905.46 343.71,907.05 344.71,908.58 345.71,910.04 346.71,911.43 347.71,912.76 348.7,914.03 349.7,915.26 350.7,916.43 351.7,917.56 352.7,918.64 353.7,919.67 354.7,920.63 355.7,921.54 356.7,922.41 357.7,923.23 358.7,924.01 359.7,924.76 360.69,925.47 361.69,926.14 362.69,926.77 363.69,927.35 364.69,927.9 365.69,928.41 366.69,928.89 367.69,929.35 368.69,929.79 369.69,930.19 370.69,930.56 371.69,930.89 372.69,931.18 373.68,931.44 374.68,931.67 375.68,931.89 376.68,932.1 377.68,932.3 378.68,932.5 379.68,932.68 380.68,932.86 381.68,933.02 382.68,933.18 383.68,933.32 384.68,933.45 385.67,933.57 386.67,933.68 387.67,933.77 388.67,933.85 389.67,933.91 390.67,933.96 391.67,934 392.67,934.04 393.67,934.08 394.67,934.11 395.67,934.14 396.67,934.17 397.67,934.2 398.66,934.23 399.66,934.25 400.66,934.27 401.66,934.29 402.66,934.3 403.66,934.31 404.66,934.32 405.66,934.33 406.66,934.33 407.66,934.33 408.66,934.33 409.66,934.33 410.65,934.33 411.65,934.32 412.65,934.32 413.65,934.32 414.65,934.32 415.65,934.31 416.65,934.31 417.65,934.31 418.65,934.3 419.65,934.3 420.65,934.29 421.65,934.29 422.65,934.28 423.64,934.28 424.64,934.27 425.64,934.27 426.64,934.26 427.64,934.25 428.64,934.25 429.64,934.24 430.64,934.24 431.64,934.23 432.64,934.22 433.64,934.22 434.64,934.21 435.63,934.21 436.63,934.2 437.63,934.2 438.63,934.19 439.63,934.18 440.63,934.18 441.63,934.17 442.63,934.17 443.63,934.16 444.63,934.16 445.63,934.15 446.63,934.15 447.63,934.14 448.62,934.14 449.62,934.13 450.62,934.12 451.62,934.12 452.62,934.11 453.62,934.11 454.62,934.1 455.62,934.1 456.62,934.09 457.62,934.08 458.62,934.08 459.62,934.07 460.61,934.07 461.61,934.06 462.61,934.05 463.61,934.05 464.61,934.04 465.61,934.04 466.61,934.03 467.61,934.02 468.61,934.02 469.61,934.01 470.61,934 471.61,934 472.61,933.99 473.6,933.98 474.6,933.98 475.6,933.97 476.6,933.96 477.6,933.96 478.6,933.95 479.6,933.94 480.6,933.94 481.6,933.93 482.6,933.92 483.6,933.92 484.6,933.91 485.59,933.9 486.59,933.9 487.59,933.89 488.59,933.88 489.59,933.87 490.59,933.87 491.59,933.86" fill="none" stroke="#e80000" stroke-width="2.1" stroke-linejoin="round" />
</g>
<rect x="91.9" y="575" width="399.6" height="359.8" fill="none" stroke="#000" stroke-width="2.3"/>
<line x1="91.9" y1="754.4" x2="491.5" y2="754.4" stroke="#000" stroke-width="2.3" />
<path d="M141.87 575v6.8M191.83 575v6.8M241.79 575v6.8M291.75 575v6.8M341.71 575v6.8M391.67 575v6.8M441.63 575v6.8" stroke="#000" stroke-width="2" fill="none"/>
<path d="M116.89 575v3.4M166.85 575v3.4M216.81 575v3.4M266.77 575v3.4M316.73 575v3.4M366.69 575v3.4M416.65 575v3.4M466.61 575v3.4" stroke="#000" stroke-width="2" fill="none"/>
<path d="M141.87 754.4v6.8M191.83 754.4v6.8M241.79 754.4v6.8M291.75 754.4v6.8M341.71 754.4v6.8M391.67 754.4v6.8M441.63 754.4v6.8" stroke="#000" stroke-width="2" fill="none"/>
<path d="M116.89 754.4v3.4M166.85 754.4v3.4M216.81 754.4v3.4M266.77 754.4v3.4M316.73 754.4v3.4M366.69 754.4v3.4M416.65 754.4v3.4M466.61 754.4v3.4" stroke="#000" stroke-width="2" fill="none"/>
<path d="M141.87 754.4v-6.8M191.83 754.4v-6.8M241.79 754.4v-6.8M291.75 754.4v-6.8M341.71 754.4v-6.8M391.67 754.4v-6.8M441.63 754.4v-6.8" stroke="#000" stroke-width="2" fill="none"/>
<path d="M116.89 754.4v-3.4M166.85 754.4v-3.4M216.81 754.4v-3.4M266.77 754.4v-3.4M316.73 754.4v-3.4M366.69 754.4v-3.4M416.65 754.4v-3.4M466.61 754.4v-3.4" stroke="#000" stroke-width="2" fill="none"/>
<path d="M141.87 934.8v-6.8M191.83 934.8v-6.8M241.79 934.8v-6.8M291.75 934.8v-6.8M341.71 934.8v-6.8M391.67 934.8v-6.8M441.63 934.8v-6.8" stroke="#000" stroke-width="2" fill="none"/>
<path d="M116.89 934.8v-3.4M166.85 934.8v-3.4M216.81 934.8v-3.4M266.77 934.8v-3.4M316.73 934.8v-3.4M366.69 934.8v-3.4M416.65 934.8v-3.4M466.61 934.8v-3.4" stroke="#000" stroke-width="2" fill="none"/>
<path d="M91.9 708.9h6.8M91.9 661.2h6.8M91.9 613.5h6.8" stroke="#000" stroke-width="2" fill="none"/>
<path d="M91.9 732.75h3.4M91.9 685.05h3.4M91.9 637.35h3.4M91.9 589.65h3.4" stroke="#000" stroke-width="2" fill="none"/>
<path d="M491.5 708.9h-6.8M491.5 661.2h-6.8M491.5 613.5h-6.8" stroke="#000" stroke-width="2" fill="none"/>
<path d="M491.5 732.75h-3.4M491.5 685.05h-3.4M491.5 637.35h-3.4M491.5 589.65h-3.4" stroke="#000" stroke-width="2" fill="none"/>
<text transform="translate(76.8 717.7) scale(1 1.045)" font-size="24.6" text-anchor="end" stroke="#000" >30</text>
<text transform="translate(76.8 670) scale(1 1.045)" font-size="24.6" text-anchor="end" stroke="#000" >60</text>
<text transform="translate(76.8 622.3) scale(1 1.045)" font-size="24.6" text-anchor="end" stroke="#000" >90</text>
<path d="M91.9 887.79h6.8M91.9 840.78h6.8M91.9 793.77h6.8" stroke="#000" stroke-width="2" fill="none"/>
<path d="M91.9 911.29h3.4M91.9 864.28h3.4M91.9 817.27h3.4M91.9 770.26h3.4" stroke="#000" stroke-width="2" fill="none"/>
<path d="M491.5 887.79h-6.8M491.5 840.78h-6.8M491.5 793.77h-6.8" stroke="#000" stroke-width="2" fill="none"/>
<path d="M491.5 911.29h-3.4M491.5 864.28h-3.4M491.5 817.27h-3.4M491.5 770.26h-3.4" stroke="#000" stroke-width="2" fill="none"/>
<text transform="translate(76.8 896.59) scale(1 1.045)" font-size="24.6" text-anchor="end" stroke="#000" >30</text>
<text transform="translate(76.8 849.58) scale(1 1.045)" font-size="24.6" text-anchor="end" stroke="#000" >60</text>
<text transform="translate(76.8 802.57) scale(1 1.045)" font-size="24.6" text-anchor="end" stroke="#000" >90</text>
<text transform="translate(76.8 944.6) scale(1 1.045)" font-size="24.6" text-anchor="end" stroke="#000" >0</text>
<text transform="translate(90.91 967.4) scale(1 1.045)" font-size="24.6" text-anchor="middle" stroke="#000" >−8</text>
<text transform="translate(140.87 967.4) scale(1 1.045)" font-size="24.6" text-anchor="middle" stroke="#000" >−6</text>
<text transform="translate(190.83 967.4) scale(1 1.045)" font-size="24.6" text-anchor="middle" stroke="#000" >−4</text>
<text transform="translate(240.79 967.4) scale(1 1.045)" font-size="24.6" text-anchor="middle" stroke="#000" >−2</text>
<text transform="translate(291.75 967.4) scale(1 1.045)" font-size="24.6" text-anchor="middle" stroke="#000" >0</text>
<text transform="translate(341.71 967.4) scale(1 1.045)" font-size="24.6" text-anchor="middle" stroke="#000" >2</text>
<text transform="translate(391.67 967.4) scale(1 1.045)" font-size="24.6" text-anchor="middle" stroke="#000" >4</text>
<text transform="translate(441.63 967.4) scale(1 1.045)" font-size="24.6" text-anchor="middle" stroke="#000" >6</text>
<text transform="translate(491.59 967.4) scale(1 1.045)" font-size="24.6" text-anchor="middle" stroke="#000" >8</text>
<text transform="translate(291.5 1004.6) scale(1 1.045)" font-size="24.6" text-anchor="middle" stroke="#000" >Angle (°)</text>
<text transform="translate(27.6 783.6) rotate(-90) scale(1 1.045)" font-size="24.6" text-anchor="middle" stroke="#000" >Intensity (a.u.)</text>
<text transform="translate(103.3 600.3) scale(1 0.98)" font-size="20.5" stroke="#000" >Horizontal profile</text>
<text transform="translate(102.2 784.1) scale(1 0.98)" font-size="20.5" stroke="#000" >Vertical profile</text>
<text transform="translate(107.3 699.4) scale(1 0.98)" font-size="20.5" stroke="#000" >D<tspan font-size="11.8" dy="4.4">50</tspan></text>
<text transform="translate(101 880) scale(1 0.98)" font-size="20.5" stroke="#000" >D<tspan font-size="11.8" dy="4.4">50</tspan></text>
<text transform="translate(269.2 708.2) scale(1 0.98)" font-size="20.5" stroke="#000" >2 mA</text>
<text transform="translate(393.4 685.8) scale(1 0.98)" font-size="20.5" stroke="#000" >7 mA</text>
<text transform="translate(260.8 887.3) scale(1 0.98)" font-size="20.5" stroke="#000" >2 mA</text>
<text transform="translate(375.6 869.4) scale(1 0.98)" font-size="20.5" stroke="#000" >7 mA</text>
<path d="M305.2 688.2Q332 667 380 675.6" fill="none" stroke="#000" stroke-width="2.2"/>
<path d="M384.98 676.04L372.75 678.18L373.31 671.8Z" fill="#000"/>
<path d="M309.5 870.5Q329 849 366 860.2" fill="none" stroke="#000" stroke-width="2.2"/>
<path d="M370.91 861.15L358.52 862.01L359.74 855.72Z" fill="#000"/>
</g>
<g id="pe">
<defs>
<radialGradient id="bhot" ><stop offset="0" stop-color="#f04818"/><stop offset="0.18" stop-color="#f05c18"/><stop offset="0.3" stop-color="#ee9020"/><stop offset="0.38" stop-color="#dcc830"/><stop offset="0.46" stop-color="#90dc68"/><stop offset="0.54" stop-color="#40d8c0"/><stop offset="0.62" stop-color="#20b0f0"/><stop offset="0.71" stop-color="#1478fc"/><stop offset="0.8" stop-color="#0c44f4"/><stop offset="0.88" stop-color="#0a20d0"/><stop offset="0.95" stop-color="#050a70"/><stop offset="1" stop-color="#000000"/></radialGradient>
<radialGradient id="bwarm" ><stop offset="0" stop-color="#ea7426"/><stop offset="0.14" stop-color="#e08c2c"/><stop offset="0.27" stop-color="#c4b83c"/><stop offset="0.38" stop-color="#80d070"/><stop offset="0.49" stop-color="#38c8c0"/><stop offset="0.6" stop-color="#1898f0"/><stop offset="0.72" stop-color="#0e58f0"/><stop offset="0.84" stop-color="#0a2cd4"/><stop offset="0.93" stop-color="#050e80"/><stop offset="1" stop-color="#000000"/></radialGradient>
<radialGradient id="bcore"><stop offset="0" stop-color="#f03c14"/><stop offset="0.55" stop-color="#f05018" stop-opacity="0.9"/><stop offset="0.8" stop-color="#f07a1c" stop-opacity="0.6"/><stop offset="1" stop-color="#eea422" stop-opacity="0"/></radialGradient>
<radialGradient id="sphP" cx="0.38" cy="0.32" r="0.72" fx="0.33" fy="0.27"><stop offset="0" stop-color="#ffffff"/><stop offset="0.13" stop-color="#f0e0ff"/><stop offset="0.3" stop-color="#b060ff"/><stop offset="0.52" stop-color="#8c14f6"/><stop offset="1" stop-color="#7000d4"/></radialGradient>
<filter id="grain" x="-10%" y="-10%" width="120%" height="120%"><feTurbulence type="fractalNoise" baseFrequency="0.8" numOctaves="2" seed="7" result="n"/><feDisplacementMap in="SourceGraphic" in2="n" scale="7" xChannelSelector="R" yChannelSelector="G"/></filter>
</defs>
<text transform="translate(548.4 588.6) scale(1 1.045)" font-size="43" font-weight="bold" >e</text>
<line x1="814.32" y1="812.31" x2="970.56" y2="770.59" stroke="#000" stroke-width="2.2" />
<line x1="995" y1="761.95" x2="1152.6" y2="691.83" stroke="#000" stroke-width="2.2" />
<line x1="1177.34" y1="684.63" x2="1332.98" y2="661.55" stroke="#000" stroke-width="2.2" />
<line x1="1358.75" y1="658.11" x2="1514.29" y2="639.65" stroke="#000" stroke-width="2.2" />
<line x1="1540.06" y1="636.21" x2="1695.7" y2="613.13" stroke="#000" stroke-width="2.2" />
<rect x="662.4" y="814" width="121.9" height="116.9" fill="#000"/>
<ellipse cx="722.4" cy="872.2" rx="20.4" ry="25.2" fill="url(#bwarm)" filter="url(#grain)" transform="rotate(-12 722.4 872.2)"/>
<text transform="translate(669.4 839.5) scale(1 1.045)" font-size="24.6" fill="#fff" stroke="#fff" stroke-width="0.15">2 mA</text>
<text transform="translate(667.9 926.7) scale(1 1.045)" font-size="24.6" fill="#fff" stroke="#fff" stroke-width="0.15">3.3°</text>
<rect x="861.1" y="801.6" width="123.8" height="118.8" fill="#000"/>
<ellipse cx="922.4" cy="860.2" rx="22.8" ry="27.8" fill="url(#bwarm)" filter="url(#grain)" transform="rotate(-12 922.4 860.2)"/>
<text transform="translate(868.9 827.9) scale(1 1.045)" font-size="24.6" fill="#fff" stroke="#fff" stroke-width="0.15">3 mA</text>
<text transform="translate(868.9 913.4) scale(1 1.045)" font-size="24.6" fill="#fff" stroke="#fff" stroke-width="0.15">4.2°</text>
<rect x="1052.9" y="746.8" width="128.7" height="117.1" fill="#000"/>
<ellipse cx="1116.8" cy="805.7" rx="29.8" ry="31.2" fill="url(#bhot)" filter="url(#grain)" transform="rotate(0 1116.8 805.7)"/>
<text transform="translate(1064.8 772.3) scale(1 1.045)" font-size="24.6" fill="#fff" stroke="#fff" stroke-width="0.15">4 mA</text>
<text transform="translate(1066 858.9) scale(1 1.045)" font-size="24.6" fill="#fff" stroke="#fff" stroke-width="0.15">5.7°</text>
<rect x="1256.6" y="687.3" width="131.8" height="119.6" fill="#000"/>
<ellipse cx="1322.7" cy="745" rx="34.6" ry="33.6" fill="url(#bhot)" filter="url(#grain)" transform="rotate(0 1322.7 745)"/>
<ellipse cx="1322.7" cy="745.5" rx="15.92" ry="10.42" fill="url(#bcore)" filter="url(#grain)"/>
<text transform="translate(1273.5 716.1) scale(1 1.045)" font-size="24.6" fill="#fff" stroke="#fff" stroke-width="0.15">5 mA</text>
<text transform="translate(1274.7 800.7) scale(1 1.045)" font-size="24.6" fill="#fff" stroke="#fff" stroke-width="0.15">6.2°</text>
<rect x="1456.9" y="653.6" width="128.8" height="115.2" fill="#000"/>
<ellipse cx="1521.8" cy="712.6" rx="36.6" ry="34.2" fill="url(#bhot)" filter="url(#grain)" transform="rotate(0 1521.8 712.6)"/>
<ellipse cx="1521.8" cy="713.1" rx="16.84" ry="10.6" fill="url(#bcore)" filter="url(#grain)"/>
<text transform="translate(1468.6 677.9) scale(1 1.045)" font-size="24.6" fill="#fff" stroke="#fff" stroke-width="0.15">6 mA</text>
<text transform="translate(1474.3 765.8) scale(1 1.045)" font-size="24.6" fill="#fff" stroke="#fff" stroke-width="0.15">6.6°</text>
<rect x="1658.3" y="627.4" width="123.8" height="116.4" fill="#000"/>
<ellipse cx="1720.4" cy="684.4" rx="37.2" ry="36" fill="url(#bhot)" filter="url(#grain)" transform="rotate(0 1720.4 684.4)"/>
<ellipse cx="1720.4" cy="684.9" rx="17.11" ry="11.16" fill="url(#bcore)" filter="url(#grain)"/>
<text transform="translate(1665.2 652.9) scale(1 1.045)" font-size="24.6" fill="#fff" stroke="#fff" stroke-width="0.15">7 mA</text>
<text transform="translate(1664 738.9) scale(1 1.045)" font-size="24.6" fill="#fff" stroke="#fff" stroke-width="0.15">7.1°</text>
<circle cx="801.76" cy="815.66" r="9.3" fill="url(#sphP)"/>
<circle cx="983.12" cy="767.24" r="9.3" fill="url(#sphP)"/>
<circle cx="1164.48" cy="686.54" r="9.3" fill="url(#sphP)"/>
<circle cx="1345.84" cy="659.64" r="9.3" fill="url(#sphP)"/>
<circle cx="1527.2" cy="638.12" r="9.3" fill="url(#sphP)"/>
<circle cx="1708.56" cy="611.22" r="9.3" fill="url(#sphP)"/>
<rect x="620.4" y="579.2" width="1269.5" height="360.2" fill="none" stroke="#000" stroke-width="2.2"/>
<path d="M801.76 939.4v-6.8M983.12 939.4v-6.8M1164.48 939.4v-6.8M1345.84 939.4v-6.8M1527.2 939.4v-6.8M1708.56 939.4v-6.8" stroke="#000" stroke-width="2" fill="none"/>
<path d="M711.08 939.4v-3.4M892.44 939.4v-3.4M1073.8 939.4v-3.4M1255.16 939.4v-3.4M1436.52 939.4v-3.4M1617.88 939.4v-3.4M1799.24 939.4v-3.4" stroke="#000" stroke-width="2" fill="none"/>
<path d="M801.76 579.2v6.8M983.12 579.2v6.8M1164.48 579.2v6.8M1345.84 579.2v6.8M1527.2 579.2v6.8M1708.56 579.2v6.8" stroke="#000" stroke-width="2" fill="none"/>
<path d="M711.08 579.2v3.4M892.44 579.2v3.4M1073.8 579.2v3.4M1255.16 579.2v3.4M1436.52 579.2v3.4M1617.88 579.2v3.4M1799.24 579.2v3.4" stroke="#000" stroke-width="2" fill="none"/>
<path d="M620.4 885.6h6.8M620.4 831.8h6.8M620.4 778h6.8M620.4 724.2h6.8M620.4 670.4h6.8M620.4 616.6h6.8" stroke="#000" stroke-width="2" fill="none"/>
<path d="M620.4 912.5h3.4M620.4 858.7h3.4M620.4 804.9h3.4M620.4 751.1h3.4M620.4 697.3h3.4M620.4 643.5h3.4M620.4 589.7h3.4" stroke="#000" stroke-width="2" fill="none"/>
<path d="M1889.9 885.6h-6.8M1889.9 831.8h-6.8M1889.9 778h-6.8M1889.9 724.2h-6.8M1889.9 670.4h-6.8M1889.9 616.6h-6.8" stroke="#000" stroke-width="2" fill="none"/>
<path d="M1889.9 912.5h-3.4M1889.9 858.7h-3.4M1889.9 804.9h-3.4M1889.9 751.1h-3.4M1889.9 697.3h-3.4M1889.9 643.5h-3.4M1889.9 589.7h-3.4" stroke="#000" stroke-width="2" fill="none"/>
<text transform="translate(619.8 970.8) scale(1 1.045)" font-size="23.3" text-anchor="middle" stroke="#000" >1</text>
<text transform="translate(801.16 970.8) scale(1 1.045)" font-size="23.3" text-anchor="middle" stroke="#000" >2</text>
<text transform="translate(982.52 970.8) scale(1 1.045)" font-size="23.3" text-anchor="middle" stroke="#000" >3</text>
<text transform="translate(1163.88 970.8) scale(1 1.045)" font-size="23.3" text-anchor="middle" stroke="#000" >4</text>
<text transform="translate(1345.24 970.8) scale(1 1.045)" font-size="23.3" text-anchor="middle" stroke="#000" >5</text>
<text transform="translate(1526.6 970.8) scale(1 1.045)" font-size="23.3" text-anchor="middle" stroke="#000" >6</text>
<text transform="translate(1707.96 970.8) scale(1 1.045)" font-size="23.3" text-anchor="middle" stroke="#000" >7</text>
<text transform="translate(1889.32 970.8) scale(1 1.045)" font-size="23.3" text-anchor="middle" stroke="#000" >8</text>
<text transform="translate(606.4 948) scale(1 1.045)" font-size="23.3" text-anchor="end" stroke="#000" >1</text>
<text transform="translate(606.4 894.2) scale(1 1.045)" font-size="23.3" text-anchor="end" stroke="#000" >2</text>
<text transform="translate(606.4 840.4) scale(1 1.045)" font-size="23.3" text-anchor="end" stroke="#000" >3</text>
<text transform="translate(606.4 786.6) scale(1 1.045)" font-size="23.3" text-anchor="end" stroke="#000" >4</text>
<text transform="translate(606.4 732.8) scale(1 1.045)" font-size="23.3" text-anchor="end" stroke="#000" >5</text>
<text transform="translate(606.4 679) scale(1 1.045)" font-size="23.3" text-anchor="end" stroke="#000" >6</text>
<text transform="translate(606.4 625.2) scale(1 1.045)" font-size="23.3" text-anchor="end" stroke="#000" >7</text>
<text transform="translate(1154.4 1004.4) scale(1 1.045)" font-size="24.8" stroke="#000" >Current (mA)</text>
<text transform="translate(565.4 761.5) rotate(-90) scale(1 1.045)" font-size="24.8" text-anchor="middle" stroke="#000" >Divergence angle (º)</text>
</g>
</svg>
</body></html>
